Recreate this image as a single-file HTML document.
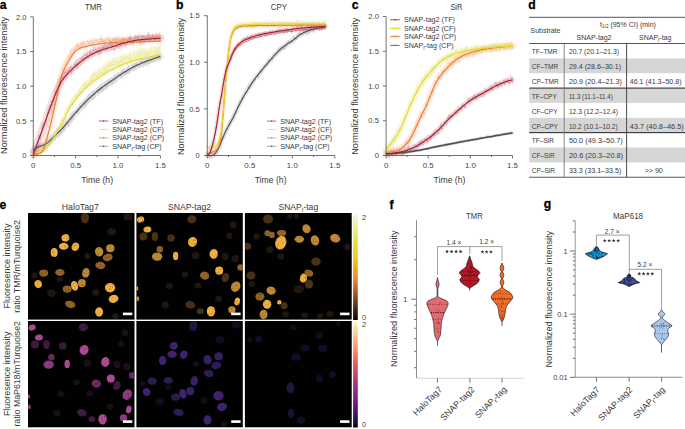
<!DOCTYPE html>
<html><head><meta charset="utf-8"><style>
html,body{margin:0;padding:0;background:#fff;overflow:hidden;}
svg{display:block;font-family:"Liberation Sans",sans-serif;}
</style></head><body>
<svg width="685" height="429" viewBox="0 0 685 429">
<rect width="685" height="429" fill="#fff"/>
<path d="M33.30 150.89 L34.10 150.13 L34.90 149.43 L35.70 148.80 L36.50 148.26 L37.30 147.80 L38.10 147.41 L38.90 147.07 L39.69 146.77 L40.49 146.49 L41.29 146.22 L42.09 145.95 L42.89 145.66 L43.69 145.34 L44.49 144.97 L45.29 144.54 L46.09 144.06 L46.89 143.52 L47.69 142.92 L48.49 142.28 L49.29 141.59 L50.09 140.87 L50.89 140.11 L51.68 139.32 L52.48 138.51 L53.28 137.70 L54.08 136.87 L54.88 136.05 L55.68 135.23 L56.48 134.41 L57.28 133.61 L58.08 132.82 L58.88 132.06 L59.68 131.31 L60.48 130.55 L61.28 129.79 L62.08 129.00 L62.88 128.17 L63.67 127.30 L64.47 126.39 L65.27 125.45 L66.07 124.48 L66.87 123.51 L67.67 122.52 L68.47 121.54 L69.27 120.57 L70.07 119.61 L70.87 118.66 L71.67 117.72 L72.47 116.79 L73.27 115.87 L74.07 114.95 L74.87 114.03 L75.66 113.11 L76.46 112.20 L77.26 111.28 L78.06 110.36 L78.86 109.44 L79.66 108.52 L80.46 107.61 L81.26 106.72 L82.06 105.83 L82.86 104.96 L83.66 104.11 L84.46 103.28 L85.26 102.46 L86.06 101.65 L86.86 100.86 L87.66 100.08 L88.45 99.32 L89.25 98.56 L90.05 97.81 L90.85 97.08 L91.65 96.36 L92.45 95.65 L93.25 94.94 L94.05 94.25 L94.85 93.57 L95.65 92.90 L96.45 92.24 L97.25 91.58 L98.05 90.94 L98.85 90.30 L99.65 89.67 L100.44 89.05 L101.24 88.44 L102.04 87.83 L102.84 87.24 L103.64 86.65 L104.44 86.07 L105.24 85.50 L106.04 84.93 L106.84 84.37 L107.64 83.81 L108.44 83.26 L109.24 82.71 L110.04 82.17 L110.84 81.62 L111.64 81.08 L112.43 80.54 L113.23 79.99 L114.03 79.45 L114.83 78.91 L115.63 78.36 L116.43 77.82 L117.23 77.27 L118.03 76.73 L118.83 76.19 L119.63 75.65 L120.43 75.12 L121.23 74.59 L122.03 74.07 L122.83 73.55 L123.63 73.04 L124.42 72.54 L125.22 72.04 L126.02 71.54 L126.82 71.05 L127.62 70.56 L128.42 70.08 L129.22 69.60 L130.02 69.14 L130.82 68.68 L131.62 68.24 L132.42 67.81 L133.22 67.38 L134.02 66.98 L134.82 66.58 L135.62 66.19 L136.41 65.81 L137.21 65.44 L138.01 65.07 L138.81 64.72 L139.61 64.36 L140.41 64.02 L141.21 63.68 L142.01 63.34 L142.81 63.01 L143.61 62.69 L144.41 62.37 L145.21 62.05 L146.01 61.74 L146.81 61.44 L147.61 61.14 L148.40 60.84 L149.20 60.55 L150.00 60.26 L150.80 59.97 L151.60 59.68 L152.40 59.40 L153.20 59.11 L154.00 58.83 L154.80 58.56 L155.60 58.28 L156.40 58.01 L157.20 57.74 L158.00 57.47 L158.80 57.20 L159.60 56.94 L160.39 56.68" stroke="#a5a5a5" stroke-width="6.86" stroke-opacity="0.22" fill="none" stroke-linecap="round"/>
<path d="M33.3 145.4V153.7M34.0 146.4V151.2M34.6 147.1V154.6M35.3 144.9V153.3M35.9 144.0V152.8M36.6 145.1V151.1M37.2 144.8V150.9M37.9 143.6V151.6M38.5 142.3V151.5M39.2 142.9V146.1M39.8 140.7V150.2M40.5 143.5V149.1M41.1 144.4V147.7M41.8 142.7V147.3M42.4 144.6V149.3M43.1 142.8V147.4M43.7 142.6V147.6M44.4 142.3V145.5M45.0 140.3V147.7M45.7 143.3V147.6M46.3 139.9V143.8M47.0 140.9V146.2M47.6 138.5V148.0M48.3 141.1V147.0M48.9 138.6V143.7M49.6 139.1V146.2M50.2 136.0V142.5M50.9 137.9V145.0M51.5 134.4V143.0M52.2 135.7V141.6M52.9 133.6V141.5M53.5 132.5V140.1M54.2 134.3V140.9M54.8 131.1V139.5M55.5 133.3V139.7M56.1 133.3V136.5M56.8 127.7V137.5M57.4 129.5V136.6M58.1 130.1V136.6M58.7 126.9V136.7M59.4 127.0V135.9M60.0 129.9V134.6M60.7 129.4V136.4M61.3 126.9V133.1M62.0 124.4V134.1M62.6 125.6V128.7M63.3 122.8V131.9M63.9 124.8V133.0M64.6 122.4V129.3M65.2 123.7V129.7M65.9 119.3V126.2M66.5 121.0V125.4M67.2 121.6V127.1M67.8 119.6V125.1M68.5 119.3V126.5M69.1 118.0V124.2M69.8 117.1V121.3M70.5 115.5V122.6M71.1 112.9V121.5M71.8 114.7V123.4M72.4 113.1V120.8M73.1 112.3V115.9M73.7 111.1V119.3M74.4 112.2V117.0M75.0 110.0V115.4M75.7 110.4V114.0M76.3 109.6V113.8M77.0 108.1V113.0M77.6 108.5V113.8M78.3 108.1V114.4M78.9 105.4V111.3M79.6 106.3V110.6M80.2 102.9V109.4M80.9 103.5V108.0M81.5 106.3V109.5M82.2 105.3V108.5M82.8 101.9V106.1M83.5 99.0V106.9M84.1 101.9V106.5M84.8 99.2V109.0M85.4 99.6V104.2M86.1 99.1V106.6M86.7 99.4V104.7M87.4 95.8V103.2M88.0 94.0V103.7M88.7 94.2V103.3M89.4 96.6V101.8M90.0 91.2V100.7M90.7 94.9V99.7M91.3 96.2V99.3M92.0 91.5V100.2M92.6 90.9V100.5M93.3 91.0V100.0M93.9 89.8V99.5M94.6 91.3V97.0M95.2 91.7V97.2M95.9 89.3V95.3M96.5 88.5V92.9M97.2 87.9V93.0M97.8 86.9V93.4M98.5 86.9V96.2M99.1 86.6V89.8M99.8 84.4V94.2M100.4 84.0V92.4M101.1 85.1V92.8M101.7 83.1V91.9M102.4 82.2V91.3M103.0 83.6V91.4M103.7 87.3V92.0M104.3 81.8V89.9M105.0 80.5V89.8M105.6 82.6V87.1M106.3 80.3V89.1M106.9 82.9V88.5M107.6 79.8V88.8M108.3 79.1V86.3M108.9 78.9V82.8M109.6 79.7V86.5M110.2 80.0V83.6M110.9 76.9V85.9M111.5 78.0V83.4M112.2 79.0V86.3M112.8 76.6V83.6M113.5 78.5V83.1M114.1 74.1V83.3M114.8 75.1V82.0M115.4 75.0V80.0M116.1 74.4V82.8M116.7 73.7V81.4M117.4 75.5V79.2M118.0 73.4V76.8M118.7 72.5V77.2M119.3 72.8V76.7M120.0 73.4V77.6M120.6 73.0V76.8M121.3 68.2V77.5M121.9 71.5V80.8M122.6 69.3V74.3M123.2 71.4V75.2M123.9 67.9V75.4M124.5 67.4V77.2M125.2 69.5V74.6M125.9 70.0V75.2M126.5 70.1V73.6M127.2 63.6V73.3M127.8 70.0V73.8M128.5 64.9V74.6M129.1 64.9V71.6M129.8 67.5V72.3M130.4 66.9V73.7M131.1 67.0V70.6M131.7 65.0V69.9M132.4 62.9V70.5M133.0 63.9V71.3M133.7 63.6V68.8M134.3 64.6V69.8M135.0 62.7V71.9M135.6 61.8V66.9M136.3 63.0V70.0M136.9 60.9V68.0M137.6 62.9V67.6M138.2 63.0V66.5M138.9 63.3V66.8M139.5 60.8V68.2M140.2 61.4V67.8M140.8 57.6V66.5M141.5 58.6V67.1M142.1 60.5V64.1M142.8 58.2V66.6M143.4 58.1V67.9M144.1 60.2V64.0M144.8 59.8V66.3M145.4 56.6V65.8M146.1 60.1V64.2M146.7 58.6V63.9M147.4 56.7V66.0M148.0 55.8V64.6M148.7 58.8V67.0M149.3 57.7V63.8M150.0 58.8V62.9M150.6 58.0V62.8M151.3 59.6V63.1M151.9 54.3V61.1M152.6 56.4V63.1M153.2 55.5V61.3M153.9 57.1V62.5M154.5 54.9V62.4M155.2 55.2V61.1M155.8 55.8V61.3M156.5 56.1V60.1M157.1 52.8V61.6M157.8 54.1V59.9M158.4 56.2V60.8M159.1 54.7V57.8M159.7 54.3V61.8M160.4 53.9V59.9" stroke="#a5a5a5" stroke-width="0.5" stroke-opacity="0.45" fill="none"/>
<path d="M32.6 149.5h1.4M33.3 148.8h1.4M33.9 150.8h1.4M34.6 149.1h1.4M35.2 148.4h1.4M35.9 148.1h1.4M36.5 147.8h1.4M37.2 147.6h1.4M37.8 146.9h1.4M38.5 144.5h1.4M39.1 145.4h1.4M39.8 146.3h1.4M40.4 146.1h1.4M41.1 145.0h1.4M41.7 147.0h1.4M42.4 145.1h1.4M43.0 145.1h1.4M43.7 143.9h1.4M44.3 144.0h1.4M45.0 145.4h1.4M45.6 141.8h1.4M46.3 143.5h1.4M46.9 143.3h1.4M47.6 144.1h1.4M48.2 141.1h1.4M48.9 142.7h1.4M49.5 139.2h1.4M50.2 141.4h1.4M50.8 138.7h1.4M51.5 138.6h1.4M52.2 137.5h1.4M52.8 136.3h1.4M53.5 137.6h1.4M54.1 135.3h1.4M54.8 136.5h1.4M55.4 134.9h1.4M56.1 132.6h1.4M56.7 133.0h1.4M57.4 133.3h1.4M58.0 131.8h1.4M58.7 131.4h1.4M59.3 132.3h1.4M60.0 132.9h1.4M60.6 130.0h1.4M61.3 129.3h1.4M61.9 127.1h1.4M62.6 127.3h1.4M63.2 128.9h1.4M63.9 125.8h1.4M64.5 126.7h1.4M65.2 122.7h1.4M65.8 123.2h1.4M66.5 124.3h1.4M67.1 122.3h1.4M67.8 122.9h1.4M68.4 121.1h1.4M69.1 119.2h1.4M69.8 119.0h1.4M70.4 117.2h1.4M71.1 119.0h1.4M71.7 116.9h1.4M72.4 114.1h1.4M73.0 115.2h1.4M73.7 114.6h1.4M74.3 112.7h1.4M75.0 112.2h1.4M75.6 111.7h1.4M76.3 110.5h1.4M76.9 111.1h1.4M77.6 111.2h1.4M78.2 108.4h1.4M78.9 108.5h1.4M79.5 106.1h1.4M80.2 105.7h1.4M80.8 107.9h1.4M81.5 106.9h1.4M82.1 104.0h1.4M82.8 103.0h1.4M83.4 104.2h1.4M84.1 104.1h1.4M84.7 101.9h1.4M85.4 102.8h1.4M86.0 102.0h1.4M86.7 99.5h1.4M87.3 98.9h1.4M88.0 98.8h1.4M88.7 99.2h1.4M89.3 95.9h1.4M90.0 97.3h1.4M90.6 97.7h1.4M91.3 95.9h1.4M91.9 95.7h1.4M92.6 95.5h1.4M93.2 94.6h1.4M93.9 94.2h1.4M94.5 94.4h1.4M95.2 92.3h1.4M95.8 90.7h1.4M96.5 90.4h1.4M97.1 90.2h1.4M97.8 91.6h1.4M98.4 88.2h1.4M99.1 89.3h1.4M99.7 88.2h1.4M100.4 88.9h1.4M101.0 87.5h1.4M101.7 86.7h1.4M102.3 87.5h1.4M103.0 89.6h1.4M103.6 85.8h1.4M104.3 85.1h1.4M104.9 84.9h1.4M105.6 84.7h1.4M106.2 85.7h1.4M106.9 84.3h1.4M107.6 82.7h1.4M108.2 80.9h1.4M108.9 83.1h1.4M109.5 81.8h1.4M110.2 81.4h1.4M110.8 80.7h1.4M111.5 82.6h1.4M112.1 80.1h1.4M112.8 80.8h1.4M113.4 78.7h1.4M114.1 78.5h1.4M114.7 77.5h1.4M115.4 78.6h1.4M116.0 77.5h1.4M116.7 77.3h1.4M117.3 75.1h1.4M118.0 74.9h1.4M118.6 74.8h1.4M119.3 75.5h1.4M119.9 74.9h1.4M120.6 72.8h1.4M121.2 76.1h1.4M121.9 71.8h1.4M122.5 73.3h1.4M123.2 71.7h1.4M123.8 72.3h1.4M124.5 72.0h1.4M125.2 72.6h1.4M125.8 71.9h1.4M126.5 68.5h1.4M127.1 71.9h1.4M127.8 69.7h1.4M128.4 68.3h1.4M129.1 69.9h1.4M129.7 70.3h1.4M130.4 68.8h1.4M131.0 67.5h1.4M131.7 66.7h1.4M132.3 67.6h1.4M133.0 66.2h1.4M133.6 67.2h1.4M134.3 67.3h1.4M134.9 64.3h1.4M135.6 66.5h1.4M136.2 64.4h1.4M136.9 65.3h1.4M137.5 64.8h1.4M138.2 65.1h1.4M138.8 64.5h1.4M139.5 64.6h1.4M140.1 62.1h1.4M140.8 62.9h1.4M141.4 62.3h1.4M142.1 62.4h1.4M142.7 63.0h1.4M143.4 62.1h1.4M144.1 63.1h1.4M144.7 61.2h1.4M145.4 62.1h1.4M146.0 61.3h1.4M146.7 61.4h1.4M147.3 60.2h1.4M148.0 62.9h1.4M148.6 60.7h1.4M149.3 60.9h1.4M149.9 60.4h1.4M150.6 61.3h1.4M151.2 57.7h1.4M151.9 59.8h1.4M152.5 58.4h1.4M153.2 59.8h1.4M153.8 58.7h1.4M154.5 58.2h1.4M155.1 58.5h1.4M155.8 58.1h1.4M156.4 57.2h1.4M157.1 57.0h1.4M157.7 58.5h1.4M158.4 56.3h1.4M159.0 58.1h1.4M159.7 56.9h1.4" stroke="#a5a5a5" stroke-width="0.8" stroke-opacity="0.6" fill="none"/>
<path d="M33.30 153.17 L34.10 152.75 L34.90 152.36 L35.70 152.02 L36.50 151.72 L37.30 151.45 L38.10 151.18 L38.90 150.91 L39.69 150.60 L40.49 150.24 L41.29 149.81 L42.09 149.31 L42.89 148.71 L43.69 147.99 L44.49 147.16 L45.29 146.21 L46.09 145.17 L46.89 144.04 L47.69 142.86 L48.49 141.63 L49.29 140.36 L50.09 139.07 L50.89 137.76 L51.68 136.45 L52.48 135.12 L53.28 133.78 L54.08 132.43 L54.88 131.06 L55.68 129.67 L56.48 128.26 L57.28 126.84 L58.08 125.44 L58.88 124.08 L59.68 122.73 L60.48 121.37 L61.28 119.93 L62.08 118.39 L62.88 116.72 L63.67 114.95 L64.47 113.12 L65.27 111.26 L66.07 109.42 L66.87 107.64 L67.67 105.94 L68.47 104.33 L69.27 102.82 L70.07 101.40 L70.87 100.05 L71.67 98.75 L72.47 97.50 L73.27 96.29 L74.07 95.10 L74.87 93.94 L75.66 92.79 L76.46 91.67 L77.26 90.57 L78.06 89.49 L78.86 88.44 L79.66 87.40 L80.46 86.39 L81.26 85.40 L82.06 84.44 L82.86 83.50 L83.66 82.58 L84.46 81.69 L85.26 80.82 L86.06 79.97 L86.86 79.13 L87.66 78.32 L88.45 77.52 L89.25 76.74 L90.05 75.98 L90.85 75.23 L91.65 74.51 L92.45 73.79 L93.25 73.10 L94.05 72.42 L94.85 71.76 L95.65 71.12 L96.45 70.48 L97.25 69.85 L98.05 69.23 L98.85 68.62 L99.65 68.00 L100.44 67.38 L101.24 66.76 L102.04 66.14 L102.84 65.53 L103.64 64.92 L104.44 64.39 L105.24 63.89 L106.04 63.40 L106.84 62.93 L107.64 62.47 L108.44 62.02 L109.24 61.57 L110.04 61.13 L110.84 60.71 L111.64 60.29 L112.43 59.87 L113.23 59.47 L114.03 59.07 L114.83 58.68 L115.63 58.30 L116.43 57.92 L117.23 57.55 L118.03 57.19 L118.83 56.83 L119.63 56.48 L120.43 56.14 L121.23 55.80 L122.03 55.47 L122.83 55.14 L123.63 54.81 L124.42 54.49 L125.22 54.18 L126.02 53.86 L126.82 53.56 L127.62 53.25 L128.42 52.95 L129.22 52.66 L130.02 52.38 L130.82 52.10 L131.62 51.84 L132.42 51.58 L133.22 51.34 L134.02 51.10 L134.82 50.88 L135.62 50.66 L136.41 50.45 L137.21 50.24 L138.01 50.04 L138.81 49.85 L139.61 49.66 L140.41 49.48 L141.21 49.29 L142.01 49.11 L142.81 48.94 L143.61 48.77 L144.41 48.60 L145.21 48.43 L146.01 48.27 L146.81 48.11 L147.61 47.95 L148.40 47.80 L149.20 47.64 L150.00 47.49 L150.80 47.33 L151.60 47.18 L152.40 47.03 L153.20 46.87 L154.00 46.71 L154.80 46.56 L155.60 46.40 L156.40 46.24 L157.20 46.08 L158.00 45.93 L158.80 45.77 L159.60 45.61 L160.39 45.45 L160.39 56.68 L159.60 56.84 L158.80 56.99 L158.00 57.15 L157.20 57.31 L156.40 57.47 L155.60 57.62 L154.80 57.78 L154.00 57.94 L153.20 58.10 L152.40 58.25 L151.60 58.41 L150.80 58.56 L150.00 58.72 L149.20 58.87 L148.40 59.02 L147.61 59.18 L146.81 59.33 L146.01 59.49 L145.21 59.66 L144.41 59.82 L143.61 59.99 L142.81 60.17 L142.01 60.34 L141.21 60.52 L140.41 60.70 L139.61 60.89 L138.81 61.08 L138.01 61.27 L137.21 61.47 L136.41 61.68 L135.62 61.89 L134.82 62.10 L134.02 62.33 L133.22 62.57 L132.42 62.81 L131.62 63.07 L130.82 63.33 L130.02 63.61 L129.22 63.89 L128.42 64.18 L127.62 64.48 L126.82 64.78 L126.02 65.09 L125.22 65.40 L124.42 65.72 L123.63 66.04 L122.83 66.36 L122.03 66.69 L121.23 67.03 L120.43 67.37 L119.63 67.71 L118.83 68.06 L118.03 68.42 L117.23 68.78 L116.43 69.15 L115.63 69.52 L114.83 69.91 L114.03 70.30 L113.23 70.69 L112.43 71.10 L111.64 71.51 L110.84 71.93 L110.04 72.36 L109.24 72.80 L108.44 73.24 L107.64 73.70 L106.84 74.16 L106.04 74.63 L105.24 75.12 L104.44 75.61 L103.64 76.12 L102.84 76.63 L102.04 77.15 L101.24 77.67 L100.44 78.19 L99.65 78.72 L98.85 79.24 L98.05 79.76 L97.25 80.29 L96.45 80.82 L95.65 81.36 L94.85 81.91 L94.05 82.47 L93.25 83.06 L92.45 83.65 L91.65 84.27 L90.85 84.90 L90.05 85.55 L89.25 86.22 L88.45 86.91 L87.66 87.61 L86.86 88.33 L86.06 89.06 L85.26 89.82 L84.46 90.60 L83.66 91.40 L82.86 92.22 L82.06 93.06 L81.26 93.93 L80.46 94.82 L79.66 95.74 L78.86 96.68 L78.06 97.64 L77.26 98.62 L76.46 99.63 L75.66 100.65 L74.87 101.70 L74.07 102.77 L73.27 103.86 L72.47 104.98 L71.67 106.13 L70.87 107.33 L70.07 108.59 L69.27 109.92 L68.47 111.33 L67.67 112.84 L66.87 114.45 L66.07 116.14 L65.27 117.88 L64.47 119.64 L63.67 121.38 L62.88 123.06 L62.08 124.63 L61.28 126.08 L60.48 127.41 L59.68 128.68 L58.88 129.93 L58.08 131.21 L57.28 132.51 L56.48 133.83 L55.68 135.15 L54.88 136.44 L54.08 137.72 L53.28 138.97 L52.48 140.22 L51.68 141.45 L50.89 142.67 L50.09 143.88 L49.29 145.08 L48.49 146.25 L47.69 147.38 L46.89 148.47 L46.09 149.50 L45.29 150.45 L44.49 151.30 L43.69 152.04 L42.89 152.66 L42.09 153.16 L41.29 153.57 L40.49 153.90 L39.69 154.17 L38.90 154.38 L38.10 154.56 L37.30 154.73 L36.50 154.91 L35.70 155.12 L34.90 155.36 L34.10 155.65 L33.30 155.97Z" fill="#e9e27a" fill-opacity="0.22" stroke="none"/>
<path d="M33.3 153.9V155.9M34.0 153.7V156.4M34.6 153.1V155.6M35.3 152.1V155.2M35.9 151.3V153.5M36.6 152.3V155.8M37.2 151.3V154.5M37.9 150.7V155.1M38.5 149.9V154.4M39.2 150.3V153.0M39.8 151.3V154.3M40.5 151.2V155.4M41.1 149.4V154.3M41.8 149.8V154.9M42.4 148.9V151.3M43.1 149.4V152.2M43.7 147.4V152.2M44.4 147.4V149.4M45.0 147.5V150.8M45.7 146.9V151.1M46.3 145.3V147.4M47.0 141.8V148.1M47.6 143.2V146.4M48.3 142.2V148.5M48.9 139.9V145.6M49.6 139.3V145.4M50.2 139.8V144.1M50.9 138.0V144.7M51.5 135.2V141.4M52.2 136.1V140.5M52.9 135.2V138.1M53.5 131.8V138.8M54.2 131.7V137.2M54.8 131.7V136.3M55.5 130.3V134.0M56.1 127.8V134.4M56.8 127.4V132.4M57.4 128.1V130.8M58.1 125.7V133.0M58.7 126.4V130.2M59.4 124.4V128.6M60.0 120.7V126.9M60.7 120.3V127.8M61.3 117.3V125.0M62.0 117.4V123.2M62.6 116.5V124.7M63.3 116.2V121.5M63.9 116.8V121.5M64.6 112.6V116.3M65.2 109.3V117.2M65.9 112.2V120.3M66.5 107.9V117.5M67.2 105.9V112.9M67.8 105.3V110.5M68.5 105.6V112.4M69.1 105.0V108.2M69.8 104.1V109.5M70.5 100.8V106.9M71.1 99.5V106.3M71.8 100.3V108.4M72.4 100.3V103.7M73.1 97.0V102.4M73.7 97.0V106.7M74.4 96.5V103.9M75.0 91.0V101.0M75.7 93.5V100.2M76.3 93.0V99.0M77.0 96.9V101.8M77.6 92.2V98.7M78.3 92.7V96.4M78.9 90.2V97.2M79.6 85.2V96.1M80.2 87.4V98.7M80.9 86.3V96.5M81.5 87.3V96.6M82.2 83.8V93.2M82.8 84.3V93.7M83.5 83.6V93.1M84.1 78.1V89.6M84.8 81.5V92.3M85.4 80.6V87.8M86.1 83.4V89.8M86.7 80.2V89.3M87.4 83.8V89.3M88.0 77.3V85.9M88.7 81.4V86.0M89.4 80.2V88.4M90.0 77.2V84.8M90.7 75.8V85.0M91.3 73.2V86.7M92.0 74.2V85.4M92.6 75.1V85.5M93.3 71.1V84.4M93.9 72.7V79.9M94.6 69.0V78.8M95.2 70.8V79.1M95.9 76.0V82.3M96.5 70.1V81.5M97.2 72.2V79.7M97.8 72.6V83.7M98.5 70.6V77.2M99.1 64.6V77.8M99.8 68.5V75.7M100.4 66.5V81.7M101.1 70.8V76.0M101.7 68.3V83.0M102.4 67.8V77.5M103.0 65.5V78.9M103.7 64.2V76.2M104.3 68.0V74.8M105.0 59.8V75.1M105.6 63.1V76.2M106.3 64.7V75.6M106.9 66.2V72.8M107.6 61.4V70.5M108.3 58.5V71.9M108.9 60.6V73.7M109.6 59.5V67.9M110.2 59.8V70.3M110.9 62.0V68.1M111.5 59.8V71.5M112.2 57.5V72.5M112.8 58.7V71.6M113.5 57.4V71.5M114.1 57.4V66.3M114.8 57.8V72.2M115.4 58.6V64.7M116.1 56.8V66.3M116.7 62.0V68.9M117.4 59.2V66.8M118.0 56.1V67.6M118.7 60.9V68.3M119.3 56.8V68.5M120.0 56.2V71.4M120.6 54.1V68.0M121.3 54.1V68.7M121.9 56.2V67.7M122.6 51.3V66.6M123.2 57.3V70.8M123.9 54.5V61.1M124.5 56.4V63.1M125.2 53.8V66.2M125.9 54.4V60.9M126.5 53.5V63.7M127.2 53.9V59.3M127.8 59.8V65.5M128.5 54.2V62.3M129.1 55.7V62.0M129.8 51.6V63.7M130.4 50.9V64.3M131.1 53.0V65.4M131.7 56.4V65.8M132.4 54.9V67.0M133.0 57.2V64.9M133.7 46.5V58.1M134.3 50.4V59.3M135.0 53.1V64.0M135.6 55.1V60.7M136.3 53.8V61.0M136.9 46.8V61.7M137.6 52.0V65.0M138.2 47.5V60.9M138.9 52.2V60.0M139.5 50.7V66.7M140.2 45.1V59.7M140.8 43.9V58.5M141.5 46.9V61.0M142.1 49.3V59.5M142.8 56.0V61.4M143.4 44.6V55.5M144.1 50.6V60.0M144.8 47.3V60.2M145.4 48.2V59.1M146.1 51.2V57.2M146.7 50.8V56.2M147.4 49.8V59.1M148.0 50.5V56.9M148.7 48.2V62.1M149.3 47.6V56.0M150.0 52.1V61.8M150.6 48.6V57.3M151.3 45.8V54.6M151.9 45.9V57.4M152.6 54.6V60.8M153.2 45.7V61.8M153.9 47.7V60.7M154.5 45.1V56.1M155.2 47.3V62.4M155.8 47.7V54.5M156.5 48.8V57.9M157.1 48.2V57.1M157.8 46.0V57.4M158.4 41.6V53.9M159.1 46.0V54.5M159.7 47.5V56.1M160.4 42.5V55.9" stroke="#e9e27a" stroke-width="0.5" stroke-opacity="0.45" fill="none"/>
<path d="M32.6 154.9h1.4M33.3 155.1h1.4M33.9 154.4h1.4M34.6 153.7h1.4M35.2 152.4h1.4M35.9 154.0h1.4M36.5 152.9h1.4M37.2 152.9h1.4M37.8 152.2h1.4M38.5 151.6h1.4M39.1 152.8h1.4M39.8 153.3h1.4M40.4 151.9h1.4M41.1 152.4h1.4M41.7 150.1h1.4M42.4 150.8h1.4M43.0 149.8h1.4M43.7 148.4h1.4M44.3 149.1h1.4M45.0 149.0h1.4M45.6 146.3h1.4M46.3 145.0h1.4M46.9 144.8h1.4M47.6 145.3h1.4M48.2 142.8h1.4M48.9 142.4h1.4M49.5 142.0h1.4M50.2 141.4h1.4M50.8 138.3h1.4M51.5 138.3h1.4M52.2 136.6h1.4M52.8 135.3h1.4M53.5 134.5h1.4M54.1 134.0h1.4M54.8 132.2h1.4M55.4 131.1h1.4M56.1 129.9h1.4M56.7 129.4h1.4M57.4 129.4h1.4M58.0 128.3h1.4M58.7 126.5h1.4M59.3 123.8h1.4M60.0 124.1h1.4M60.6 121.2h1.4M61.3 120.3h1.4M61.9 120.6h1.4M62.6 118.8h1.4M63.2 119.1h1.4M63.9 114.4h1.4M64.5 113.3h1.4M65.2 116.3h1.4M65.8 112.7h1.4M66.5 109.4h1.4M67.1 107.9h1.4M67.8 109.0h1.4M68.4 106.6h1.4M69.1 106.8h1.4M69.8 103.8h1.4M70.4 102.9h1.4M71.1 104.3h1.4M71.7 102.0h1.4M72.4 99.7h1.4M73.0 101.8h1.4M73.7 100.2h1.4M74.3 96.0h1.4M75.0 96.9h1.4M75.6 96.0h1.4M76.3 99.4h1.4M76.9 95.5h1.4M77.6 94.6h1.4M78.2 93.7h1.4M78.9 90.6h1.4M79.5 93.1h1.4M80.2 91.4h1.4M80.8 92.0h1.4M81.5 88.5h1.4M82.1 89.0h1.4M82.8 88.4h1.4M83.4 83.8h1.4M84.1 86.9h1.4M84.7 84.2h1.4M85.4 86.6h1.4M86.0 84.7h1.4M86.7 86.6h1.4M87.3 81.6h1.4M88.0 83.7h1.4M88.7 84.3h1.4M89.3 81.0h1.4M90.0 80.4h1.4M90.6 80.0h1.4M91.3 79.8h1.4M91.9 80.3h1.4M92.6 77.7h1.4M93.2 76.3h1.4M93.9 73.9h1.4M94.5 74.9h1.4M95.2 79.2h1.4M95.8 75.8h1.4M96.5 75.9h1.4M97.1 78.1h1.4M97.8 73.9h1.4M98.4 71.2h1.4M99.1 72.1h1.4M99.7 74.1h1.4M100.4 73.4h1.4M101.0 75.6h1.4M101.7 72.7h1.4M102.3 72.2h1.4M103.0 70.2h1.4M103.6 71.4h1.4M104.3 67.4h1.4M104.9 69.6h1.4M105.6 70.1h1.4M106.2 69.5h1.4M106.9 66.0h1.4M107.6 65.2h1.4M108.2 67.2h1.4M108.9 63.7h1.4M109.5 65.0h1.4M110.2 65.0h1.4M110.8 65.7h1.4M111.5 65.0h1.4M112.1 65.2h1.4M112.8 64.4h1.4M113.4 61.8h1.4M114.1 65.0h1.4M114.7 61.7h1.4M115.4 61.5h1.4M116.0 65.4h1.4M116.7 63.0h1.4M117.3 61.8h1.4M118.0 64.6h1.4M118.6 62.6h1.4M119.3 63.8h1.4M119.9 61.0h1.4M120.6 61.4h1.4M121.2 62.0h1.4M121.9 59.0h1.4M122.5 64.0h1.4M123.2 57.8h1.4M123.8 59.7h1.4M124.5 60.0h1.4M125.2 57.6h1.4M125.8 58.6h1.4M126.5 56.6h1.4M127.1 62.6h1.4M127.8 58.2h1.4M128.4 58.8h1.4M129.1 57.7h1.4M129.7 57.6h1.4M130.4 59.2h1.4M131.0 61.1h1.4M131.7 60.9h1.4M132.3 61.0h1.4M133.0 52.3h1.4M133.6 54.8h1.4M134.3 58.5h1.4M134.9 57.9h1.4M135.6 57.4h1.4M136.2 54.2h1.4M136.9 58.5h1.4M137.5 54.2h1.4M138.2 56.1h1.4M138.8 58.7h1.4M139.5 52.4h1.4M140.1 51.2h1.4M140.8 54.0h1.4M141.4 54.4h1.4M142.1 58.7h1.4M142.7 50.0h1.4M143.4 55.3h1.4M144.1 53.8h1.4M144.7 53.7h1.4M145.4 54.2h1.4M146.0 53.5h1.4M146.7 54.4h1.4M147.3 53.7h1.4M148.0 55.2h1.4M148.6 51.8h1.4M149.3 56.9h1.4M149.9 52.9h1.4M150.6 50.2h1.4M151.2 51.6h1.4M151.9 57.7h1.4M152.5 53.8h1.4M153.2 54.2h1.4M153.8 50.6h1.4M154.5 54.9h1.4M155.1 51.1h1.4M155.8 53.3h1.4M156.4 52.6h1.4M157.1 51.7h1.4M157.7 47.8h1.4M158.4 50.3h1.4M159.0 51.8h1.4M159.7 49.2h1.4" stroke="#e9e27a" stroke-width="0.8" stroke-opacity="0.6" fill="none"/>
<path d="M33.30 153.07 L34.10 152.79 L34.90 152.51 L35.70 152.23 L36.50 151.95 L37.30 151.68 L38.10 151.40 L38.90 151.11 L39.69 150.78 L40.49 150.36 L41.29 149.81 L42.09 149.05 L42.89 147.99 L43.69 146.53 L44.49 144.60 L45.29 142.18 L46.09 139.33 L46.89 136.21 L47.69 133.05 L48.49 129.99 L49.29 127.07 L50.09 124.17 L50.89 121.14 L51.68 117.87 L52.48 114.40 L53.28 110.80 L54.08 107.18 L54.88 103.59 L55.68 99.99 L56.48 96.33 L57.28 92.57 L58.08 88.73 L58.88 84.91 L59.68 81.25 L60.48 77.91 L61.28 74.97 L62.08 72.43 L62.88 70.23 L63.67 68.30 L64.47 66.53 L65.27 64.88 L66.07 63.31 L66.87 61.80 L67.67 60.35 L68.47 58.93 L69.27 57.55 L70.07 56.20 L70.87 54.87 L71.67 53.57 L72.47 52.32 L73.27 51.17 L74.07 50.14 L74.87 49.24 L75.66 48.48 L76.46 47.82 L77.26 47.26 L78.06 46.78 L78.86 46.35 L79.66 45.97 L80.46 45.63 L81.26 45.33 L82.06 45.06 L82.86 44.82 L83.66 44.60 L84.46 44.40 L85.26 44.20 L86.06 44.02 L86.86 43.84 L87.66 43.67 L88.45 43.49 L89.25 43.32 L90.05 43.14 L90.85 42.97 L91.65 42.81 L92.45 42.64 L93.25 42.48 L94.05 42.33 L94.85 42.18 L95.65 42.04 L96.45 41.90 L97.25 41.76 L98.05 41.63 L98.85 41.50 L99.65 41.37 L100.44 41.24 L101.24 41.12 L102.04 41.01 L102.84 40.91 L103.64 40.82 L104.44 40.74 L105.24 40.68 L106.04 40.62 L106.84 40.58 L107.64 40.54 L108.44 40.51 L109.24 40.48 L110.04 40.45 L110.84 40.43 L111.64 40.41 L112.43 40.39 L113.23 40.37 L114.03 40.35 L114.83 40.33 L115.63 40.32 L116.43 40.30 L117.23 40.28 L118.03 40.26 L118.83 40.24 L119.63 40.22 L120.43 40.20 L121.23 40.17 L122.03 40.15 L122.83 40.12 L123.63 40.09 L124.42 40.07 L125.22 40.04 L126.02 40.01 L126.82 39.98 L127.62 39.95 L128.42 39.92 L129.22 39.89 L130.02 39.86 L130.82 39.83 L131.62 39.80 L132.42 39.77 L133.22 39.74 L134.02 39.71 L134.82 39.68 L135.62 39.65 L136.41 39.62 L137.21 39.59 L138.01 39.56 L138.81 39.52 L139.61 39.49 L140.41 39.46 L141.21 39.43 L142.01 39.40 L142.81 39.37 L143.61 39.34 L144.41 39.31 L145.21 39.28 L146.01 39.24 L146.81 39.21 L147.61 39.18 L148.40 39.15 L149.20 39.12 L150.00 39.09 L150.80 39.05 L151.60 39.02 L152.40 38.99 L153.20 38.96 L154.00 38.92 L154.80 38.89 L155.60 38.86 L156.40 38.83 L157.20 38.79 L158.00 38.76 L158.80 38.73 L159.60 38.69 L160.39 38.66" stroke="#f6a87c" stroke-width="6.24" stroke-opacity="0.22" fill="none" stroke-linecap="round"/>
<path d="M33.3 152.9V156.6M34.0 148.6V157.1M34.6 151.6V154.8M35.3 146.8V155.7M35.9 150.9V159.5M36.6 147.1V156.0M37.2 146.2V154.7M37.9 150.5V158.3M38.5 147.0V153.3M39.2 145.3V154.2M39.8 146.6V154.0M40.5 150.0V155.0M41.1 145.4V150.7M41.8 147.3V152.9M42.4 145.0V148.9M43.1 146.1V149.8M43.7 142.9V151.4M44.4 144.6V148.5M45.0 143.4V146.5M45.7 137.9V141.3M46.3 137.7V141.2M47.0 133.9V138.3M47.6 132.8V136.0M48.3 130.4V133.6M48.9 125.2V129.1M49.6 123.5V131.6M50.2 118.2V126.3M50.9 117.3V124.5M51.5 115.8V122.3M52.2 108.7V116.9M52.9 108.1V115.1M53.5 107.6V113.8M54.2 100.9V108.2M54.8 100.8V108.7M55.5 97.9V101.9M56.1 94.3V101.8M56.8 91.9V97.7M57.4 90.9V96.2M58.1 83.8V90.2M58.7 85.8V88.8M59.4 79.7V83.7M60.0 78.7V83.3M60.7 75.4V79.0M61.3 72.6V77.3M62.0 66.6V75.4M62.6 69.3V75.5M63.3 67.8V73.8M63.9 65.4V71.6M64.6 62.2V67.5M65.2 64.7V71.4M65.9 61.1V67.0M66.5 58.1V64.5M67.2 62.9V66.7M67.8 57.8V64.6M68.5 53.5V59.8M69.1 55.3V60.4M69.8 55.1V63.5M70.5 50.2V57.2M71.1 47.9V56.0M71.8 52.7V57.9M72.4 52.3V57.4M73.1 47.2V54.6M73.7 49.0V54.6M74.4 47.9V51.4M75.0 48.5V51.4M75.7 45.4V49.3M76.3 44.9V51.3M77.0 42.4V47.0M77.6 43.0V49.0M78.3 43.0V50.4M78.9 43.0V50.7M79.6 44.5V50.3M80.2 41.7V50.5M80.9 43.4V50.7M81.5 40.2V49.0M82.2 42.5V46.7M82.8 40.9V46.7M83.5 40.1V48.8M84.1 42.3V50.3M84.8 41.3V44.7M85.4 44.6V50.8M86.1 43.9V50.0M86.7 41.4V50.2M87.4 39.3V42.7M88.0 41.5V48.4M88.7 42.2V45.7M89.4 40.5V46.3M90.0 38.2V45.9M90.7 38.0V45.0M91.3 43.1V46.4M92.0 42.0V46.6M92.6 38.3V44.3M93.3 37.9V46.0M93.9 41.0V44.5M94.6 42.5V46.5M95.2 37.1V43.2M95.9 40.0V49.0M96.5 38.2V42.7M97.2 41.6V47.8M97.8 39.5V43.6M98.5 38.6V44.4M99.1 41.3V44.1M99.8 35.0V43.6M100.4 37.0V45.8M101.1 38.6V44.1M101.7 35.6V43.1M102.4 38.2V42.7M103.0 38.1V45.3M103.7 39.4V43.4M104.3 37.2V43.5M105.0 40.5V46.6M105.6 39.4V46.0M106.3 37.5V42.0M106.9 35.9V43.0M107.6 38.1V43.2M108.3 36.7V42.4M108.9 39.5V43.4M109.6 34.7V43.0M110.2 39.5V42.6M110.9 39.6V44.4M111.5 37.2V45.1M112.2 38.1V46.4M112.8 38.6V43.4M113.5 37.1V40.7M114.1 38.0V41.3M114.8 36.4V42.6M115.4 37.3V44.4M116.1 39.9V44.1M116.7 35.6V43.9M117.4 35.9V41.3M118.0 37.6V42.3M118.7 36.9V43.5M119.3 35.9V42.9M120.0 35.3V44.2M120.6 38.2V44.2M121.3 37.1V40.0M121.9 38.3V42.7M122.6 35.7V43.2M123.2 38.6V41.9M123.9 36.8V44.1M124.5 36.9V41.3M125.2 37.8V40.8M125.9 36.6V41.9M126.5 35.5V44.1M127.2 37.1V44.1M127.8 38.5V43.0M128.5 36.8V45.5M129.1 37.5V42.5M129.8 35.2V43.2M130.4 38.4V45.0M131.1 35.3V42.4M131.7 37.5V44.1M132.4 38.5V44.6M133.0 37.4V42.7M133.7 35.0V41.2M134.3 39.3V42.4M135.0 38.5V42.6M135.6 37.0V42.4M136.3 38.4V42.9M136.9 36.9V42.9M137.6 39.3V42.7M138.2 36.8V41.9M138.9 37.4V43.6M139.5 36.9V44.9M140.2 38.3V41.3M140.8 39.2V43.9M141.5 35.5V44.0M142.1 38.3V42.0M142.8 34.7V42.7M143.4 36.0V44.0M144.1 38.9V42.7M144.8 32.8V40.8M145.4 38.6V42.1M146.1 35.0V41.5M146.7 35.6V43.3M147.4 33.9V40.4M148.0 31.5V40.0M148.7 35.6V42.4M149.3 36.3V44.5M150.0 35.0V40.7M150.6 36.0V41.4M151.3 36.6V45.2M151.9 39.0V42.1M152.6 35.1V40.8M153.2 35.5V38.2M153.9 36.9V39.9M154.5 35.3V41.3M155.2 35.9V40.9M155.8 35.1V43.6M156.5 31.5V38.3M157.1 35.8V40.1M157.8 37.3V45.1M158.4 36.1V41.1M159.1 35.1V38.8M159.7 35.8V40.5M160.4 37.6V45.8" stroke="#f6a87c" stroke-width="0.5" stroke-opacity="0.45" fill="none"/>
<path d="M32.6 154.8h1.4M33.3 152.9h1.4M33.9 153.2h1.4M34.6 151.3h1.4M35.2 155.2h1.4M35.9 151.5h1.4M36.5 150.4h1.4M37.2 154.4h1.4M37.8 150.1h1.4M38.5 149.7h1.4M39.1 150.3h1.4M39.8 152.5h1.4M40.4 148.1h1.4M41.1 150.1h1.4M41.7 147.0h1.4M42.4 147.9h1.4M43.0 147.1h1.4M43.7 146.5h1.4M44.3 144.9h1.4M45.0 139.6h1.4M45.6 139.4h1.4M46.3 136.1h1.4M46.9 134.4h1.4M47.6 132.0h1.4M48.2 127.1h1.4M48.9 127.6h1.4M49.5 122.3h1.4M50.2 120.9h1.4M50.8 119.1h1.4M51.5 112.8h1.4M52.2 111.6h1.4M52.8 110.7h1.4M53.5 104.5h1.4M54.1 104.8h1.4M54.8 99.9h1.4M55.4 98.0h1.4M56.1 94.8h1.4M56.7 93.6h1.4M57.4 87.0h1.4M58.0 87.3h1.4M58.7 81.7h1.4M59.3 81.0h1.4M60.0 77.2h1.4M60.6 74.9h1.4M61.3 71.0h1.4M61.9 72.4h1.4M62.6 70.8h1.4M63.2 68.5h1.4M63.9 64.9h1.4M64.5 68.1h1.4M65.2 64.1h1.4M65.8 61.3h1.4M66.5 64.8h1.4M67.1 61.2h1.4M67.8 56.6h1.4M68.4 57.8h1.4M69.1 59.3h1.4M69.8 53.7h1.4M70.4 51.9h1.4M71.1 55.3h1.4M71.7 54.8h1.4M72.4 50.9h1.4M73.0 51.8h1.4M73.7 49.6h1.4M74.3 50.0h1.4M75.0 47.3h1.4M75.6 48.1h1.4M76.3 44.7h1.4M76.9 46.0h1.4M77.6 46.7h1.4M78.2 46.9h1.4M78.9 47.4h1.4M79.5 46.1h1.4M80.2 47.0h1.4M80.8 44.6h1.4M81.5 44.6h1.4M82.1 43.8h1.4M82.8 44.5h1.4M83.4 46.3h1.4M84.1 43.0h1.4M84.7 47.7h1.4M85.4 47.0h1.4M86.0 45.8h1.4M86.7 41.0h1.4M87.3 44.9h1.4M88.0 43.9h1.4M88.7 43.4h1.4M89.3 42.0h1.4M90.0 41.5h1.4M90.6 44.8h1.4M91.3 44.3h1.4M91.9 41.3h1.4M92.6 41.9h1.4M93.2 42.7h1.4M93.9 44.5h1.4M94.5 40.1h1.4M95.2 44.5h1.4M95.8 40.4h1.4M96.5 44.7h1.4M97.1 41.5h1.4M97.8 41.5h1.4M98.4 42.7h1.4M99.1 39.3h1.4M99.7 41.4h1.4M100.4 41.3h1.4M101.0 39.3h1.4M101.7 40.4h1.4M102.3 41.7h1.4M103.0 41.4h1.4M103.6 40.4h1.4M104.3 43.6h1.4M104.9 42.7h1.4M105.6 39.8h1.4M106.2 39.4h1.4M106.9 40.6h1.4M107.6 39.6h1.4M108.2 41.5h1.4M108.9 38.9h1.4M109.5 41.0h1.4M110.2 42.0h1.4M110.8 41.1h1.4M111.5 42.2h1.4M112.1 41.0h1.4M112.8 38.9h1.4M113.4 39.7h1.4M114.1 39.5h1.4M114.7 40.8h1.4M115.4 42.0h1.4M116.0 39.7h1.4M116.7 38.6h1.4M117.3 40.0h1.4M118.0 40.2h1.4M118.6 39.4h1.4M119.3 39.7h1.4M119.9 41.2h1.4M120.6 38.6h1.4M121.2 40.5h1.4M121.9 39.5h1.4M122.5 40.3h1.4M123.2 40.4h1.4M123.8 39.1h1.4M124.5 39.3h1.4M125.2 39.3h1.4M125.8 39.8h1.4M126.5 40.6h1.4M127.1 40.7h1.4M127.8 41.1h1.4M128.4 40.0h1.4M129.1 39.2h1.4M129.7 41.7h1.4M130.4 38.9h1.4M131.0 40.8h1.4M131.7 41.5h1.4M132.3 40.1h1.4M133.0 38.1h1.4M133.6 40.9h1.4M134.3 40.5h1.4M134.9 39.7h1.4M135.6 40.6h1.4M136.2 39.9h1.4M136.9 41.0h1.4M137.5 39.3h1.4M138.2 40.5h1.4M138.8 40.9h1.4M139.5 39.8h1.4M140.1 41.5h1.4M140.8 39.8h1.4M141.4 40.1h1.4M142.1 38.7h1.4M142.7 40.0h1.4M143.4 40.8h1.4M144.1 36.8h1.4M144.7 40.4h1.4M145.4 38.2h1.4M146.0 39.5h1.4M146.7 37.2h1.4M147.3 35.7h1.4M148.0 39.0h1.4M148.6 40.4h1.4M149.3 37.9h1.4M149.9 38.7h1.4M150.6 40.9h1.4M151.2 40.6h1.4M151.9 38.0h1.4M152.5 36.9h1.4M153.2 38.4h1.4M153.8 38.3h1.4M154.5 38.4h1.4M155.1 39.4h1.4M155.8 34.9h1.4M156.4 38.0h1.4M157.1 41.2h1.4M157.7 38.6h1.4M158.4 36.9h1.4M159.0 38.2h1.4M159.7 41.7h1.4" stroke="#f6a87c" stroke-width="0.8" stroke-opacity="0.6" fill="none"/>
<path d="M33.30 154.82 L34.10 152.39 L34.90 149.98 L35.70 147.60 L36.50 145.26 L37.30 142.95 L38.10 140.68 L38.90 138.45 L39.69 136.27 L40.49 134.11 L41.29 131.97 L42.09 129.83 L42.89 127.67 L43.69 125.46 L44.49 123.21 L45.29 120.91 L46.09 118.59 L46.89 116.27 L47.69 113.95 L48.49 111.68 L49.29 109.44 L50.09 107.26 L50.89 105.12 L51.68 103.02 L52.48 100.95 L53.28 98.92 L54.08 96.91 L54.88 94.91 L55.68 92.94 L56.48 90.98 L57.28 89.07 L58.08 87.23 L58.88 85.48 L59.68 83.86 L60.48 82.36 L61.28 81.00 L62.08 79.76 L62.88 78.61 L63.67 77.55 L64.47 76.55 L65.27 75.60 L66.07 74.69 L66.87 73.82 L67.67 72.96 L68.47 72.13 L69.27 71.32 L70.07 70.52 L70.87 69.74 L71.67 68.97 L72.47 68.23 L73.27 67.49 L74.07 66.77 L74.87 66.05 L75.66 65.34 L76.46 64.63 L77.26 63.92 L78.06 63.23 L78.86 62.54 L79.66 61.87 L80.46 61.21 L81.26 60.57 L82.06 59.94 L82.86 59.33 L83.66 58.73 L84.46 58.16 L85.26 57.60 L86.06 57.06 L86.86 56.53 L87.66 56.02 L88.45 55.52 L89.25 55.04 L90.05 54.58 L90.85 54.13 L91.65 53.69 L92.45 53.28 L93.25 52.87 L94.05 52.48 L94.85 52.11 L95.65 51.74 L96.45 51.39 L97.25 51.05 L98.05 50.72 L98.85 50.39 L99.65 50.08 L100.44 49.78 L101.24 49.48 L102.04 49.20 L102.84 48.92 L103.64 48.65 L104.44 48.38 L105.24 48.13 L106.04 47.89 L106.84 47.65 L107.64 47.42 L108.44 47.20 L109.24 46.98 L110.04 46.76 L110.84 46.54 L111.64 46.31 L112.43 46.07 L113.23 45.83 L114.03 45.57 L114.83 45.30 L115.63 45.03 L116.43 44.75 L117.23 44.47 L118.03 44.19 L118.83 43.92 L119.63 43.66 L120.43 43.41 L121.23 43.16 L122.03 42.92 L122.83 42.70 L123.63 42.47 L124.42 42.26 L125.22 42.05 L126.02 41.84 L126.82 41.64 L127.62 41.44 L128.42 41.25 L129.22 41.06 L130.02 40.87 L130.82 40.68 L131.62 40.50 L132.42 40.32 L133.22 40.14 L134.02 39.97 L134.82 39.81 L135.62 39.66 L136.41 39.53 L137.21 39.40 L138.01 39.29 L138.81 39.19 L139.61 39.10 L140.41 39.01 L141.21 38.94 L142.01 38.86 L142.81 38.79 L143.61 38.73 L144.41 38.67 L145.21 38.61 L146.01 38.55 L146.81 38.49 L147.61 38.43 L148.40 38.38 L149.20 38.32 L150.00 38.27 L150.80 38.21 L151.60 38.16 L152.40 38.11 L153.20 38.06 L154.00 38.01 L154.80 37.97 L155.60 37.92 L156.40 37.88 L157.20 37.84 L158.00 37.80 L158.80 37.76 L159.60 37.73 L160.39 37.69" stroke="#c9707c" stroke-width="7.48" stroke-opacity="0.22" fill="none" stroke-linecap="round"/>
<path d="M33.3 150.7V161.5M34.0 146.4V155.6M34.6 146.3V152.4M35.3 145.6V151.1M35.9 142.0V150.6M36.6 142.5V150.6M37.2 139.5V147.9M37.9 136.4V146.4M38.5 135.0V142.0M39.2 132.8V138.7M39.8 135.2V138.7M40.5 133.2V143.2M41.1 132.3V136.9M41.8 124.4V133.1M42.4 122.5V133.1M43.1 122.2V130.5M43.7 121.6V128.4M44.4 121.7V128.7M45.0 118.9V123.7M45.7 118.9V125.5M46.3 114.7V124.9M47.0 111.7V121.3M47.6 111.2V115.3M48.3 109.3V112.8M48.9 105.0V114.1M49.6 104.0V112.3M50.2 104.2V108.7M50.9 101.0V111.6M51.5 99.9V103.4M52.2 101.8V108.1M52.9 96.6V106.7M53.5 96.5V103.9M54.2 92.2V101.5M54.8 89.7V100.3M55.5 88.7V94.6M56.1 90.6V95.7M56.8 84.5V95.0M57.4 90.0V94.6M58.1 85.6V92.1M58.7 82.1V91.4M59.4 77.9V86.5M60.0 79.9V88.4M60.7 80.5V85.7M61.3 77.9V87.1M62.0 75.2V81.4M62.6 73.7V81.2M63.3 73.8V84.5M63.9 76.0V81.1M64.6 69.8V75.5M65.2 72.6V78.1M65.9 71.3V82.0M66.5 68.8V77.4M67.2 70.9V77.6M67.8 67.5V74.6M68.5 69.8V76.1M69.1 67.9V74.1M69.8 66.9V72.9M70.5 65.2V69.7M71.1 67.6V76.8M71.8 66.1V74.1M72.4 66.3V70.6M73.1 66.4V71.7M73.7 64.4V71.2M74.4 63.3V67.7M75.0 62.7V67.5M75.7 59.8V69.2M76.3 62.5V69.0M77.0 59.5V69.3M77.6 62.2V68.4M78.3 61.6V66.3M78.9 58.3V67.5M79.6 60.5V64.3M80.2 57.2V65.7M80.9 58.5V66.2M81.5 57.1V61.0M82.2 55.9V61.0M82.8 56.1V64.4M83.5 52.7V63.4M84.1 57.7V62.7M84.8 51.3V60.0M85.4 56.6V60.6M86.1 50.7V60.3M86.7 53.4V58.9M87.4 49.8V59.2M88.0 53.0V62.0M88.7 53.9V59.1M89.4 49.5V55.2M90.0 48.9V58.3M90.7 50.1V54.2M91.3 49.6V59.3M92.0 51.9V56.7M92.6 50.5V57.6M93.3 46.2V54.8M93.9 45.5V55.0M94.6 52.6V57.0M95.2 45.3V54.0M95.9 49.5V53.8M96.5 48.8V53.6M97.2 47.5V54.4M97.8 48.3V56.2M98.5 46.6V55.0M99.1 43.0V53.2M99.8 47.7V58.3M100.4 45.3V54.4M101.1 48.6V52.6M101.7 44.0V53.5M102.4 44.4V51.1M103.0 45.6V49.3M103.7 44.3V51.7M104.3 40.5V50.8M105.0 43.4V51.8M105.6 46.6V50.2M106.3 44.0V54.5M106.9 43.0V50.7M107.6 43.1V50.4M108.3 43.2V48.0M108.9 43.7V54.4M109.6 39.9V49.1M110.2 40.3V47.0M110.9 40.4V50.0M111.5 40.9V51.0M112.2 42.7V48.1M112.8 38.9V49.6M113.5 40.5V50.1M114.1 44.7V54.0M114.8 37.6V47.2M115.4 41.0V51.1M116.1 42.7V49.5M116.7 37.8V47.9M117.4 41.7V48.6M118.0 43.2V48.9M118.7 40.8V45.3M119.3 43.6V49.0M120.0 40.2V50.0M120.6 39.5V45.9M121.3 40.3V51.1M121.9 40.4V44.5M122.6 40.9V48.5M123.2 36.4V42.2M123.9 39.1V45.1M124.5 40.4V48.1M125.2 39.3V46.2M125.9 40.5V47.2M126.5 40.4V47.5M127.2 39.2V43.8M127.8 38.6V44.4M128.5 38.3V42.7M129.1 35.9V40.0M129.8 36.9V46.4M130.4 33.7V44.5M131.1 37.6V41.2M131.7 40.3V44.1M132.4 39.6V44.9M133.0 37.0V47.5M133.7 38.0V45.9M134.3 38.6V42.5M135.0 35.4V40.7M135.6 34.5V38.5M136.3 37.4V42.7M136.9 34.6V39.5M137.6 35.2V44.1M138.2 34.8V40.3M138.9 31.5V41.0M139.5 40.1V44.0M140.2 35.5V45.3M140.8 33.6V37.9M141.5 35.8V44.7M142.1 36.6V40.1M142.8 34.8V44.8M143.4 34.6V38.2M144.1 35.7V45.5M144.8 36.6V43.1M145.4 35.5V39.7M146.1 36.6V40.9M146.7 36.5V41.8M147.4 36.5V41.3M148.0 31.8V37.6M148.7 31.8V42.3M149.3 33.3V43.6M150.0 37.6V41.0M150.6 35.2V40.4M151.3 34.5V42.0M151.9 33.6V37.5M152.6 33.2V42.7M153.2 33.8V38.7M153.9 34.9V40.4M154.5 36.3V42.6M155.2 33.7V42.0M155.8 33.4V41.8M156.5 34.2V39.7M157.1 32.9V39.8M157.8 36.7V40.2M158.4 33.1V41.1M159.1 33.5V41.8M159.7 31.9V40.5M160.4 35.2V41.1" stroke="#c9707c" stroke-width="0.5" stroke-opacity="0.45" fill="none"/>
<path d="M32.6 156.1h1.4M33.3 151.0h1.4M33.9 149.3h1.4M34.6 148.4h1.4M35.2 146.3h1.4M35.9 146.6h1.4M36.5 143.7h1.4M37.2 141.4h1.4M37.8 138.5h1.4M38.5 135.8h1.4M39.1 137.0h1.4M39.8 138.2h1.4M40.4 134.6h1.4M41.1 128.8h1.4M41.7 127.8h1.4M42.4 126.4h1.4M43.0 125.0h1.4M43.7 125.2h1.4M44.3 121.3h1.4M45.0 122.2h1.4M45.6 119.8h1.4M46.3 116.5h1.4M46.9 113.2h1.4M47.6 111.0h1.4M48.2 109.5h1.4M48.9 108.2h1.4M49.5 106.5h1.4M50.2 106.3h1.4M50.8 101.7h1.4M51.5 105.0h1.4M52.2 101.7h1.4M52.8 100.2h1.4M53.5 96.8h1.4M54.1 95.0h1.4M54.8 91.6h1.4M55.4 93.1h1.4M56.1 89.7h1.4M56.7 92.3h1.4M57.4 88.8h1.4M58.0 86.8h1.4M58.7 82.2h1.4M59.3 84.2h1.4M60.0 83.1h1.4M60.6 82.5h1.4M61.3 78.3h1.4M61.9 77.5h1.4M62.6 79.2h1.4M63.2 78.6h1.4M63.9 72.6h1.4M64.5 75.3h1.4M65.2 76.7h1.4M65.8 73.1h1.4M66.5 74.3h1.4M67.1 71.1h1.4M67.8 72.9h1.4M68.4 71.0h1.4M69.1 69.9h1.4M69.8 67.5h1.4M70.4 72.2h1.4M71.1 70.1h1.4M71.7 68.4h1.4M72.4 69.1h1.4M73.0 67.8h1.4M73.7 65.5h1.4M74.3 65.1h1.4M75.0 64.5h1.4M75.6 65.7h1.4M76.3 64.4h1.4M76.9 65.3h1.4M77.6 64.0h1.4M78.2 62.9h1.4M78.9 62.4h1.4M79.5 61.4h1.4M80.2 62.4h1.4M80.8 59.0h1.4M81.5 58.5h1.4M82.1 60.3h1.4M82.8 58.0h1.4M83.4 60.2h1.4M84.1 55.6h1.4M84.7 58.6h1.4M85.4 55.5h1.4M86.0 56.2h1.4M86.7 54.5h1.4M87.3 57.5h1.4M88.0 56.5h1.4M88.7 52.3h1.4M89.3 53.6h1.4M90.0 52.2h1.4M90.6 54.5h1.4M91.3 54.3h1.4M91.9 54.0h1.4M92.6 50.5h1.4M93.2 50.3h1.4M93.9 54.8h1.4M94.5 49.6h1.4M95.2 51.6h1.4M95.8 51.2h1.4M96.5 51.0h1.4M97.1 52.3h1.4M97.8 50.8h1.4M98.4 48.1h1.4M99.1 53.0h1.4M99.7 49.8h1.4M100.4 50.6h1.4M101.0 48.7h1.4M101.7 47.7h1.4M102.3 47.4h1.4M103.0 48.0h1.4M103.6 45.7h1.4M104.3 47.6h1.4M104.9 48.4h1.4M105.6 49.3h1.4M106.2 46.8h1.4M106.9 46.8h1.4M107.6 45.6h1.4M108.2 49.1h1.4M108.9 44.5h1.4M109.5 43.7h1.4M110.2 45.2h1.4M110.8 46.0h1.4M111.5 45.4h1.4M112.1 44.2h1.4M112.8 45.3h1.4M113.4 49.4h1.4M114.1 42.4h1.4M114.7 46.0h1.4M115.4 46.1h1.4M116.0 42.9h1.4M116.7 45.2h1.4M117.3 46.0h1.4M118.0 43.1h1.4M118.6 46.3h1.4M119.3 45.1h1.4M119.9 42.7h1.4M120.6 45.7h1.4M121.2 42.4h1.4M121.9 44.7h1.4M122.5 39.3h1.4M123.2 42.1h1.4M123.8 44.3h1.4M124.5 42.7h1.4M125.2 43.8h1.4M125.8 43.9h1.4M126.5 41.5h1.4M127.1 41.5h1.4M127.8 40.5h1.4M128.4 37.9h1.4M129.1 41.7h1.4M129.7 39.1h1.4M130.4 39.4h1.4M131.0 42.2h1.4M131.7 42.3h1.4M132.3 42.3h1.4M133.0 41.9h1.4M133.6 40.5h1.4M134.3 38.1h1.4M134.9 36.5h1.4M135.6 40.0h1.4M136.2 37.0h1.4M136.9 39.6h1.4M137.5 37.5h1.4M138.2 36.3h1.4M138.8 42.1h1.4M139.5 40.4h1.4M140.1 35.8h1.4M140.8 40.3h1.4M141.4 38.3h1.4M142.1 39.8h1.4M142.7 36.4h1.4M143.4 40.6h1.4M144.1 39.8h1.4M144.7 37.6h1.4M145.4 38.7h1.4M146.0 39.2h1.4M146.7 38.9h1.4M147.3 34.7h1.4M148.0 37.0h1.4M148.6 38.5h1.4M149.3 39.3h1.4M149.9 37.8h1.4M150.6 38.2h1.4M151.2 35.6h1.4M151.9 38.0h1.4M152.5 36.2h1.4M153.2 37.6h1.4M153.8 39.4h1.4M154.5 37.9h1.4M155.1 37.6h1.4M155.8 37.0h1.4M156.4 36.4h1.4M157.1 38.5h1.4M157.7 37.1h1.4M158.4 37.7h1.4M159.0 36.2h1.4M159.7 38.2h1.4" stroke="#c9707c" stroke-width="0.8" stroke-opacity="0.6" fill="none"/>
<path d="M33.30 150.54 L33.94 149.93 L34.58 149.35 L35.22 148.82 L35.85 148.34 L36.49 147.91 L37.13 147.54 L37.77 147.21 L38.41 146.92 L39.05 146.66 L39.69 146.43 L40.33 146.20 L40.96 145.99 L41.60 145.77 L42.24 145.55 L42.88 145.32 L43.52 145.07 L44.16 144.78 L44.80 144.47 L45.43 144.11 L46.07 143.72 L46.71 143.29 L47.35 142.83 L47.99 142.34 L48.63 141.82 L49.27 141.27 L49.91 140.69 L50.54 140.09 L51.18 139.47 L51.82 138.83 L52.46 138.19 L53.10 137.54 L53.74 136.88 L54.38 136.23 L55.01 135.57 L55.65 134.91 L56.29 134.26 L56.93 133.61 L57.57 132.98 L58.21 132.35 L58.85 131.74 L59.49 131.14 L60.12 130.54 L60.76 129.94 L61.40 129.32 L62.04 128.69 L62.68 128.03 L63.32 127.35 L63.96 126.64 L64.59 125.90 L65.23 125.15 L65.87 124.38 L66.51 123.60 L67.15 122.82 L67.79 122.03 L68.43 121.25 L69.07 120.47 L69.70 119.70 L70.34 118.94 L70.98 118.18 L71.62 117.43 L72.26 116.69 L72.90 115.95 L73.54 115.21 L74.17 114.48 L74.81 113.74 L75.45 113.01 L76.09 112.28 L76.73 111.54 L77.37 110.81 L78.01 110.08 L78.65 109.34 L79.28 108.61 L79.92 107.88 L80.56 107.15 L81.20 106.44 L81.84 105.73 L82.48 105.03 L83.12 104.34 L83.75 103.66 L84.39 103.00 L85.03 102.34 L85.67 101.69 L86.31 101.06 L86.95 100.43 L87.59 99.80 L88.23 99.19 L88.86 98.58 L89.50 97.98 L90.14 97.39 L90.78 96.80 L91.42 96.22 L92.06 95.65 L92.70 95.08 L93.33 94.52 L93.97 93.97 L94.61 93.43 L95.25 92.89 L95.89 92.35 L96.53 91.82 L97.17 91.30 L97.81 90.78 L98.44 90.27 L99.08 89.77 L99.72 89.26 L100.36 88.77 L101.00 88.28 L101.64 87.79 L102.28 87.31 L102.91 86.84 L103.55 86.37 L104.19 85.90 L104.83 85.45 L105.47 84.99 L106.11 84.54 L106.75 84.09 L107.39 83.64 L108.02 83.20 L108.66 82.76 L109.30 82.32 L109.94 81.88 L110.58 81.45 L111.22 81.01 L111.86 80.58 L112.49 80.15 L113.13 79.71 L113.77 79.28 L114.41 78.85 L115.05 78.41 L115.69 77.98 L116.33 77.54 L116.97 77.11 L117.60 76.67 L118.24 76.24 L118.88 75.81 L119.52 75.38 L120.16 74.95 L120.80 74.53 L121.44 74.11 L122.07 73.69 L122.71 73.28 L123.35 72.87 L123.99 72.46 L124.63 72.06 L125.27 71.66 L125.91 71.26 L126.55 70.87 L127.18 70.48 L127.82 70.09 L128.46 69.71 L129.10 69.33 L129.74 68.95 L130.38 68.59 L131.02 68.23 L131.65 67.87 L132.29 67.53 L132.93 67.19 L133.57 66.86 L134.21 66.53 L134.85 66.21 L135.49 65.90 L136.13 65.60 L136.76 65.30 L137.40 65.00 L138.04 64.71 L138.68 64.43 L139.32 64.15 L139.96 63.87 L140.60 63.59 L141.23 63.32 L141.87 63.05 L142.51 62.79 L143.15 62.53 L143.79 62.27 L144.43 62.01 L145.07 61.76 L145.71 61.51 L146.34 61.27 L146.98 61.03 L147.62 60.79 L148.26 60.55 L148.90 60.31 L149.54 60.08 L150.18 59.85 L150.81 59.62 L151.45 59.39 L152.09 59.16 L152.73 58.93 L153.37 58.71 L154.01 58.49 L154.65 58.26 L155.29 58.04 L155.92 57.82 L156.56 57.61 L157.20 57.39 L157.84 57.18 L158.48 56.96 L159.12 56.75 L159.76 56.54 L160.39 56.33" stroke="#4d4d4d" stroke-width="1.05" fill="none"/>
<path d="M33.30 155.52 L33.94 155.25 L34.58 155.00 L35.22 154.77 L35.85 154.57 L36.49 154.40 L37.13 154.24 L37.77 154.10 L38.41 153.94 L39.05 153.78 L39.69 153.60 L40.33 153.38 L40.96 153.12 L41.60 152.82 L42.24 152.46 L42.88 152.03 L43.52 151.54 L44.16 150.97 L44.80 150.32 L45.43 149.60 L46.07 148.82 L46.71 147.99 L47.35 147.13 L47.99 146.23 L48.63 145.30 L49.27 144.35 L49.91 143.38 L50.54 142.41 L51.18 141.42 L51.82 140.43 L52.46 139.44 L53.10 138.43 L53.74 137.42 L54.38 136.40 L55.01 135.36 L55.65 134.31 L56.29 133.25 L56.93 132.18 L57.57 131.12 L58.21 130.07 L58.85 129.04 L59.49 128.03 L60.12 127.02 L60.76 125.97 L61.40 124.87 L62.04 123.70 L62.68 122.44 L63.32 121.12 L63.96 119.74 L64.59 118.33 L65.23 116.91 L65.87 115.50 L66.51 114.12 L67.15 112.78 L67.79 111.50 L68.43 110.29 L69.07 109.14 L69.70 108.04 L70.34 107.00 L70.98 105.99 L71.62 105.02 L72.26 104.08 L72.90 103.16 L73.54 102.27 L74.17 101.39 L74.81 100.52 L75.45 99.67 L76.09 98.83 L76.73 98.01 L77.37 97.20 L78.01 96.40 L78.65 95.62 L79.28 94.85 L79.92 94.09 L80.56 93.35 L81.20 92.63 L81.84 91.92 L82.48 91.22 L83.12 90.55 L83.75 89.88 L84.39 89.23 L85.03 88.60 L85.67 87.97 L86.31 87.36 L86.95 86.76 L87.59 86.18 L88.23 85.60 L88.86 85.04 L89.50 84.49 L90.14 83.94 L90.78 83.41 L91.42 82.89 L92.06 82.38 L92.70 81.88 L93.33 81.39 L93.97 80.92 L94.61 80.45 L95.25 79.99 L95.89 79.55 L96.53 79.10 L97.17 78.67 L97.81 78.23 L98.44 77.80 L99.08 77.38 L99.72 76.95 L100.36 76.52 L101.00 76.08 L101.64 75.65 L102.28 75.22 L102.91 74.80 L103.55 74.38 L104.19 73.97 L104.83 73.57 L105.47 73.17 L106.11 72.79 L106.75 72.41 L107.39 72.04 L108.02 71.67 L108.66 71.31 L109.30 70.96 L109.94 70.61 L110.58 70.27 L111.22 69.93 L111.86 69.60 L112.49 69.27 L113.13 68.94 L113.77 68.62 L114.41 68.31 L115.05 68.00 L115.69 67.70 L116.33 67.40 L116.97 67.10 L117.60 66.81 L118.24 66.52 L118.88 66.24 L119.52 65.96 L120.16 65.68 L120.80 65.41 L121.44 65.14 L122.07 64.87 L122.71 64.61 L123.35 64.35 L123.99 64.09 L124.63 63.84 L125.27 63.58 L125.91 63.33 L126.55 63.09 L127.18 62.84 L127.82 62.60 L128.46 62.36 L129.10 62.13 L129.74 61.90 L130.38 61.68 L131.02 61.46 L131.65 61.25 L132.29 61.05 L132.93 60.85 L133.57 60.66 L134.21 60.47 L134.85 60.29 L135.49 60.12 L136.13 59.95 L136.76 59.78 L137.40 59.62 L138.04 59.46 L138.68 59.31 L139.32 59.16 L139.96 59.01 L140.60 58.86 L141.23 58.71 L141.87 58.57 L142.51 58.43 L143.15 58.29 L143.79 58.15 L144.43 58.02 L145.07 57.88 L145.71 57.75 L146.34 57.62 L146.98 57.50 L147.62 57.37 L148.26 57.25 L148.90 57.13 L149.54 57.00 L150.18 56.88 L150.81 56.76 L151.45 56.63 L152.09 56.51 L152.73 56.39 L153.37 56.26 L154.01 56.14 L154.65 56.01 L155.29 55.88 L155.92 55.76 L156.56 55.63 L157.20 55.51 L157.84 55.38 L158.48 55.25 L159.12 55.13 L159.76 55.00 L160.39 54.88" stroke="#e2dc2a" stroke-width="1.05" fill="none"/>
<path d="M33.30 155.50 L33.94 155.27 L34.58 155.05 L35.22 154.82 L35.85 154.60 L36.49 154.38 L37.13 154.16 L37.77 153.94 L38.41 153.72 L39.05 153.48 L39.69 153.21 L40.33 152.89 L40.96 152.49 L41.60 151.97 L42.24 151.30 L42.88 150.43 L43.52 149.31 L44.16 147.89 L44.80 146.16 L45.43 144.12 L46.07 141.81 L46.71 139.34 L47.35 136.81 L47.99 134.31 L48.63 131.90 L49.27 129.57 L49.91 127.26 L50.54 124.88 L51.18 122.38 L51.82 119.72 L52.46 116.93 L53.10 114.06 L53.74 111.17 L54.38 108.29 L55.01 105.42 L55.65 102.55 L56.29 99.63 L56.93 96.66 L57.57 93.62 L58.21 90.54 L58.85 87.48 L59.49 84.53 L60.12 81.76 L60.76 79.23 L61.40 76.97 L62.04 74.96 L62.68 73.17 L63.32 71.56 L63.96 70.08 L64.59 68.70 L65.23 67.39 L65.87 66.12 L66.51 64.90 L67.15 63.72 L67.79 62.56 L68.43 61.44 L69.07 60.33 L69.70 59.24 L70.34 58.17 L70.98 57.11 L71.62 56.07 L72.26 55.07 L72.90 54.12 L73.54 53.24 L74.17 52.44 L74.81 51.72 L75.45 51.09 L76.09 50.54 L76.73 50.06 L77.37 49.62 L78.01 49.24 L78.65 48.89 L79.28 48.57 L79.92 48.28 L80.56 48.02 L81.20 47.78 L81.84 47.56 L82.48 47.36 L83.12 47.17 L83.75 47.00 L84.39 46.84 L85.03 46.68 L85.67 46.53 L86.31 46.39 L86.95 46.25 L87.59 46.11 L88.23 45.97 L88.86 45.83 L89.50 45.69 L90.14 45.55 L90.78 45.41 L91.42 45.28 L92.06 45.15 L92.70 45.02 L93.33 44.89 L93.97 44.77 L94.61 44.65 L95.25 44.54 L95.89 44.42 L96.53 44.31 L97.17 44.20 L97.81 44.09 L98.44 43.99 L99.08 43.88 L99.72 43.78 L100.36 43.68 L101.00 43.58 L101.64 43.49 L102.28 43.41 L102.91 43.33 L103.55 43.25 L104.19 43.19 L104.83 43.13 L105.47 43.08 L106.11 43.04 L106.75 43.01 L107.39 42.98 L108.02 42.95 L108.66 42.92 L109.30 42.90 L109.94 42.88 L110.58 42.86 L111.22 42.84 L111.86 42.83 L112.49 42.81 L113.13 42.80 L113.77 42.78 L114.41 42.77 L115.05 42.75 L115.69 42.74 L116.33 42.73 L116.97 42.71 L117.60 42.70 L118.24 42.68 L118.88 42.66 L119.52 42.65 L120.16 42.63 L120.80 42.61 L121.44 42.59 L122.07 42.57 L122.71 42.55 L123.35 42.53 L123.99 42.51 L124.63 42.48 L125.27 42.46 L125.91 42.44 L126.55 42.42 L127.18 42.39 L127.82 42.37 L128.46 42.35 L129.10 42.32 L129.74 42.30 L130.38 42.27 L131.02 42.25 L131.65 42.23 L132.29 42.20 L132.93 42.18 L133.57 42.15 L134.21 42.13 L134.85 42.10 L135.49 42.08 L136.13 42.05 L136.76 42.03 L137.40 42.00 L138.04 41.98 L138.68 41.95 L139.32 41.93 L139.96 41.91 L140.60 41.88 L141.23 41.86 L141.87 41.83 L142.51 41.81 L143.15 41.78 L143.79 41.76 L144.43 41.73 L145.07 41.71 L145.71 41.68 L146.34 41.66 L146.98 41.63 L147.62 41.61 L148.26 41.58 L148.90 41.55 L149.54 41.53 L150.18 41.50 L150.81 41.48 L151.45 41.45 L152.09 41.43 L152.73 41.40 L153.37 41.37 L154.01 41.35 L154.65 41.32 L155.29 41.30 L155.92 41.27 L156.56 41.24 L157.20 41.22 L157.84 41.19 L158.48 41.17 L159.12 41.14 L159.76 41.11 L160.39 41.09" stroke="#f07a2c" stroke-width="1.05" fill="none"/>
<path d="M33.30 155.51 L33.94 153.57 L34.58 151.64 L35.22 149.73 L35.85 147.83 L36.49 145.96 L37.13 144.11 L37.77 142.29 L38.41 140.49 L39.05 138.72 L39.69 136.98 L40.33 135.26 L40.96 133.55 L41.60 131.84 L42.24 130.12 L42.88 128.39 L43.52 126.63 L44.16 124.85 L44.80 123.03 L45.43 121.19 L46.07 119.33 L46.71 117.47 L47.35 115.62 L47.99 113.78 L48.63 111.97 L49.27 110.19 L49.91 108.44 L50.54 106.72 L51.18 105.02 L51.82 103.35 L52.46 101.71 L53.10 100.08 L53.74 98.47 L54.38 96.87 L55.01 95.28 L55.65 93.70 L56.29 92.13 L56.93 90.59 L57.57 89.09 L58.21 87.63 L58.85 86.24 L59.49 84.93 L60.12 83.70 L60.76 82.56 L61.40 81.49 L62.04 80.50 L62.68 79.58 L63.32 78.71 L63.96 77.88 L64.59 77.09 L65.23 76.34 L65.87 75.61 L66.51 74.90 L67.15 74.21 L67.79 73.54 L68.43 72.87 L69.07 72.22 L69.70 71.58 L70.34 70.94 L70.98 70.32 L71.62 69.71 L72.26 69.11 L72.90 68.52 L73.54 67.94 L74.17 67.37 L74.81 66.79 L75.45 66.22 L76.09 65.65 L76.73 65.08 L77.37 64.52 L78.01 63.97 L78.65 63.42 L79.28 62.88 L79.92 62.35 L80.56 61.82 L81.20 61.31 L81.84 60.81 L82.48 60.31 L83.12 59.83 L83.75 59.36 L84.39 58.90 L85.03 58.45 L85.67 58.01 L86.31 57.58 L86.95 57.17 L87.59 56.76 L88.23 56.36 L88.86 55.97 L89.50 55.59 L90.14 55.22 L90.78 54.86 L91.42 54.51 L92.06 54.17 L92.70 53.84 L93.33 53.52 L93.97 53.21 L94.61 52.91 L95.25 52.62 L95.89 52.33 L96.53 52.05 L97.17 51.78 L97.81 51.51 L98.44 51.25 L99.08 50.99 L99.72 50.75 L100.36 50.50 L101.00 50.26 L101.64 50.03 L102.28 49.81 L102.91 49.59 L103.55 49.37 L104.19 49.16 L104.83 48.95 L105.47 48.75 L106.11 48.56 L106.75 48.37 L107.39 48.19 L108.02 48.01 L108.66 47.83 L109.30 47.66 L109.94 47.48 L110.58 47.30 L111.22 47.12 L111.86 46.94 L112.49 46.75 L113.13 46.55 L113.77 46.35 L114.41 46.13 L115.05 45.92 L115.69 45.70 L116.33 45.48 L116.97 45.25 L117.60 45.03 L118.24 44.81 L118.88 44.60 L119.52 44.39 L120.16 44.18 L120.80 43.98 L121.44 43.79 L122.07 43.60 L122.71 43.42 L123.35 43.24 L123.99 43.07 L124.63 42.90 L125.27 42.73 L125.91 42.56 L126.55 42.40 L127.18 42.24 L127.82 42.09 L128.46 41.93 L129.10 41.78 L129.74 41.63 L130.38 41.48 L131.02 41.33 L131.65 41.18 L132.29 41.04 L132.93 40.90 L133.57 40.76 L134.21 40.63 L134.85 40.50 L135.49 40.38 L136.13 40.27 L136.76 40.16 L137.40 40.07 L138.04 39.98 L138.68 39.90 L139.32 39.82 L139.96 39.75 L140.60 39.69 L141.23 39.63 L141.87 39.57 L142.51 39.51 L143.15 39.46 L143.79 39.41 L144.43 39.36 L145.07 39.31 L145.71 39.26 L146.34 39.22 L146.98 39.17 L147.62 39.12 L148.26 39.08 L148.90 39.03 L149.54 38.99 L150.18 38.95 L150.81 38.91 L151.45 38.86 L152.09 38.82 L152.73 38.78 L153.37 38.74 L154.01 38.71 L154.65 38.67 L155.29 38.63 L155.92 38.60 L156.56 38.56 L157.20 38.53 L157.84 38.50 L158.48 38.47 L159.12 38.44 L159.76 38.41 L160.39 38.38" stroke="#a3192e" stroke-width="1.05" fill="none"/>
<line x1="33.30" y1="155.50" x2="33.30" y2="16.90" stroke="#5a5a5a" stroke-width="0.85"/>
<line x1="33.30" y1="155.50" x2="160.39" y2="155.50" stroke="#5a5a5a" stroke-width="0.85"/>
<line x1="30.10" y1="155.50" x2="33.30" y2="155.50" stroke="#5a5a5a" stroke-width="0.85"/>
<text x="26.599999999999998" y="158.2" font-size="7.6" fill="#444" text-anchor="end">0</text>
<line x1="30.10" y1="120.85" x2="33.30" y2="120.85" stroke="#5a5a5a" stroke-width="0.85"/>
<text x="26.599999999999998" y="123.55" font-size="7.6" fill="#444" text-anchor="end">0.5</text>
<line x1="30.10" y1="86.20" x2="33.30" y2="86.20" stroke="#5a5a5a" stroke-width="0.85"/>
<text x="26.599999999999998" y="88.9" font-size="7.6" fill="#444" text-anchor="end">1.0</text>
<line x1="30.10" y1="51.55" x2="33.30" y2="51.55" stroke="#5a5a5a" stroke-width="0.85"/>
<text x="26.599999999999998" y="54.250000000000014" font-size="7.6" fill="#444" text-anchor="end">1.5</text>
<line x1="30.10" y1="16.90" x2="33.30" y2="16.90" stroke="#5a5a5a" stroke-width="0.85"/>
<text x="26.599999999999998" y="19.600000000000005" font-size="7.6" fill="#444" text-anchor="end">2.0</text>
<line x1="33.30" y1="155.50" x2="33.30" y2="158.50" stroke="#5a5a5a" stroke-width="0.85"/>
<text x="33.3" y="168.3" font-size="7.9" fill="#444" text-anchor="middle">0</text>
<line x1="54.48" y1="155.50" x2="54.48" y2="157.10" stroke="#5a5a5a" stroke-width="0.85"/>
<line x1="75.66" y1="155.50" x2="75.66" y2="158.50" stroke="#5a5a5a" stroke-width="0.85"/>
<text x="75.66499999999999" y="168.3" font-size="7.9" fill="#444" text-anchor="middle">0.5</text>
<line x1="96.85" y1="155.50" x2="96.85" y2="157.10" stroke="#5a5a5a" stroke-width="0.85"/>
<line x1="118.03" y1="155.50" x2="118.03" y2="158.50" stroke="#5a5a5a" stroke-width="0.85"/>
<text x="118.03" y="168.3" font-size="7.9" fill="#444" text-anchor="middle">1.0</text>
<line x1="139.21" y1="155.50" x2="139.21" y2="157.10" stroke="#5a5a5a" stroke-width="0.85"/>
<line x1="160.39" y1="155.50" x2="160.39" y2="158.50" stroke="#5a5a5a" stroke-width="0.85"/>
<text x="160.39499999999998" y="168.3" font-size="7.9" fill="#444" text-anchor="middle">1.5</text>
<line x1="98.80" y1="121.00" x2="108.40" y2="121.00" stroke="#dba0aa" stroke-width="1.6"/>
<circle cx="103.6" cy="121.0" r="0.7" fill="#a3192e"/>
<text x="112.2" y="123.6" font-size="7.1" fill="#3a3a3a">SNAP-tag2 (TF)</text>
<line x1="98.80" y1="129.40" x2="108.40" y2="129.40" stroke="#eeea70" stroke-width="0.9"/>
<circle cx="103.6" cy="129.4" r="0.7" fill="#e2dc2a"/>
<text x="112.2" y="132.0" font-size="7.1" fill="#3a3a3a">SNAP-tag2 (CF)</text>
<line x1="98.80" y1="137.80" x2="108.40" y2="137.80" stroke="#f8c4a4" stroke-width="1.6"/>
<circle cx="103.6" cy="137.8" r="0.7" fill="#f07a2c"/>
<text x="112.2" y="140.4" font-size="7.1" fill="#3a3a3a">SNAP-tag2 (CP)</text>
<line x1="98.80" y1="146.20" x2="108.40" y2="146.20" stroke="#a0a0a0" stroke-width="0.9"/>
<circle cx="103.6" cy="146.2" r="0.7" fill="#4d4d4d"/>
<text x="112.2" y="148.79999999999998" font-size="7.1" fill="#3a3a3a">SNAP<tspan font-size="5" dy="1.8">f</tspan><tspan dy="-1.8">-tag (CP)</tspan></text>
<path d="M207.30 155.50 L208.04 155.50 L208.79 155.50 L209.53 155.50 L210.27 155.50 L211.02 155.49 L211.76 155.44 L212.50 155.30 L213.24 154.99 L213.99 154.48 L214.73 153.80 L215.47 152.97 L216.22 152.02 L216.96 150.93 L217.70 149.68 L218.45 148.30 L219.19 146.79 L219.93 145.14 L220.68 143.33 L221.42 141.40 L222.16 139.43 L222.90 137.52 L223.65 135.73 L224.39 134.06 L225.13 132.47 L225.88 130.95 L226.62 129.46 L227.36 128.02 L228.11 126.60 L228.85 125.22 L229.59 123.88 L230.34 122.57 L231.08 121.29 L231.82 119.99 L232.56 118.66 L233.31 117.26 L234.05 115.78 L234.79 114.22 L235.54 112.61 L236.28 110.99 L237.02 109.41 L237.77 107.86 L238.51 106.35 L239.25 104.87 L240.00 103.41 L240.74 101.97 L241.48 100.55 L242.22 99.16 L242.97 97.80 L243.71 96.46 L244.45 95.15 L245.20 93.86 L245.94 92.60 L246.68 91.35 L247.43 90.12 L248.17 88.92 L248.91 87.73 L249.66 86.56 L250.40 85.42 L251.14 84.29 L251.88 83.19 L252.63 82.10 L253.37 81.04 L254.11 80.01 L254.86 78.99 L255.60 77.99 L256.34 77.01 L257.09 76.04 L257.83 75.09 L258.57 74.14 L259.32 73.20 L260.06 72.27 L260.80 71.35 L261.54 70.43 L262.29 69.52 L263.03 68.61 L263.77 67.72 L264.52 66.83 L265.26 65.94 L266.00 65.07 L266.75 64.20 L267.49 63.34 L268.23 62.48 L268.98 61.62 L269.72 60.76 L270.46 59.91 L271.21 59.05 L271.95 58.19 L272.69 57.33 L273.43 56.49 L274.18 55.65 L274.92 54.82 L275.66 54.02 L276.41 53.23 L277.15 52.47 L277.89 51.74 L278.64 51.02 L279.38 50.33 L280.12 49.65 L280.87 48.99 L281.61 48.34 L282.35 47.71 L283.09 47.09 L283.84 46.49 L284.58 45.90 L285.32 45.32 L286.07 44.76 L286.81 44.22 L287.55 43.70 L288.30 43.21 L289.04 42.73 L289.78 42.27 L290.53 41.81 L291.27 41.34 L292.01 40.86 L292.75 40.37 L293.50 39.85 L294.24 39.29 L294.98 38.68 L295.73 38.02 L296.47 37.35 L297.21 36.70 L297.96 36.11 L298.70 35.58 L299.44 35.09 L300.19 34.62 L300.93 34.18 L301.67 33.76 L302.41 33.35 L303.16 32.97 L303.90 32.60 L304.64 32.25 L305.39 31.92 L306.13 31.60 L306.87 31.31 L307.62 31.02 L308.36 30.75 L309.10 30.49 L309.85 30.23 L310.59 29.99 L311.33 29.76 L312.07 29.54 L312.82 29.32 L313.56 29.12 L314.30 28.93 L315.05 28.74 L315.79 28.56 L316.53 28.40 L317.28 28.24 L318.02 28.08 L318.76 27.94 L319.51 27.79 L320.25 27.66 L320.99 27.52 L321.73 27.40 L322.48 27.28 L323.22 27.17 L323.96 27.07 L324.71 26.97 L325.45 26.88" stroke="#a5a5a5" stroke-width="5.03" stroke-opacity="0.22" fill="none" stroke-linecap="round"/>
<path d="M207.3 152.1V154.6M208.0 154.8V157.4M208.6 151.9V157.5M209.3 154.9V158.7M209.9 153.9V159.1M210.6 154.8V157.8M211.2 153.4V159.3M211.9 151.4V158.7M212.6 151.9V156.4M213.2 153.6V157.2M213.9 152.1V156.7M214.5 152.0V155.9M215.2 152.3V157.2M215.8 148.7V153.7M216.5 149.7V153.6M217.1 149.0V151.9M217.8 150.1V155.7M218.5 146.9V150.1M219.1 142.7V148.6M219.8 143.1V149.9M220.4 141.8V145.8M221.1 140.3V147.5M221.7 137.0V143.0M222.4 136.0V141.9M223.1 135.9V140.6M223.7 131.9V138.8M224.4 133.9V137.9M225.0 129.4V136.1M225.7 128.0V133.1M226.3 127.2V134.1M227.0 127.2V130.6M227.6 126.6V130.5M228.3 123.0V129.8M229.0 123.8V127.3M229.6 119.6V126.7M230.3 120.2V126.0M230.9 119.9V125.4M231.6 117.8V123.0M232.2 117.1V121.9M232.9 114.0V120.9M233.6 113.9V120.2M234.2 112.8V118.7M234.9 110.6V116.5M235.5 111.7V114.2M236.2 109.9V113.3M236.8 107.1V113.7M237.5 104.3V110.8M238.2 104.6V108.1M238.8 103.1V107.5M239.5 99.7V105.5M240.1 100.7V103.9M240.8 98.9V104.5M241.4 97.5V99.8M242.1 95.3V101.2M242.7 94.3V100.7M243.4 95.4V98.4M244.1 93.2V97.4M244.7 92.2V94.6M245.4 91.8V94.2M246.0 90.5V94.5M246.7 91.1V93.9M247.3 89.3V93.2M248.0 85.2V91.2M248.7 85.0V90.9M249.3 82.5V89.1M250.0 84.1V89.9M250.6 83.0V88.5M251.3 82.1V85.9M251.9 79.0V85.6M252.6 80.1V83.0M253.2 79.6V84.4M253.9 79.3V82.3M254.6 76.1V81.3M255.2 76.5V80.9M255.9 75.0V77.9M256.5 75.4V77.9M257.2 74.0V76.7M257.8 72.2V77.7M258.5 73.4V80.4M259.2 69.9V77.2M259.8 70.7V74.2M260.5 68.2V73.4M261.1 69.2V75.0M261.8 69.6V73.1M262.4 69.2V71.5M263.1 66.8V69.2M263.7 65.2V71.1M264.4 65.0V68.4M265.1 64.0V67.4M265.7 63.4V66.7M266.4 63.8V67.6M267.0 61.3V66.7M267.7 59.1V66.2M268.3 57.4V63.3M269.0 60.0V65.2M269.7 59.1V61.6M270.3 59.5V62.6M271.0 57.4V60.1M271.6 55.8V60.7M272.3 55.2V62.1M272.9 54.0V61.2M273.6 54.7V58.9M274.3 52.8V55.5M274.9 52.8V56.6M275.6 52.2V54.5M276.2 52.3V56.9M276.9 52.0V55.3M277.5 48.9V54.1M278.2 48.7V52.8M278.8 47.0V54.0M279.5 47.2V50.4M280.2 46.3V51.5M280.8 46.8V52.9M281.5 45.7V49.9M282.1 46.2V48.9M282.8 43.8V50.3M283.4 45.4V51.2M284.1 46.9V49.3M284.8 43.7V49.6M285.4 44.2V49.0M286.1 42.3V48.5M286.7 41.7V45.3M287.4 41.3V48.4M288.0 40.4V46.7M288.7 39.5V43.2M289.3 41.6V45.0M290.0 40.7V45.0M290.7 38.8V44.5M291.3 37.1V43.4M292.0 40.1V42.9M292.6 41.0V44.0M293.3 35.3V39.6M293.9 35.8V42.5M294.6 35.2V42.4M295.3 36.9V40.6M295.9 36.5V39.9M296.6 35.7V40.2M297.2 35.5V40.4M297.9 31.8V38.8M298.5 31.9V38.0M299.2 31.4V37.2M299.9 32.4V36.0M300.5 30.7V36.5M301.2 32.5V36.8M301.8 29.5V34.6M302.5 31.9V34.9M303.1 30.6V35.8M303.8 29.2V35.9M304.4 29.5V34.2M305.1 28.9V33.2M305.8 29.4V35.2M306.4 31.3V35.9M307.1 27.4V33.4M307.7 28.4V34.0M308.4 28.9V32.3M309.0 29.6V35.0M309.7 27.8V35.0M310.4 26.6V32.0M311.0 25.9V31.7M311.7 26.2V32.9M312.3 29.3V31.6M313.0 27.2V34.2M313.6 25.9V32.7M314.3 26.8V33.5M314.9 24.3V30.4M315.6 26.0V29.2M316.3 26.9V30.1M316.9 26.4V32.7M317.6 25.1V29.6M318.2 25.3V28.8M318.9 27.2V30.5M319.5 24.7V31.8M320.2 25.3V29.9M320.9 24.3V30.7M321.5 25.9V30.6M322.2 25.8V31.5M322.8 25.2V30.0M323.5 25.3V27.7M324.1 24.1V27.2M324.8 23.2V29.2M325.4 23.9V29.5" stroke="#a5a5a5" stroke-width="0.5" stroke-opacity="0.45" fill="none"/>
<path d="M206.6 153.3h1.4M207.3 156.1h1.4M207.9 154.7h1.4M208.6 156.8h1.4M209.2 156.5h1.4M209.9 156.3h1.4M210.5 156.3h1.4M211.2 155.0h1.4M211.9 154.2h1.4M212.5 155.4h1.4M213.2 154.4h1.4M213.8 154.0h1.4M214.5 154.8h1.4M215.1 151.2h1.4M215.8 151.6h1.4M216.4 150.4h1.4M217.1 152.9h1.4M217.8 148.5h1.4M218.4 145.6h1.4M219.1 146.5h1.4M219.7 143.8h1.4M220.4 143.9h1.4M221.0 140.0h1.4M221.7 138.9h1.4M222.4 138.3h1.4M223.0 135.3h1.4M223.7 135.9h1.4M224.3 132.7h1.4M225.0 130.5h1.4M225.6 130.6h1.4M226.3 128.9h1.4M226.9 128.5h1.4M227.6 126.4h1.4M228.3 125.6h1.4M228.9 123.2h1.4M229.6 123.1h1.4M230.2 122.7h1.4M230.9 120.4h1.4M231.5 119.5h1.4M232.2 117.4h1.4M232.9 117.0h1.4M233.5 115.7h1.4M234.2 113.6h1.4M234.8 113.0h1.4M235.5 111.6h1.4M236.1 110.4h1.4M236.8 107.5h1.4M237.5 106.4h1.4M238.1 105.3h1.4M238.8 102.6h1.4M239.4 102.3h1.4M240.1 101.7h1.4M240.7 98.6h1.4M241.4 98.3h1.4M242.0 97.5h1.4M242.7 96.9h1.4M243.4 95.3h1.4M244.0 93.4h1.4M244.7 93.0h1.4M245.3 92.5h1.4M246.0 92.5h1.4M246.6 91.3h1.4M247.3 88.2h1.4M248.0 87.9h1.4M248.6 85.8h1.4M249.3 87.0h1.4M249.9 85.7h1.4M250.6 84.0h1.4M251.2 82.3h1.4M251.9 81.6h1.4M252.5 82.0h1.4M253.2 80.8h1.4M253.9 78.7h1.4M254.5 78.7h1.4M255.2 76.4h1.4M255.8 76.6h1.4M256.5 75.4h1.4M257.1 75.0h1.4M257.8 76.9h1.4M258.5 73.5h1.4M259.1 72.5h1.4M259.8 70.8h1.4M260.4 72.1h1.4M261.1 71.3h1.4M261.7 70.3h1.4M262.4 68.0h1.4M263.0 68.1h1.4M263.7 66.7h1.4M264.4 65.7h1.4M265.0 65.1h1.4M265.7 65.7h1.4M266.3 64.0h1.4M267.0 62.6h1.4M267.6 60.4h1.4M268.3 62.6h1.4M269.0 60.4h1.4M269.6 61.1h1.4M270.3 58.8h1.4M270.9 58.3h1.4M271.6 58.6h1.4M272.2 57.6h1.4M272.9 56.8h1.4M273.6 54.2h1.4M274.2 54.7h1.4M274.9 53.4h1.4M275.5 54.6h1.4M276.2 53.7h1.4M276.8 51.5h1.4M277.5 50.8h1.4M278.1 50.5h1.4M278.8 48.8h1.4M279.5 48.9h1.4M280.1 49.8h1.4M280.8 47.8h1.4M281.4 47.6h1.4M282.1 47.0h1.4M282.7 48.3h1.4M283.4 48.1h1.4M284.1 46.6h1.4M284.7 46.6h1.4M285.4 45.4h1.4M286.0 43.5h1.4M286.7 44.9h1.4M287.3 43.6h1.4M288.0 41.3h1.4M288.6 43.3h1.4M289.3 42.8h1.4M290.0 41.7h1.4M290.6 40.2h1.4M291.3 41.5h1.4M291.9 42.5h1.4M292.6 37.4h1.4M293.2 39.2h1.4M293.9 38.8h1.4M294.6 38.7h1.4M295.2 38.2h1.4M295.9 37.9h1.4M296.5 37.9h1.4M297.2 35.3h1.4M297.8 34.9h1.4M298.5 34.3h1.4M299.2 34.2h1.4M299.8 33.6h1.4M300.5 34.7h1.4M301.1 32.0h1.4M301.8 33.4h1.4M302.4 33.2h1.4M303.1 32.6h1.4M303.7 31.9h1.4M304.4 31.0h1.4M305.1 32.3h1.4M305.7 33.6h1.4M306.4 30.4h1.4M307.0 31.2h1.4M307.7 30.6h1.4M308.3 32.3h1.4M309.0 31.4h1.4M309.7 29.3h1.4M310.3 28.8h1.4M311.0 29.6h1.4M311.6 30.5h1.4M312.3 30.7h1.4M312.9 29.3h1.4M313.6 30.2h1.4M314.2 27.4h1.4M314.9 27.6h1.4M315.6 28.5h1.4M316.2 29.6h1.4M316.9 27.3h1.4M317.5 27.1h1.4M318.2 28.9h1.4M318.8 28.2h1.4M319.5 27.6h1.4M320.2 27.5h1.4M320.8 28.3h1.4M321.5 28.6h1.4M322.1 27.6h1.4M322.8 26.5h1.4M323.4 25.7h1.4M324.1 26.2h1.4M324.8 26.7h1.4" stroke="#a5a5a5" stroke-width="0.8" stroke-opacity="0.6" fill="none"/>
<path d="M207.30 153.65 L208.04 153.54 L208.79 153.40 L209.53 153.22 L210.27 153.00 L211.02 152.75 L211.76 152.47 L212.50 152.16 L213.24 151.82 L213.99 151.46 L214.73 151.03 L215.47 150.54 L216.22 149.95 L216.96 149.22 L217.70 148.29 L218.45 147.04 L219.19 145.26 L219.93 142.59 L220.68 138.58 L221.42 132.92 L222.16 125.68 L222.90 117.18 L223.65 107.77 L224.39 97.88 L225.13 88.20 L225.88 79.33 L226.62 71.46 L227.36 64.25 L228.11 57.34 L228.85 50.86 L229.59 45.25 L230.34 40.76 L231.08 37.32 L231.82 34.72 L232.56 32.73 L233.31 31.22 L234.05 30.08 L234.79 29.24 L235.54 28.62 L236.28 28.13 L237.02 27.70 L237.77 27.33 L238.51 27.01 L239.25 26.74 L240.00 26.52 L240.74 26.35 L241.48 26.23 L242.22 26.15 L242.97 26.09 L243.71 26.05 L244.45 26.01 L245.20 25.97 L245.94 25.94 L246.68 25.90 L247.43 25.87 L248.17 25.85 L248.91 25.82 L249.66 25.79 L250.40 25.77 L251.14 25.75 L251.88 25.73 L252.63 25.71 L253.37 25.69 L254.11 25.67 L254.86 25.65 L255.60 25.64 L256.34 25.63 L257.09 25.61 L257.83 25.60 L258.57 25.59 L259.32 25.58 L260.06 25.56 L260.80 25.55 L261.54 25.54 L262.29 25.53 L263.03 25.52 L263.77 25.52 L264.52 25.51 L265.26 25.50 L266.00 25.49 L266.75 25.48 L267.49 25.47 L268.23 25.46 L268.98 25.45 L269.72 25.44 L270.46 25.43 L271.21 25.42 L271.95 25.41 L272.69 25.40 L273.43 25.39 L274.18 25.38 L274.92 25.37 L275.66 25.36 L276.41 25.36 L277.15 25.35 L277.89 25.34 L278.64 25.33 L279.38 25.32 L280.12 25.31 L280.87 25.30 L281.61 25.30 L282.35 25.29 L283.09 25.28 L283.84 25.27 L284.58 25.26 L285.32 25.26 L286.07 25.25 L286.81 25.24 L287.55 25.23 L288.30 25.22 L289.04 25.22 L289.78 25.21 L290.53 25.20 L291.27 25.20 L292.01 25.19 L292.75 25.18 L293.50 25.18 L294.24 25.17 L294.98 25.16 L295.73 25.16 L296.47 25.15 L297.21 25.14 L297.96 25.14 L298.70 25.13 L299.44 25.13 L300.19 25.12 L300.93 25.12 L301.67 25.11 L302.41 25.10 L303.16 25.10 L303.90 25.09 L304.64 25.09 L305.39 25.09 L306.13 25.08 L306.87 25.08 L307.62 25.07 L308.36 25.07 L309.10 25.06 L309.85 25.06 L310.59 25.06 L311.33 25.05 L312.07 25.05 L312.82 25.05 L313.56 25.04 L314.30 25.04 L315.05 25.04 L315.79 25.04 L316.53 25.03 L317.28 25.03 L318.02 25.03 L318.76 25.03 L319.51 25.03 L320.25 25.03 L320.99 25.02 L321.73 25.02 L322.48 25.02 L323.22 25.02 L323.96 25.02 L324.71 25.02 L325.45 25.02" stroke="#f6a87c" stroke-width="3.36" stroke-opacity="0.22" fill="none" stroke-linecap="round"/>
<path d="M207.3 152.3V156.5M208.0 152.3V154.3M208.6 152.4V155.1M209.3 153.1V154.7M209.9 151.3V154.7M210.6 150.6V153.9M211.2 151.4V154.2M211.9 152.6V155.1M212.6 149.8V153.4M213.2 150.5V155.0M213.9 150.6V152.3M214.5 149.0V152.7M215.2 149.2V153.4M215.8 148.5V152.8M216.5 149.4V151.2M217.1 147.9V151.1M217.8 146.5V150.9M218.5 145.4V148.0M219.1 145.3V147.6M219.8 142.6V145.0M220.4 137.6V142.3M221.1 133.2V136.0M221.7 127.7V130.4M222.4 121.7V124.7M223.1 114.1V116.1M223.7 105.3V109.8M224.4 95.7V100.3M225.0 88.3V92.9M225.7 79.9V82.5M226.3 72.9V75.0M227.0 65.6V69.4M227.6 60.0V64.1M228.3 53.9V56.2M229.0 48.2V51.0M229.6 43.9V48.2M230.3 39.6V44.2M230.9 35.1V38.2M231.6 34.1V38.1M232.2 33.2V37.2M232.9 28.8V32.8M233.6 29.7V34.5M234.2 28.3V32.0M234.9 26.8V29.5M235.5 26.6V31.4M236.2 26.6V29.2M236.8 28.3V30.4M237.5 24.9V29.6M238.2 25.7V28.4M238.8 25.4V28.1M239.5 23.3V27.4M240.1 25.8V28.7M240.8 24.7V29.0M241.4 25.0V27.8M242.1 25.4V27.4M242.7 23.8V26.3M243.4 24.8V26.8M244.1 25.1V27.3M244.7 24.8V27.2M245.4 23.9V26.5M246.0 24.2V27.7M246.7 24.0V26.7M247.3 25.9V27.6M248.0 24.0V25.9M248.7 23.3V27.4M249.3 25.5V27.4M250.0 25.9V28.5M250.6 23.9V28.0M251.3 23.9V28.7M251.9 24.8V27.6M252.6 25.5V28.0M253.2 23.4V27.7M253.9 24.8V28.1M254.6 23.8V28.6M255.2 22.7V25.7M255.9 24.3V27.2M256.5 24.9V26.8M257.2 23.2V28.1M257.8 22.5V26.3M258.5 22.0V26.6M259.2 22.9V27.1M259.8 24.5V26.0M260.5 24.0V26.1M261.1 24.1V26.1M261.8 23.3V28.1M262.4 24.0V27.7M263.1 22.9V25.2M263.7 23.5V26.6M264.4 24.3V27.5M265.1 24.8V26.5M265.7 22.8V27.1M266.4 22.3V25.5M267.0 25.1V27.1M267.7 25.3V28.4M268.3 24.3V26.1M269.0 24.1V26.3M269.7 23.6V26.3M270.3 23.5V27.1M271.0 22.5V26.4M271.6 25.1V28.3M272.3 24.1V25.9M272.9 23.5V27.7M273.6 24.4V27.1M274.3 24.5V27.0M274.9 24.7V27.5M275.6 23.0V27.1M276.2 23.5V26.5M276.9 25.0V27.5M277.5 24.0V26.3M278.2 25.6V29.4M278.8 24.9V26.5M279.5 24.7V28.0M280.2 23.4V26.9M280.8 23.0V26.7M281.5 24.2V28.1M282.1 24.6V27.7M282.8 21.9V26.2M283.4 22.7V27.0M284.1 24.4V26.5M284.8 24.5V26.3M285.4 24.8V26.9M286.1 23.6V28.3M286.7 22.1V25.2M287.4 24.2V26.7M288.0 23.0V26.8M288.7 22.7V25.1M289.3 23.0V25.9M290.0 24.3V27.2M290.7 23.5V27.2M291.3 25.1V27.0M292.0 23.1V27.6M292.6 24.6V26.9M293.3 24.2V27.0M293.9 22.7V26.0M294.6 22.7V26.8M295.3 23.5V27.3M295.9 23.5V26.5M296.6 24.6V27.3M297.2 24.6V26.8M297.9 23.5V26.6M298.5 23.1V26.5M299.2 23.1V25.6M299.9 22.4V26.8M300.5 23.1V25.3M301.2 23.7V28.2M301.8 23.9V27.7M302.5 23.1V27.4M303.1 23.4V25.9M303.8 22.5V24.7M304.4 23.7V26.2M305.1 23.4V27.3M305.8 23.2V25.9M306.4 23.7V27.9M307.1 24.0V25.6M307.7 24.4V26.4M308.4 23.5V27.0M309.0 23.5V27.0M309.7 22.6V27.1M310.4 23.5V27.7M311.0 23.5V28.0M311.7 22.3V27.1M312.3 22.2V26.8M313.0 22.5V26.9M313.6 22.2V25.7M314.3 24.2V26.4M314.9 24.8V27.0M315.6 23.0V25.0M316.3 22.8V26.4M316.9 23.3V28.0M317.6 23.1V25.9M318.2 24.6V26.9M318.9 23.8V26.0M319.5 25.5V27.3M320.2 23.0V27.6M320.9 23.2V27.1M321.5 23.8V26.7M322.2 23.8V27.0M322.8 23.4V26.7M323.5 22.9V26.7M324.1 24.0V28.0M324.8 23.4V26.5M325.4 23.9V25.8" stroke="#f6a87c" stroke-width="0.5" stroke-opacity="0.45" fill="none"/>
<path d="M206.6 154.4h1.4M207.3 153.3h1.4M207.9 153.7h1.4M208.6 153.9h1.4M209.2 153.0h1.4M209.9 152.2h1.4M210.5 152.8h1.4M211.2 153.8h1.4M211.9 151.6h1.4M212.5 152.8h1.4M213.2 151.4h1.4M213.8 150.9h1.4M214.5 151.3h1.4M215.1 150.7h1.4M215.8 150.3h1.4M216.4 149.5h1.4M217.1 148.7h1.4M217.8 146.7h1.4M218.4 146.5h1.4M219.1 143.8h1.4M219.7 139.9h1.4M220.4 134.6h1.4M221.0 129.1h1.4M221.7 123.2h1.4M222.4 115.1h1.4M223.0 107.5h1.4M223.7 98.0h1.4M224.3 90.6h1.4M225.0 81.2h1.4M225.6 73.9h1.4M226.3 67.5h1.4M226.9 62.1h1.4M227.6 55.1h1.4M228.3 49.6h1.4M228.9 46.1h1.4M229.6 41.9h1.4M230.2 36.7h1.4M230.9 36.1h1.4M231.5 35.2h1.4M232.2 30.8h1.4M232.9 32.1h1.4M233.5 30.1h1.4M234.2 28.2h1.4M234.8 29.0h1.4M235.5 27.9h1.4M236.1 29.4h1.4M236.8 27.2h1.4M237.5 27.0h1.4M238.1 26.8h1.4M238.8 25.3h1.4M239.4 27.3h1.4M240.1 26.9h1.4M240.7 26.4h1.4M241.4 26.4h1.4M242.0 25.1h1.4M242.7 25.8h1.4M243.4 26.2h1.4M244.0 26.0h1.4M244.7 25.2h1.4M245.3 25.9h1.4M246.0 25.4h1.4M246.6 26.8h1.4M247.3 24.9h1.4M248.0 25.4h1.4M248.6 26.4h1.4M249.3 27.2h1.4M249.9 26.0h1.4M250.6 26.3h1.4M251.2 26.2h1.4M251.9 26.7h1.4M252.5 25.5h1.4M253.2 26.5h1.4M253.9 26.2h1.4M254.5 24.2h1.4M255.2 25.7h1.4M255.8 25.8h1.4M256.5 25.6h1.4M257.1 24.4h1.4M257.8 24.3h1.4M258.5 25.0h1.4M259.1 25.3h1.4M259.8 25.0h1.4M260.4 25.1h1.4M261.1 25.7h1.4M261.7 25.8h1.4M262.4 24.0h1.4M263.0 25.0h1.4M263.7 25.9h1.4M264.4 25.6h1.4M265.0 25.0h1.4M265.7 23.9h1.4M266.3 26.1h1.4M267.0 26.8h1.4M267.6 25.2h1.4M268.3 25.2h1.4M269.0 24.9h1.4M269.6 25.3h1.4M270.3 24.4h1.4M270.9 26.7h1.4M271.6 25.0h1.4M272.2 25.6h1.4M272.9 25.7h1.4M273.6 25.7h1.4M274.2 26.1h1.4M274.9 25.0h1.4M275.5 25.0h1.4M276.2 26.2h1.4M276.8 25.1h1.4M277.5 27.5h1.4M278.1 25.7h1.4M278.8 26.4h1.4M279.5 25.2h1.4M280.1 24.8h1.4M280.8 26.2h1.4M281.4 26.2h1.4M282.1 24.1h1.4M282.7 24.9h1.4M283.4 25.4h1.4M284.1 25.4h1.4M284.7 25.9h1.4M285.4 26.0h1.4M286.0 23.7h1.4M286.7 25.5h1.4M287.3 24.9h1.4M288.0 23.9h1.4M288.6 24.4h1.4M289.3 25.8h1.4M290.0 25.4h1.4M290.6 26.0h1.4M291.3 25.4h1.4M291.9 25.8h1.4M292.6 25.6h1.4M293.2 24.4h1.4M293.9 24.7h1.4M294.6 25.4h1.4M295.2 25.0h1.4M295.9 25.9h1.4M296.5 25.7h1.4M297.2 25.0h1.4M297.8 24.8h1.4M298.5 24.3h1.4M299.2 24.6h1.4M299.8 24.2h1.4M300.5 25.9h1.4M301.1 25.8h1.4M301.8 25.3h1.4M302.4 24.6h1.4M303.1 23.6h1.4M303.7 25.0h1.4M304.4 25.3h1.4M305.1 24.6h1.4M305.7 25.8h1.4M306.4 24.8h1.4M307.0 25.4h1.4M307.7 25.3h1.4M308.3 25.3h1.4M309.0 24.9h1.4M309.7 25.6h1.4M310.3 25.7h1.4M311.0 24.7h1.4M311.6 24.5h1.4M312.3 24.7h1.4M312.9 23.9h1.4M313.6 25.3h1.4M314.2 25.9h1.4M314.9 24.0h1.4M315.6 24.6h1.4M316.2 25.7h1.4M316.9 24.5h1.4M317.5 25.7h1.4M318.2 24.9h1.4M318.8 26.4h1.4M319.5 25.3h1.4M320.2 25.1h1.4M320.8 25.2h1.4M321.5 25.4h1.4M322.1 25.1h1.4M322.8 24.8h1.4M323.4 26.0h1.4M324.1 25.0h1.4M324.8 24.9h1.4" stroke="#f6a87c" stroke-width="0.8" stroke-opacity="0.6" fill="none"/>
<path d="M207.30 147.02 L208.04 147.02 L208.79 147.02 L209.53 147.02 L210.27 147.02 L211.02 147.02 L211.76 147.01 L212.50 147.00 L213.24 146.94 L213.99 146.81 L214.73 146.57 L215.47 146.17 L216.22 145.56 L216.96 144.69 L217.70 143.50 L218.45 141.95 L219.19 139.95 L219.93 137.30 L220.68 133.74 L221.42 129.03 L222.16 123.03 L222.90 115.64 L223.65 106.92 L224.39 97.33 L225.13 87.72 L225.88 78.87 L226.62 71.00 L227.36 63.79 L228.11 56.87 L228.85 50.32 L229.59 44.53 L230.34 39.80 L231.08 36.11 L231.82 33.32 L232.56 31.21 L233.31 29.61 L234.05 28.43 L234.79 27.58 L235.54 26.97 L236.28 26.48 L237.02 26.07 L237.77 25.72 L238.51 25.41 L239.25 25.15 L240.00 24.94 L240.74 24.78 L241.48 24.65 L242.22 24.56 L242.97 24.49 L243.71 24.43 L244.45 24.37 L245.20 24.32 L245.94 24.27 L246.68 24.23 L247.43 24.18 L248.17 24.14 L248.91 24.10 L249.66 24.06 L250.40 24.03 L251.14 23.99 L251.88 23.96 L252.63 23.93 L253.37 23.90 L254.11 23.88 L254.86 23.85 L255.60 23.83 L256.34 23.81 L257.09 23.78 L257.83 23.77 L258.57 23.75 L259.32 23.73 L260.06 23.72 L260.80 23.70 L261.54 23.69 L262.29 23.68 L263.03 23.66 L263.77 23.65 L264.52 23.64 L265.26 23.63 L266.00 23.62 L266.75 23.61 L267.49 23.60 L268.23 23.60 L268.98 23.59 L269.72 23.58 L270.46 23.57 L271.21 23.56 L271.95 23.55 L272.69 23.55 L273.43 23.54 L274.18 23.53 L274.92 23.52 L275.66 23.51 L276.41 23.51 L277.15 23.50 L277.89 23.49 L278.64 23.49 L279.38 23.48 L280.12 23.47 L280.87 23.46 L281.61 23.46 L282.35 23.45 L283.09 23.44 L283.84 23.44 L284.58 23.43 L285.32 23.42 L286.07 23.42 L286.81 23.41 L287.55 23.41 L288.30 23.40 L289.04 23.39 L289.78 23.39 L290.53 23.38 L291.27 23.38 L292.01 23.37 L292.75 23.37 L293.50 23.36 L294.24 23.36 L294.98 23.35 L295.73 23.35 L296.47 23.34 L297.21 23.34 L297.96 23.33 L298.70 23.33 L299.44 23.32 L300.19 23.32 L300.93 23.32 L301.67 23.31 L302.41 23.31 L303.16 23.31 L303.90 23.30 L304.64 23.30 L305.39 23.29 L306.13 23.29 L306.87 23.29 L307.62 23.29 L308.36 23.28 L309.10 23.28 L309.85 23.28 L310.59 23.27 L311.33 23.27 L312.07 23.27 L312.82 23.27 L313.56 23.27 L314.30 23.26 L315.05 23.26 L315.79 23.26 L316.53 23.26 L317.28 23.26 L318.02 23.26 L318.76 23.25 L319.51 23.25 L320.25 23.25 L320.99 23.25 L321.73 23.25 L322.48 23.25 L323.22 23.25 L323.96 23.25 L324.71 23.25 L325.45 23.25" stroke="#e9e27a" stroke-width="4.19" stroke-opacity="0.22" fill="none" stroke-linecap="round"/>
<path d="M207.3 144.4V148.6M208.0 144.2V148.6M208.6 147.2V149.5M209.3 146.7V150.9M209.9 144.0V147.7M210.6 145.1V147.5M211.2 145.6V149.5M211.9 142.8V148.7M212.6 144.7V150.4M213.2 144.1V148.5M213.9 143.9V147.3M214.5 142.7V148.6M215.2 144.7V150.3M215.8 145.2V149.2M216.5 143.4V146.7M217.1 141.8V147.2M217.8 138.9V145.0M218.5 139.4V144.3M219.1 137.9V142.0M219.8 136.0V140.4M220.4 133.4V138.5M221.1 129.6V132.2M221.7 122.4V128.4M222.4 117.8V123.2M223.1 111.5V117.2M223.7 105.8V107.9M224.4 94.8V100.4M225.0 85.7V89.3M225.7 78.6V82.9M226.3 73.1V75.2M227.0 66.3V68.2M227.6 58.7V62.3M228.3 53.5V58.1M229.0 48.3V50.4M229.6 43.7V47.3M230.3 37.4V43.1M230.9 34.2V38.0M231.6 31.7V35.1M232.2 28.8V32.9M232.9 28.8V32.5M233.6 28.7V33.9M234.2 25.1V29.6M234.9 25.7V28.1M235.5 24.2V27.6M236.2 22.1V28.1M236.8 23.7V28.2M237.5 24.6V28.3M238.2 23.9V27.8M238.8 24.6V27.3M239.5 22.2V27.3M240.1 21.0V25.5M240.8 24.3V26.3M241.4 22.3V28.2M242.1 20.8V25.0M242.7 24.3V27.2M243.4 22.6V27.5M244.1 23.7V27.5M244.7 20.7V25.3M245.4 23.5V27.3M246.0 21.7V27.6M246.7 22.2V26.2M247.3 22.3V28.0M248.0 21.2V27.1M248.7 24.3V26.6M249.3 23.3V27.0M250.0 21.8V27.8M250.6 20.9V25.3M251.3 21.6V26.7M251.9 21.6V26.9M252.6 23.1V26.4M253.2 20.8V25.4M253.9 21.0V24.6M254.6 24.0V29.3M255.2 22.0V25.6M255.9 21.0V24.6M256.5 22.1V26.7M257.2 21.0V25.7M257.8 23.4V28.0M258.5 22.1V25.9M259.2 22.4V24.8M259.8 20.7V25.1M260.5 21.6V26.5M261.1 21.3V24.5M261.8 21.0V23.2M262.4 21.6V27.3M263.1 22.4V26.1M263.7 22.5V24.5M264.4 21.6V25.5M265.1 22.1V25.3M265.7 22.0V25.9M266.4 18.9V24.4M267.0 22.8V27.4M267.7 22.0V26.4M268.3 22.6V25.2M269.0 22.0V26.3M269.7 19.5V24.4M270.3 22.3V26.3M271.0 21.3V25.5M271.6 20.5V26.5M272.3 20.4V23.1M272.9 21.0V25.9M273.6 20.4V23.2M274.3 21.4V26.9M274.9 21.7V26.0M275.6 22.3V25.9M276.2 21.6V25.5M276.9 22.5V25.2M277.5 20.6V25.4M278.2 19.7V24.1M278.8 21.7V26.9M279.5 20.6V25.5M280.2 22.1V23.9M280.8 20.7V23.4M281.5 21.3V24.0M282.1 23.9V25.8M282.8 19.6V25.1M283.4 21.9V25.8M284.1 21.1V23.5M284.8 20.2V25.5M285.4 20.8V26.3M286.1 24.6V26.7M286.7 21.5V24.0M287.4 21.1V26.4M288.0 21.3V25.4M288.7 22.2V24.2M289.3 21.3V26.9M290.0 21.9V24.3M290.7 20.3V24.6M291.3 23.0V25.0M292.0 21.6V24.9M292.6 21.8V24.7M293.3 21.7V26.1M293.9 22.2V26.8M294.6 21.9V27.3M295.3 21.2V23.2M295.9 20.4V22.8M296.6 20.1V24.1M297.2 19.5V25.2M297.9 18.8V23.3M298.5 22.0V25.4M299.2 20.5V23.2M299.9 21.6V25.8M300.5 20.9V25.4M301.2 20.9V25.7M301.8 21.1V23.5M302.5 22.0V27.0M303.1 20.0V23.9M303.8 21.9V25.0M304.4 19.1V25.0M305.1 21.6V24.0M305.8 20.8V24.1M306.4 22.4V27.8M307.1 20.7V25.0M307.7 19.9V25.4M308.4 20.8V26.6M309.0 21.2V25.5M309.7 21.5V24.8M310.4 22.8V25.1M311.0 21.1V24.7M311.7 20.0V24.7M312.3 20.0V25.7M313.0 21.7V26.3M313.6 20.7V26.5M314.3 20.5V25.1M314.9 20.2V23.6M315.6 21.1V24.7M316.3 21.7V24.7M316.9 21.9V26.0M317.6 20.2V25.6M318.2 21.0V25.9M318.9 20.4V24.9M319.5 19.6V24.4M320.2 22.1V26.0M320.9 22.0V24.9M321.5 23.0V25.3M322.2 21.6V24.4M322.8 21.7V25.9M323.5 20.0V25.0M324.1 21.7V25.0M324.8 20.7V23.5M325.4 18.9V24.6" stroke="#e9e27a" stroke-width="0.5" stroke-opacity="0.45" fill="none"/>
<path d="M206.6 146.5h1.4M207.3 146.4h1.4M207.9 148.4h1.4M208.6 148.8h1.4M209.2 145.8h1.4M209.9 146.3h1.4M210.5 147.5h1.4M211.2 145.7h1.4M211.9 147.5h1.4M212.5 146.3h1.4M213.2 145.6h1.4M213.8 145.6h1.4M214.5 147.5h1.4M215.1 147.2h1.4M215.8 145.1h1.4M216.4 144.5h1.4M217.1 141.9h1.4M217.8 141.9h1.4M218.4 139.9h1.4M219.1 138.2h1.4M219.7 135.9h1.4M220.4 130.9h1.4M221.0 125.4h1.4M221.7 120.5h1.4M222.4 114.4h1.4M223.0 106.8h1.4M223.7 97.6h1.4M224.3 87.5h1.4M225.0 80.8h1.4M225.6 74.2h1.4M226.3 67.3h1.4M226.9 60.5h1.4M227.6 55.8h1.4M228.3 49.4h1.4M228.9 45.5h1.4M229.6 40.3h1.4M230.2 36.1h1.4M230.9 33.4h1.4M231.5 30.9h1.4M232.2 30.6h1.4M232.9 31.3h1.4M233.5 27.3h1.4M234.2 26.9h1.4M234.8 25.9h1.4M235.5 25.1h1.4M236.1 26.0h1.4M236.8 26.5h1.4M237.5 25.9h1.4M238.1 26.0h1.4M238.8 24.7h1.4M239.4 23.3h1.4M240.1 25.3h1.4M240.7 25.2h1.4M241.4 22.9h1.4M242.0 25.8h1.4M242.7 25.0h1.4M243.4 25.6h1.4M244.0 23.0h1.4M244.7 25.4h1.4M245.3 24.7h1.4M246.0 24.2h1.4M246.6 25.2h1.4M247.3 24.2h1.4M248.0 25.5h1.4M248.6 25.1h1.4M249.3 24.8h1.4M249.9 23.1h1.4M250.6 24.2h1.4M251.2 24.3h1.4M251.9 24.8h1.4M252.5 23.1h1.4M253.2 22.8h1.4M253.9 26.6h1.4M254.5 23.8h1.4M255.2 22.8h1.4M255.8 24.4h1.4M256.5 23.4h1.4M257.1 25.7h1.4M257.8 24.0h1.4M258.5 23.6h1.4M259.1 22.9h1.4M259.8 24.0h1.4M260.4 22.9h1.4M261.1 22.1h1.4M261.7 24.4h1.4M262.4 24.2h1.4M263.0 23.5h1.4M263.7 23.5h1.4M264.4 23.7h1.4M265.0 23.9h1.4M265.7 21.6h1.4M266.3 25.1h1.4M267.0 24.2h1.4M267.6 23.9h1.4M268.3 24.2h1.4M269.0 21.9h1.4M269.6 24.3h1.4M270.3 23.4h1.4M270.9 23.5h1.4M271.6 21.8h1.4M272.2 23.5h1.4M272.9 21.8h1.4M273.6 24.1h1.4M274.2 23.9h1.4M274.9 24.1h1.4M275.5 23.5h1.4M276.2 23.9h1.4M276.8 23.0h1.4M277.5 21.9h1.4M278.1 24.3h1.4M278.8 23.0h1.4M279.5 23.0h1.4M280.1 22.1h1.4M280.8 22.6h1.4M281.4 24.9h1.4M282.1 22.4h1.4M282.7 23.9h1.4M283.4 22.3h1.4M284.1 22.9h1.4M284.7 23.6h1.4M285.4 25.7h1.4M286.0 22.7h1.4M286.7 23.8h1.4M287.3 23.4h1.4M288.0 23.2h1.4M288.6 24.1h1.4M289.3 23.1h1.4M290.0 22.4h1.4M290.6 24.0h1.4M291.3 23.2h1.4M291.9 23.3h1.4M292.6 23.9h1.4M293.2 24.5h1.4M293.9 24.6h1.4M294.6 22.2h1.4M295.2 21.6h1.4M295.9 22.1h1.4M296.5 22.4h1.4M297.2 21.1h1.4M297.8 23.7h1.4M298.5 21.9h1.4M299.2 23.7h1.4M299.8 23.1h1.4M300.5 23.3h1.4M301.1 22.3h1.4M301.8 24.5h1.4M302.4 21.9h1.4M303.1 23.5h1.4M303.7 22.1h1.4M304.4 22.8h1.4M305.1 22.4h1.4M305.7 25.1h1.4M306.4 22.8h1.4M307.0 22.6h1.4M307.7 23.7h1.4M308.3 23.4h1.4M309.0 23.2h1.4M309.7 23.9h1.4M310.3 22.9h1.4M311.0 22.3h1.4M311.6 22.8h1.4M312.3 24.0h1.4M312.9 23.6h1.4M313.6 22.8h1.4M314.2 21.9h1.4M314.9 22.9h1.4M315.6 23.2h1.4M316.2 23.9h1.4M316.9 22.9h1.4M317.5 23.5h1.4M318.2 22.6h1.4M318.8 22.0h1.4M319.5 24.0h1.4M320.2 23.4h1.4M320.8 24.2h1.4M321.5 23.0h1.4M322.1 23.8h1.4M322.8 22.5h1.4M323.4 23.3h1.4M324.1 22.1h1.4M324.8 21.7h1.4" stroke="#e9e27a" stroke-width="0.8" stroke-opacity="0.6" fill="none"/>
<path d="M207.30 155.54 L208.04 155.07 L208.79 154.39 L209.53 153.34 L210.27 151.81 L211.02 149.82 L211.76 147.48 L212.50 144.89 L213.24 142.07 L213.99 138.97 L214.73 135.55 L215.47 131.79 L216.22 127.61 L216.96 122.99 L217.70 118.01 L218.45 112.95 L219.19 108.15 L219.93 103.76 L220.68 99.61 L221.42 95.40 L222.16 91.00 L222.90 86.50 L223.65 82.14 L224.39 78.12 L225.13 74.52 L225.88 71.33 L226.62 68.56 L227.36 66.22 L228.11 64.25 L228.85 62.50 L229.59 60.78 L230.34 58.98 L231.08 57.10 L231.82 55.19 L232.56 53.36 L233.31 51.67 L234.05 50.19 L234.79 48.93 L235.54 47.85 L236.28 46.89 L237.02 46.01 L237.77 45.21 L238.51 44.46 L239.25 43.78 L240.00 43.15 L240.74 42.57 L241.48 42.03 L242.22 41.54 L242.97 41.08 L243.71 40.64 L244.45 40.23 L245.20 39.84 L245.94 39.47 L246.68 39.11 L247.43 38.78 L248.17 38.46 L248.91 38.15 L249.66 37.86 L250.40 37.59 L251.14 37.32 L251.88 37.06 L252.63 36.82 L253.37 36.58 L254.11 36.35 L254.86 36.13 L255.60 35.92 L256.34 35.72 L257.09 35.52 L257.83 35.33 L258.57 35.14 L259.32 34.96 L260.06 34.79 L260.80 34.62 L261.54 34.45 L262.29 34.29 L263.03 34.13 L263.77 33.97 L264.52 33.82 L265.26 33.66 L266.00 33.51 L266.75 33.36 L267.49 33.21 L268.23 33.06 L268.98 32.92 L269.72 32.78 L270.46 32.64 L271.21 32.50 L271.95 32.37 L272.69 32.24 L273.43 32.10 L274.18 31.98 L274.92 31.85 L275.66 31.72 L276.41 31.60 L277.15 31.48 L277.89 31.36 L278.64 31.24 L279.38 31.12 L280.12 31.00 L280.87 30.89 L281.61 30.77 L282.35 30.66 L283.09 30.55 L283.84 30.44 L284.58 30.33 L285.32 30.21 L286.07 30.10 L286.81 29.99 L287.55 29.88 L288.30 29.77 L289.04 29.66 L289.78 29.55 L290.53 29.44 L291.27 29.33 L292.01 29.23 L292.75 29.12 L293.50 29.02 L294.24 28.92 L294.98 28.83 L295.73 28.73 L296.47 28.64 L297.21 28.55 L297.96 28.46 L298.70 28.38 L299.44 28.30 L300.19 28.22 L300.93 28.15 L301.67 28.08 L302.41 28.01 L303.16 27.95 L303.90 27.89 L304.64 27.82 L305.39 27.76 L306.13 27.70 L306.87 27.64 L307.62 27.59 L308.36 27.53 L309.10 27.47 L309.85 27.42 L310.59 27.36 L311.33 27.31 L312.07 27.26 L312.82 27.21 L313.56 27.16 L314.30 27.11 L315.05 27.06 L315.79 27.02 L316.53 26.97 L317.28 26.93 L318.02 26.89 L318.76 26.85 L319.51 26.82 L320.25 26.78 L320.99 26.75 L321.73 26.72 L322.48 26.69 L323.22 26.67 L323.96 26.65 L324.71 26.62 L325.45 26.60" stroke="#c9707c" stroke-width="4.19" stroke-opacity="0.22" fill="none" stroke-linecap="round"/>
<path d="M207.3 151.0V156.4M208.0 153.7V156.0M208.6 152.5V155.7M209.3 152.0V155.7M209.9 150.2V154.9M210.6 149.8V151.7M211.2 147.1V152.3M211.9 146.4V148.9M212.6 142.7V145.7M213.2 140.9V143.7M213.9 136.8V140.8M214.5 134.4V138.1M215.2 132.1V136.0M215.8 126.0V132.0M216.5 126.0V128.6M217.1 119.4V123.7M217.8 116.0V120.1M218.5 112.5V114.7M219.1 108.0V109.9M219.8 101.0V104.8M220.4 100.7V103.0M221.1 94.8V98.7M221.7 92.2V96.7M222.4 86.6V91.9M223.1 82.6V87.5M223.7 77.8V83.8M224.4 75.6V81.1M225.0 75.7V78.3M225.7 71.2V73.3M226.3 67.4V71.4M227.0 65.3V70.3M227.6 63.1V68.3M228.3 63.3V65.4M229.0 62.0V66.2M229.6 59.9V63.0M230.3 55.0V60.2M230.9 54.7V60.3M231.6 52.0V57.3M232.2 52.6V56.6M232.9 51.1V54.1M233.6 49.4V51.4M234.2 47.7V53.4M234.9 48.4V50.5M235.5 46.1V49.4M236.2 46.1V49.2M236.8 43.0V46.8M237.5 44.5V47.2M238.2 41.0V46.9M238.8 42.1V45.8M239.5 43.4V45.5M240.1 43.2V46.4M240.8 41.4V44.9M241.4 39.4V44.1M242.1 39.1V42.2M242.7 37.8V42.4M243.4 38.2V41.9M244.1 36.3V41.7M244.7 37.9V39.9M245.4 38.3V41.7M246.0 35.6V40.6M246.7 37.4V41.2M247.3 34.7V39.1M248.0 37.1V41.4M248.7 36.8V39.5M249.3 35.5V40.4M250.0 34.0V39.6M250.6 37.8V39.8M251.3 35.6V37.5M251.9 34.8V39.1M252.6 33.9V36.2M253.2 35.1V39.8M253.9 35.3V38.9M254.6 36.0V38.8M255.2 32.1V36.9M255.9 35.1V39.2M256.5 33.5V36.4M257.2 33.9V36.8M257.8 32.7V37.4M258.5 32.5V35.1M259.2 32.0V37.9M259.8 32.7V37.0M260.5 32.8V37.5M261.1 32.4V37.9M261.8 31.7V36.8M262.4 32.3V35.2M263.1 31.9V34.6M263.7 31.9V34.7M264.4 31.3V36.6M265.1 31.2V35.4M265.7 31.5V36.6M266.4 31.1V37.0M267.0 31.4V34.6M267.7 32.1V34.3M268.3 32.2V36.6M269.0 31.0V34.4M269.7 28.5V34.5M270.3 31.1V34.8M271.0 30.8V34.9M271.6 30.5V35.1M272.3 31.0V33.4M272.9 29.0V32.8M273.6 31.7V34.2M274.3 31.3V34.0M274.9 31.0V34.6M275.6 29.4V32.1M276.2 30.8V33.3M276.9 28.7V33.0M277.5 31.3V33.2M278.2 28.3V34.0M278.8 29.2V32.3M279.5 28.4V33.6M280.2 28.2V30.9M280.8 28.8V34.2M281.5 29.2V31.5M282.1 28.5V32.7M282.8 28.8V34.6M283.4 28.7V33.7M284.1 27.6V33.3M284.8 28.0V33.7M285.4 27.6V32.4M286.1 28.4V32.5M286.7 28.2V33.3M287.4 27.5V32.7M288.0 27.2V32.2M288.7 29.4V31.6M289.3 28.8V30.7M290.0 28.6V30.9M290.7 29.0V32.9M291.3 29.2V33.8M292.0 27.8V33.7M292.6 27.4V32.7M293.3 26.4V32.0M293.9 27.1V30.2M294.6 27.5V30.1M295.3 29.3V32.0M295.9 27.6V33.0M296.6 24.8V30.8M297.2 26.0V31.5M297.9 25.5V28.9M298.5 26.2V31.7M299.2 26.8V30.5M299.9 28.0V31.2M300.5 25.4V30.7M301.2 26.6V31.5M301.8 25.5V30.1M302.5 25.9V31.1M303.1 28.0V31.6M303.8 28.0V30.1M304.4 27.0V31.6M305.1 27.5V29.9M305.8 26.4V29.4M306.4 24.7V30.7M307.1 27.1V32.1M307.7 25.0V27.6M308.4 26.3V31.1M309.0 24.9V27.9M309.7 26.2V31.0M310.4 25.7V30.6M311.0 24.3V29.0M311.7 25.4V27.5M312.3 24.9V27.6M313.0 24.8V27.7M313.6 26.5V31.5M314.3 25.0V28.3M314.9 25.0V27.2M315.6 25.4V30.8M316.3 25.4V27.7M316.9 25.6V28.3M317.6 25.3V28.3M318.2 24.6V27.3M318.9 26.9V30.8M319.5 24.9V30.8M320.2 24.0V29.9M320.9 23.8V27.9M321.5 24.2V28.8M322.2 27.3V29.5M322.8 25.1V28.9M323.5 25.1V27.7M324.1 24.9V29.4M324.8 24.7V27.1M325.4 24.4V27.0" stroke="#c9707c" stroke-width="0.5" stroke-opacity="0.45" fill="none"/>
<path d="M206.6 153.7h1.4M207.3 154.9h1.4M207.9 154.1h1.4M208.6 153.9h1.4M209.2 152.5h1.4M209.9 150.7h1.4M210.5 149.7h1.4M211.2 147.6h1.4M211.9 144.2h1.4M212.5 142.3h1.4M213.2 138.8h1.4M213.8 136.2h1.4M214.5 134.1h1.4M215.1 129.0h1.4M215.8 127.3h1.4M216.4 121.5h1.4M217.1 118.1h1.4M217.8 113.6h1.4M218.4 109.0h1.4M219.1 102.9h1.4M219.7 101.8h1.4M220.4 96.7h1.4M221.0 94.5h1.4M221.7 89.2h1.4M222.4 85.1h1.4M223.0 80.8h1.4M223.7 78.4h1.4M224.3 77.0h1.4M225.0 72.2h1.4M225.6 69.4h1.4M226.3 67.8h1.4M226.9 65.7h1.4M227.6 64.4h1.4M228.3 64.1h1.4M228.9 61.5h1.4M229.6 57.6h1.4M230.2 57.5h1.4M230.9 54.7h1.4M231.5 54.6h1.4M232.2 52.6h1.4M232.9 50.4h1.4M233.5 50.6h1.4M234.2 49.5h1.4M234.8 47.7h1.4M235.5 47.6h1.4M236.1 44.9h1.4M236.8 45.9h1.4M237.5 44.0h1.4M238.1 43.9h1.4M238.8 44.5h1.4M239.4 44.8h1.4M240.1 43.1h1.4M240.7 41.7h1.4M241.4 40.7h1.4M242.0 40.1h1.4M242.7 40.1h1.4M243.4 39.0h1.4M244.0 38.9h1.4M244.7 40.0h1.4M245.3 38.1h1.4M246.0 39.3h1.4M246.6 36.9h1.4M247.3 39.3h1.4M248.0 38.2h1.4M248.6 37.9h1.4M249.3 36.8h1.4M249.9 38.8h1.4M250.6 36.6h1.4M251.2 36.9h1.4M251.9 35.0h1.4M252.5 37.5h1.4M253.2 37.1h1.4M253.9 37.4h1.4M254.5 34.5h1.4M255.2 37.2h1.4M255.8 34.9h1.4M256.5 35.3h1.4M257.1 35.0h1.4M257.8 33.8h1.4M258.5 35.0h1.4M259.1 34.9h1.4M259.8 35.2h1.4M260.4 35.1h1.4M261.1 34.3h1.4M261.7 33.8h1.4M262.4 33.3h1.4M263.0 33.3h1.4M263.7 33.9h1.4M264.4 33.3h1.4M265.0 34.0h1.4M265.7 34.1h1.4M266.3 33.0h1.4M267.0 33.2h1.4M267.6 34.4h1.4M268.3 32.7h1.4M269.0 31.5h1.4M269.6 33.0h1.4M270.3 32.8h1.4M270.9 32.8h1.4M271.6 32.2h1.4M272.2 30.9h1.4M272.9 32.9h1.4M273.6 32.6h1.4M274.2 32.8h1.4M274.9 30.8h1.4M275.5 32.1h1.4M276.2 30.8h1.4M276.8 32.2h1.4M277.5 31.2h1.4M278.1 30.8h1.4M278.8 31.0h1.4M279.5 29.5h1.4M280.1 31.5h1.4M280.8 30.3h1.4M281.4 30.6h1.4M282.1 31.7h1.4M282.7 31.2h1.4M283.4 30.4h1.4M284.1 30.9h1.4M284.7 30.0h1.4M285.4 30.4h1.4M286.0 30.7h1.4M286.7 30.1h1.4M287.3 29.7h1.4M288.0 30.5h1.4M288.6 29.7h1.4M289.3 29.7h1.4M290.0 31.0h1.4M290.6 31.5h1.4M291.3 30.8h1.4M291.9 30.1h1.4M292.6 29.2h1.4M293.2 28.6h1.4M293.9 28.8h1.4M294.6 30.7h1.4M295.2 30.3h1.4M295.9 27.8h1.4M296.5 28.7h1.4M297.2 27.2h1.4M297.8 29.0h1.4M298.5 28.7h1.4M299.2 29.6h1.4M299.8 28.1h1.4M300.5 29.1h1.4M301.1 27.8h1.4M301.8 28.5h1.4M302.4 29.8h1.4M303.1 29.0h1.4M303.7 29.3h1.4M304.4 28.7h1.4M305.1 27.9h1.4M305.7 27.7h1.4M306.4 29.6h1.4M307.0 26.3h1.4M307.7 28.7h1.4M308.3 26.4h1.4M309.0 28.6h1.4M309.7 28.1h1.4M310.3 26.7h1.4M311.0 26.4h1.4M311.6 26.2h1.4M312.3 26.3h1.4M312.9 29.0h1.4M313.6 26.7h1.4M314.2 26.1h1.4M314.9 28.1h1.4M315.6 26.5h1.4M316.2 27.0h1.4M316.9 26.8h1.4M317.5 25.9h1.4M318.2 28.8h1.4M318.8 27.9h1.4M319.5 26.9h1.4M320.2 25.8h1.4M320.8 26.5h1.4M321.5 28.4h1.4M322.1 27.0h1.4M322.8 26.4h1.4M323.4 27.1h1.4M324.1 25.9h1.4M324.8 25.7h1.4" stroke="#c9707c" stroke-width="0.8" stroke-opacity="0.6" fill="none"/>
<path d="M207.30 155.50 L207.89 155.50 L208.49 155.50 L209.08 155.50 L209.67 155.50 L210.27 155.50 L210.86 155.49 L211.46 155.47 L212.05 155.40 L212.64 155.26 L213.24 155.00 L213.83 154.61 L214.42 154.10 L215.02 153.49 L215.61 152.81 L216.21 152.04 L216.80 151.18 L217.39 150.22 L217.99 149.17 L218.58 148.03 L219.17 146.82 L219.77 145.52 L220.36 144.11 L220.96 142.62 L221.55 141.06 L222.14 139.48 L222.74 137.95 L223.33 136.48 L223.92 135.10 L224.52 133.78 L225.11 132.52 L225.71 131.29 L226.30 130.10 L226.89 128.93 L227.49 127.78 L228.08 126.65 L228.67 125.54 L229.27 124.46 L229.86 123.40 L230.46 122.37 L231.05 121.34 L231.64 120.30 L232.24 119.25 L232.83 118.17 L233.42 117.04 L234.02 115.85 L234.61 114.61 L235.20 113.33 L235.80 112.04 L236.39 110.75 L236.99 109.48 L237.58 108.25 L238.17 107.03 L238.77 105.84 L239.36 104.66 L239.95 103.49 L240.55 102.34 L241.14 101.20 L241.74 100.08 L242.33 98.97 L242.92 97.88 L243.52 96.81 L244.11 95.75 L244.70 94.71 L245.30 93.69 L245.89 92.68 L246.49 91.68 L247.08 90.69 L247.67 89.72 L248.27 88.76 L248.86 87.81 L249.45 86.88 L250.05 85.95 L250.64 85.05 L251.24 84.15 L251.83 83.27 L252.42 82.40 L253.02 81.55 L253.61 80.71 L254.20 79.88 L254.80 79.07 L255.39 78.27 L255.98 77.48 L256.58 76.70 L257.17 75.93 L257.77 75.17 L258.36 74.41 L258.95 73.66 L259.55 72.91 L260.14 72.17 L260.73 71.43 L261.33 70.70 L261.92 69.97 L262.52 69.24 L263.11 68.52 L263.70 67.80 L264.30 67.09 L264.89 66.38 L265.48 65.68 L266.08 64.98 L266.67 64.29 L267.27 63.60 L267.86 62.91 L268.45 62.22 L269.05 61.54 L269.64 60.85 L270.23 60.17 L270.83 59.48 L271.42 58.80 L272.02 58.11 L272.61 57.43 L273.20 56.75 L273.80 56.08 L274.39 55.41 L274.98 54.75 L275.58 54.11 L276.17 53.48 L276.77 52.86 L277.36 52.26 L277.95 51.68 L278.55 51.11 L279.14 50.55 L279.73 50.01 L280.33 49.47 L280.92 48.94 L281.51 48.42 L282.11 47.92 L282.70 47.42 L283.30 46.93 L283.89 46.44 L284.48 45.97 L285.08 45.51 L285.67 45.06 L286.26 44.61 L286.86 44.19 L287.45 43.77 L288.05 43.37 L288.64 42.99 L289.23 42.61 L289.83 42.24 L290.42 41.87 L291.01 41.50 L291.61 41.12 L292.20 40.74 L292.80 40.34 L293.39 39.93 L293.98 39.49 L294.58 39.02 L295.17 38.52 L295.76 37.99 L296.36 37.45 L296.95 36.92 L297.55 36.43 L298.14 35.98 L298.73 35.56 L299.33 35.16 L299.92 34.78 L300.51 34.42 L301.11 34.08 L301.70 33.74 L302.29 33.42 L302.89 33.10 L303.48 32.80 L304.08 32.52 L304.67 32.24 L305.26 31.97 L305.86 31.72 L306.45 31.47 L307.04 31.24 L307.64 31.01 L308.23 30.79 L308.83 30.58 L309.42 30.38 L310.01 30.18 L310.61 29.99 L311.20 29.80 L311.79 29.62 L312.39 29.45 L312.98 29.28 L313.58 29.12 L314.17 28.96 L314.76 28.81 L315.36 28.67 L315.95 28.53 L316.54 28.39 L317.14 28.27 L317.73 28.14 L318.33 28.02 L318.92 27.90 L319.51 27.79 L320.11 27.68 L320.70 27.57 L321.29 27.47 L321.89 27.38 L322.48 27.28 L323.08 27.19 L323.67 27.11 L324.26 27.03 L324.86 26.96 L325.45 26.88" stroke="#4d4d4d" stroke-width="1.05" fill="none"/>
<path d="M207.30 153.65 L207.89 153.56 L208.49 153.46 L209.08 153.33 L209.67 153.18 L210.27 153.01 L210.86 152.80 L211.46 152.58 L212.05 152.35 L212.64 152.10 L213.24 151.83 L213.83 151.54 L214.42 151.22 L215.02 150.85 L215.61 150.44 L216.21 149.96 L216.80 149.39 L217.39 148.71 L217.99 147.86 L218.58 146.76 L219.17 145.30 L219.77 143.28 L220.36 140.46 L220.96 136.64 L221.55 131.75 L222.14 125.88 L222.74 119.20 L223.33 111.88 L223.92 104.11 L224.52 96.19 L225.11 88.48 L225.71 81.29 L226.30 74.76 L226.89 68.77 L227.49 63.09 L228.08 57.58 L228.67 52.33 L229.27 47.58 L229.86 43.50 L230.46 40.14 L231.05 37.44 L231.64 35.28 L232.24 33.55 L232.83 32.14 L233.42 31.01 L234.02 30.12 L234.61 29.42 L235.20 28.88 L235.80 28.44 L236.39 28.06 L236.99 27.72 L237.58 27.42 L238.17 27.15 L238.77 26.91 L239.36 26.70 L239.95 26.53 L240.55 26.39 L241.14 26.28 L241.74 26.20 L242.33 26.14 L242.92 26.10 L243.52 26.06 L244.11 26.03 L244.70 26.00 L245.30 25.97 L245.89 25.94 L246.49 25.91 L247.08 25.89 L247.67 25.86 L248.27 25.84 L248.86 25.82 L249.45 25.80 L250.05 25.78 L250.64 25.76 L251.24 25.74 L251.83 25.73 L252.42 25.71 L253.02 25.70 L253.61 25.68 L254.20 25.67 L254.80 25.66 L255.39 25.64 L255.98 25.63 L256.58 25.62 L257.17 25.61 L257.77 25.60 L258.36 25.59 L258.95 25.58 L259.55 25.57 L260.14 25.56 L260.73 25.56 L261.33 25.55 L261.92 25.54 L262.52 25.53 L263.11 25.52 L263.70 25.52 L264.30 25.51 L264.89 25.50 L265.48 25.49 L266.08 25.49 L266.67 25.48 L267.27 25.47 L267.86 25.46 L268.45 25.45 L269.05 25.45 L269.64 25.44 L270.23 25.43 L270.83 25.42 L271.42 25.42 L272.02 25.41 L272.61 25.40 L273.20 25.39 L273.80 25.39 L274.39 25.38 L274.98 25.37 L275.58 25.37 L276.17 25.36 L276.77 25.35 L277.36 25.34 L277.95 25.34 L278.55 25.33 L279.14 25.32 L279.73 25.32 L280.33 25.31 L280.92 25.30 L281.51 25.30 L282.11 25.29 L282.70 25.28 L283.30 25.28 L283.89 25.27 L284.48 25.26 L285.08 25.26 L285.67 25.25 L286.26 25.25 L286.86 25.24 L287.45 25.23 L288.05 25.23 L288.64 25.22 L289.23 25.22 L289.83 25.21 L290.42 25.20 L291.01 25.20 L291.61 25.19 L292.20 25.19 L292.80 25.18 L293.39 25.18 L293.98 25.17 L294.58 25.17 L295.17 25.16 L295.76 25.16 L296.36 25.15 L296.95 25.15 L297.55 25.14 L298.14 25.14 L298.73 25.13 L299.33 25.13 L299.92 25.12 L300.51 25.12 L301.11 25.11 L301.70 25.11 L302.29 25.11 L302.89 25.10 L303.48 25.10 L304.08 25.09 L304.67 25.09 L305.26 25.09 L305.86 25.08 L306.45 25.08 L307.04 25.08 L307.64 25.07 L308.23 25.07 L308.83 25.07 L309.42 25.06 L310.01 25.06 L310.61 25.06 L311.20 25.05 L311.79 25.05 L312.39 25.05 L312.98 25.05 L313.58 25.04 L314.17 25.04 L314.76 25.04 L315.36 25.04 L315.95 25.04 L316.54 25.03 L317.14 25.03 L317.73 25.03 L318.33 25.03 L318.92 25.03 L319.51 25.03 L320.11 25.03 L320.70 25.02 L321.29 25.02 L321.89 25.02 L322.48 25.02 L323.08 25.02 L323.67 25.02 L324.26 25.02 L324.86 25.02 L325.45 25.02" stroke="#f07a2c" stroke-width="1.05" fill="none"/>
<path d="M207.30 147.48 L207.89 147.48 L208.49 147.48 L209.08 147.48 L209.67 147.48 L210.27 147.48 L210.86 147.48 L211.46 147.48 L212.05 147.48 L212.64 147.46 L213.24 147.41 L213.83 147.31 L214.42 147.15 L215.02 146.90 L215.61 146.54 L216.21 146.04 L216.80 145.37 L217.39 144.50 L217.99 143.42 L218.58 142.10 L219.17 140.47 L219.77 138.43 L220.36 135.84 L220.96 132.58 L221.55 128.54 L222.14 123.66 L222.74 117.90 L223.33 111.26 L223.92 103.88 L224.52 96.13 L225.11 88.47 L225.71 81.29 L226.30 74.76 L226.89 68.77 L227.49 63.10 L228.08 57.57 L228.67 52.28 L229.27 47.41 L229.86 43.16 L230.46 39.60 L231.05 36.71 L231.64 34.39 L232.24 32.54 L232.83 31.06 L233.42 29.87 L234.02 28.94 L234.61 28.23 L235.20 27.69 L235.80 27.25 L236.39 26.88 L236.99 26.56 L237.58 26.27 L238.17 26.01 L238.77 25.78 L239.36 25.59 L239.95 25.42 L240.55 25.28 L241.14 25.17 L241.74 25.08 L242.33 25.01 L242.92 24.96 L243.52 24.91 L244.11 24.86 L244.70 24.82 L245.30 24.78 L245.89 24.74 L246.49 24.70 L247.08 24.67 L247.67 24.63 L248.27 24.60 L248.86 24.57 L249.45 24.54 L250.05 24.51 L250.64 24.48 L251.24 24.45 L251.83 24.43 L252.42 24.40 L253.02 24.38 L253.61 24.36 L254.20 24.34 L254.80 24.32 L255.39 24.30 L255.98 24.28 L256.58 24.26 L257.17 24.25 L257.77 24.23 L258.36 24.22 L258.95 24.21 L259.55 24.19 L260.14 24.18 L260.73 24.17 L261.33 24.16 L261.92 24.15 L262.52 24.14 L263.11 24.13 L263.70 24.12 L264.30 24.11 L264.89 24.10 L265.48 24.10 L266.08 24.09 L266.67 24.08 L267.27 24.07 L267.86 24.07 L268.45 24.06 L269.05 24.05 L269.64 24.05 L270.23 24.04 L270.83 24.03 L271.42 24.03 L272.02 24.02 L272.61 24.01 L273.20 24.01 L273.80 24.00 L274.39 23.99 L274.98 23.99 L275.58 23.98 L276.17 23.98 L276.77 23.97 L277.36 23.96 L277.95 23.96 L278.55 23.95 L279.14 23.95 L279.73 23.94 L280.33 23.93 L280.92 23.93 L281.51 23.92 L282.11 23.92 L282.70 23.91 L283.30 23.91 L283.89 23.90 L284.48 23.90 L285.08 23.89 L285.67 23.89 L286.26 23.88 L286.86 23.88 L287.45 23.87 L288.05 23.87 L288.64 23.86 L289.23 23.86 L289.83 23.85 L290.42 23.85 L291.01 23.85 L291.61 23.84 L292.20 23.84 L292.80 23.83 L293.39 23.83 L293.98 23.82 L294.58 23.82 L295.17 23.82 L295.76 23.81 L296.36 23.81 L296.95 23.81 L297.55 23.80 L298.14 23.80 L298.73 23.79 L299.33 23.79 L299.92 23.79 L300.51 23.78 L301.11 23.78 L301.70 23.78 L302.29 23.78 L302.89 23.77 L303.48 23.77 L304.08 23.77 L304.67 23.76 L305.26 23.76 L305.86 23.76 L306.45 23.76 L307.04 23.75 L307.64 23.75 L308.23 23.75 L308.83 23.75 L309.42 23.74 L310.01 23.74 L310.61 23.74 L311.20 23.74 L311.79 23.74 L312.39 23.74 L312.98 23.73 L313.58 23.73 L314.17 23.73 L314.76 23.73 L315.36 23.73 L315.95 23.73 L316.54 23.72 L317.14 23.72 L317.73 23.72 L318.33 23.72 L318.92 23.72 L319.51 23.72 L320.11 23.72 L320.70 23.72 L321.29 23.72 L321.89 23.72 L322.48 23.72 L323.08 23.72 L323.67 23.72 L324.26 23.72 L324.86 23.72 L325.45 23.72" stroke="#e2dc2a" stroke-width="1.05" fill="none"/>
<path d="M207.30 155.54 L207.89 155.18 L208.49 154.70 L209.08 154.03 L209.67 153.08 L210.27 151.81 L210.86 150.26 L211.46 148.47 L212.05 146.49 L212.64 144.37 L213.24 142.10 L213.83 139.65 L214.42 137.00 L215.02 134.14 L215.61 131.04 L216.21 127.68 L216.80 124.03 L217.39 120.12 L217.99 116.07 L218.58 112.05 L219.17 108.24 L219.77 104.70 L220.36 101.35 L220.96 98.04 L221.55 94.64 L222.14 91.11 L222.74 87.51 L223.33 83.97 L223.92 80.60 L224.52 77.48 L225.11 74.62 L225.71 72.03 L226.30 69.70 L226.89 67.65 L227.49 65.87 L228.08 64.32 L228.67 62.90 L229.27 61.53 L229.86 60.14 L230.46 58.68 L231.05 57.17 L231.64 55.65 L232.24 54.16 L232.83 52.73 L233.42 51.42 L234.02 50.25 L234.61 49.22 L235.20 48.32 L235.80 47.50 L236.39 46.75 L236.99 46.06 L237.58 45.40 L238.17 44.79 L238.77 44.22 L239.36 43.68 L239.95 43.18 L240.55 42.71 L241.14 42.27 L241.74 41.86 L242.33 41.47 L242.92 41.10 L243.52 40.75 L244.11 40.42 L244.70 40.09 L245.30 39.79 L245.89 39.49 L246.49 39.21 L247.08 38.93 L247.67 38.67 L248.27 38.42 L248.86 38.18 L249.45 37.94 L250.05 37.72 L250.64 37.50 L251.24 37.29 L251.83 37.08 L252.42 36.89 L253.02 36.69 L253.61 36.51 L254.20 36.33 L254.80 36.15 L255.39 35.98 L255.98 35.82 L256.58 35.65 L257.17 35.50 L257.77 35.34 L258.36 35.20 L258.95 35.05 L259.55 34.91 L260.14 34.77 L260.73 34.63 L261.33 34.50 L261.92 34.37 L262.52 34.24 L263.11 34.11 L263.70 33.99 L264.30 33.86 L264.89 33.74 L265.48 33.62 L266.08 33.49 L266.67 33.37 L267.27 33.26 L267.86 33.14 L268.45 33.02 L269.05 32.91 L269.64 32.79 L270.23 32.68 L270.83 32.57 L271.42 32.46 L272.02 32.36 L272.61 32.25 L273.20 32.15 L273.80 32.04 L274.39 31.94 L274.98 31.84 L275.58 31.74 L276.17 31.64 L276.77 31.54 L277.36 31.44 L277.95 31.35 L278.55 31.25 L279.14 31.16 L279.73 31.06 L280.33 30.97 L280.92 30.88 L281.51 30.79 L282.11 30.70 L282.70 30.61 L283.30 30.52 L283.89 30.43 L284.48 30.34 L285.08 30.25 L285.67 30.16 L286.26 30.07 L286.86 29.98 L287.45 29.89 L288.05 29.81 L288.64 29.72 L289.23 29.63 L289.83 29.54 L290.42 29.46 L291.01 29.37 L291.61 29.29 L292.20 29.20 L292.80 29.12 L293.39 29.04 L293.98 28.96 L294.58 28.88 L295.17 28.80 L295.76 28.73 L296.36 28.65 L296.95 28.58 L297.55 28.51 L298.14 28.44 L298.73 28.37 L299.33 28.31 L299.92 28.25 L300.51 28.19 L301.11 28.13 L301.70 28.08 L302.29 28.02 L302.89 27.97 L303.48 27.92 L304.08 27.87 L304.67 27.82 L305.26 27.77 L305.86 27.73 L306.45 27.68 L307.04 27.63 L307.64 27.58 L308.23 27.54 L308.83 27.49 L309.42 27.45 L310.01 27.40 L310.61 27.36 L311.20 27.32 L311.79 27.28 L312.39 27.23 L312.98 27.19 L313.58 27.15 L314.17 27.12 L314.76 27.08 L315.36 27.04 L315.95 27.01 L316.54 26.97 L317.14 26.94 L317.73 26.91 L318.33 26.88 L318.92 26.85 L319.51 26.82 L320.11 26.79 L320.70 26.76 L321.29 26.74 L321.89 26.72 L322.48 26.69 L323.08 26.67 L323.67 26.65 L324.26 26.64 L324.86 26.62 L325.45 26.60" stroke="#a3192e" stroke-width="1.05" fill="none"/>
<line x1="207.30" y1="155.50" x2="207.30" y2="15.70" stroke="#5a5a5a" stroke-width="0.85"/>
<line x1="207.30" y1="155.50" x2="334.80" y2="155.50" stroke="#5a5a5a" stroke-width="0.85"/>
<line x1="204.10" y1="155.50" x2="207.30" y2="155.50" stroke="#5a5a5a" stroke-width="0.85"/>
<text x="199.85000000000002" y="158.2" font-size="7.6" fill="#444" text-anchor="end">0</text>
<line x1="204.10" y1="108.90" x2="207.30" y2="108.90" stroke="#5a5a5a" stroke-width="0.85"/>
<text x="199.85000000000002" y="111.60000000000001" font-size="7.6" fill="#444" text-anchor="end">0.5</text>
<line x1="204.10" y1="62.30" x2="207.30" y2="62.30" stroke="#5a5a5a" stroke-width="0.85"/>
<text x="199.85000000000002" y="65.0" font-size="7.6" fill="#444" text-anchor="end">1.0</text>
<line x1="204.10" y1="15.70" x2="207.30" y2="15.70" stroke="#5a5a5a" stroke-width="0.85"/>
<text x="199.85000000000002" y="18.399999999999988" font-size="7.6" fill="#444" text-anchor="end">1.5</text>
<line x1="207.30" y1="155.50" x2="207.30" y2="158.50" stroke="#5a5a5a" stroke-width="0.85"/>
<text x="207.3" y="168.3" font-size="7.9" fill="#444" text-anchor="middle">0</text>
<line x1="228.55" y1="155.50" x2="228.55" y2="157.10" stroke="#5a5a5a" stroke-width="0.85"/>
<line x1="249.80" y1="155.50" x2="249.80" y2="158.50" stroke="#5a5a5a" stroke-width="0.85"/>
<text x="249.8" y="168.3" font-size="7.9" fill="#444" text-anchor="middle">0.5</text>
<line x1="271.05" y1="155.50" x2="271.05" y2="157.10" stroke="#5a5a5a" stroke-width="0.85"/>
<line x1="292.30" y1="155.50" x2="292.30" y2="158.50" stroke="#5a5a5a" stroke-width="0.85"/>
<text x="292.3" y="168.3" font-size="7.9" fill="#444" text-anchor="middle">1.0</text>
<line x1="313.55" y1="155.50" x2="313.55" y2="157.10" stroke="#5a5a5a" stroke-width="0.85"/>
<line x1="334.80" y1="155.50" x2="334.80" y2="158.50" stroke="#5a5a5a" stroke-width="0.85"/>
<text x="334.8" y="168.3" font-size="7.9" fill="#444" text-anchor="middle">1.5</text>
<path d="M224.30 79.05 L225.03 75.04 L225.76 71.80 L226.48 69.75 L227.21 67.86 L227.94 65.57 L228.67 63.80 L229.39 62.06 L230.12 61.36 L230.85 59.75 L231.58 57.31 L232.30 55.74 L233.03 53.75 L233.76 52.43 L234.49 51.52 L235.22 50.45 L235.94 48.40 L236.67 48.58 L237.40 47.94 L238.13 47.31 L238.85 46.15 L239.58 45.49 L240.31 45.08 L241.04 44.42 L241.76 43.79 L242.49 43.16 L243.22 42.57 L243.95 42.48 L244.68 42.83 L245.40 41.52 L246.13 41.95 L246.86 41.15 L247.59 41.31 L248.31 40.45 L249.04 40.44 L249.77 39.79 L250.50 38.37 L251.22 39.36 L251.95 38.78 L252.68 39.35 L253.41 38.73 L254.14 38.15 L254.86 38.22 L255.59 37.84 L256.32 37.74 L257.05 37.96 L257.77 37.18 L258.50 37.51 L259.23 36.34 L259.96 37.05 L260.68 36.44 L261.41 36.53 L262.14 36.02 L262.87 36.44 L263.60 35.69 L264.32 35.95 L265.05 35.28 L265.78 35.37 L266.51 35.40 L267.23 35.60 L267.96 34.88 L268.69 34.85 L269.42 34.28 L270.14 34.89 L270.87 34.41 L271.60 34.29 L272.33 34.25 L273.06 34.14 L273.78 34.03 L274.51 34.19 L275.24 34.22 L275.97 33.87 L276.69 33.38 L277.42 32.92 L278.15 33.00 L278.88 32.86 L279.61 32.84 L280.33 32.76 L281.06 32.84 L281.79 32.51 L282.52 32.02 L283.24 32.70 L283.97 32.73 L284.70 31.63 L285.43 32.16 L286.15 31.78 L286.88 31.70 L287.61 32.34 L288.34 30.91 L289.07 31.04 L289.79 31.53 L290.52 31.21 L291.25 31.34 L291.98 31.61 L292.70 31.22 L293.43 30.94 L294.16 30.57 L294.89 30.62 L295.61 30.77 L296.34 30.20 L297.07 30.90 L297.80 30.23 L298.53 30.03 L299.25 30.48 L299.98 30.96 L300.71 30.56 L301.44 30.06 L302.16 29.89 L302.89 29.44 L303.62 30.33 L304.35 29.90 L305.07 29.60 L305.80 29.84 L306.53 30.61 L307.26 29.36 L307.99 28.75 L308.71 29.18 L309.44 29.84 L310.17 29.60 L310.90 29.31 L311.62 28.41 L312.35 29.06 L313.08 29.20 L313.81 28.61 L314.53 29.17 L315.26 28.40 L315.99 29.31 L316.72 29.19 L317.45 28.70 L318.17 28.40 L318.90 28.65 L319.63 28.75 L320.36 29.51 L321.08 29.06 L321.81 29.00 L322.54 28.94 L323.27 28.50 L323.99 28.82 L324.72 28.38 L325.45 28.62" stroke="#b4324a" stroke-width="0.7" fill="none" stroke-opacity="0.85"/>
<line x1="266.80" y1="121.10" x2="276.40" y2="121.10" stroke="#dba0aa" stroke-width="1.6"/>
<circle cx="271.6" cy="121.1" r="0.7" fill="#a3192e"/>
<text x="280.2" y="123.69999999999999" font-size="7.1" fill="#3a3a3a">SNAP-tag2 (TF)</text>
<line x1="266.80" y1="129.47" x2="276.40" y2="129.47" stroke="#eeea70" stroke-width="0.9"/>
<circle cx="271.6" cy="129.47" r="0.7" fill="#e2dc2a"/>
<text x="280.2" y="132.07" font-size="7.1" fill="#3a3a3a">SNAP-tag2 (CF)</text>
<line x1="266.80" y1="137.84" x2="276.40" y2="137.84" stroke="#f8c4a4" stroke-width="1.6"/>
<circle cx="271.6" cy="137.84" r="0.7" fill="#f07a2c"/>
<text x="280.2" y="140.44" font-size="7.1" fill="#3a3a3a">SNAP-tag2 (CP)</text>
<line x1="266.80" y1="146.21" x2="276.40" y2="146.21" stroke="#a0a0a0" stroke-width="0.9"/>
<circle cx="271.6" cy="146.20999999999998" r="0.7" fill="#4d4d4d"/>
<text x="280.2" y="148.80999999999997" font-size="7.1" fill="#3a3a3a">SNAP<tspan font-size="5" dy="1.8">f</tspan><tspan dy="-1.8">-tag (CP)</tspan></text>
<path d="M386.10 154.01 L386.90 153.97 L387.69 153.92 L388.49 153.87 L389.28 153.81 L390.08 153.76 L390.87 153.70 L391.67 153.64 L392.46 153.58 L393.25 153.52 L394.05 153.45 L394.85 153.38 L395.64 153.31 L396.44 153.24 L397.23 153.16 L398.03 153.09 L398.82 153.01 L399.62 152.93 L400.41 152.84 L401.21 152.76 L402.00 152.67 L402.80 152.58 L403.59 152.49 L404.38 152.40 L405.18 152.31 L405.98 152.21 L406.77 152.12 L407.56 152.02 L408.36 151.92 L409.16 151.82 L409.95 151.72 L410.75 151.61 L411.54 151.50 L412.34 151.39 L413.13 151.28 L413.93 151.15 L414.72 151.03 L415.52 150.90 L416.31 150.77 L417.11 150.63 L417.90 150.49 L418.70 150.34 L419.49 150.19 L420.29 150.04 L421.08 149.89 L421.88 149.73 L422.67 149.57 L423.47 149.41 L424.26 149.24 L425.06 149.08 L425.85 148.91 L426.65 148.74 L427.44 148.57 L428.24 148.40 L429.03 148.23 L429.83 148.05 L430.62 147.88 L431.42 147.71 L432.21 147.54 L433.00 147.37 L433.80 147.20 L434.60 147.03 L435.39 146.87 L436.19 146.70 L436.98 146.54 L437.78 146.38 L438.57 146.22 L439.37 146.06 L440.16 145.90 L440.96 145.75 L441.75 145.59 L442.55 145.44 L443.34 145.29 L444.13 145.14 L444.93 144.98 L445.73 144.83 L446.52 144.68 L447.31 144.53 L448.11 144.38 L448.91 144.22 L449.70 144.07 L450.50 143.92 L451.29 143.77 L452.09 143.62 L452.88 143.47 L453.68 143.32 L454.47 143.17 L455.26 143.02 L456.06 142.87 L456.86 142.72 L457.65 142.57 L458.44 142.42 L459.24 142.27 L460.04 142.12 L460.83 141.98 L461.62 141.83 L462.42 141.68 L463.22 141.53 L464.01 141.38 L464.81 141.24 L465.60 141.09 L466.40 140.95 L467.19 140.80 L467.99 140.65 L468.78 140.51 L469.58 140.36 L470.37 140.22 L471.17 140.07 L471.96 139.93 L472.75 139.79 L473.55 139.64 L474.35 139.50 L475.14 139.36 L475.94 139.21 L476.73 139.07 L477.52 138.93 L478.32 138.79 L479.12 138.64 L479.91 138.50 L480.71 138.36 L481.50 138.22 L482.30 138.08 L483.09 137.94 L483.88 137.79 L484.68 137.65 L485.48 137.51 L486.27 137.37 L487.06 137.23 L487.86 137.09 L488.66 136.95 L489.45 136.81 L490.25 136.67 L491.04 136.53 L491.84 136.40 L492.63 136.26 L493.43 136.12 L494.22 135.98 L495.01 135.84 L495.81 135.70 L496.61 135.57 L497.40 135.43 L498.20 135.29 L498.99 135.15 L499.79 135.02 L500.58 134.88 L501.38 134.75 L502.17 134.61 L502.97 134.47 L503.76 134.34 L504.56 134.20 L505.35 134.07 L506.15 133.93 L506.94 133.80 L507.74 133.66 L508.53 133.53 L509.33 133.40 L510.12 133.26 L510.92 133.13 L511.71 133.00 L512.50 132.86" stroke="#a5a5a5" stroke-width="2.50" stroke-opacity="0.22" fill="none" stroke-linecap="round"/>
<path d="M386.1 152.9V155.0M386.7 152.0V154.6M387.4 153.5V154.7M388.0 152.4V155.6M388.7 152.1V155.7M389.3 152.3V154.5M390.0 152.1V154.8M390.6 153.5V155.0M391.3 153.2V155.6M391.9 153.0V155.9M392.6 152.2V155.2M393.2 152.4V155.0M393.9 151.9V155.1M394.5 152.1V154.4M395.2 152.1V155.0M395.8 152.7V156.1M396.5 152.9V155.1M397.1 150.8V154.3M397.8 152.2V153.7M398.4 152.4V154.0M399.1 151.1V153.7M399.7 152.1V154.0M400.4 152.4V154.4M401.0 151.5V154.1M401.7 152.3V155.2M402.3 151.5V155.0M403.0 150.1V152.9M403.6 153.1V154.6M404.3 149.8V153.2M404.9 152.2V154.7M405.5 150.8V153.9M406.2 151.3V153.8M406.8 150.5V153.8M407.5 150.0V153.6M408.1 150.0V152.2M408.8 150.6V152.1M409.4 150.4V153.7M410.1 150.2V151.4M410.7 150.3V153.2M411.4 150.7V152.6M412.0 149.1V151.5M412.7 150.6V154.2M413.3 150.0V152.6M414.0 150.3V151.5M414.6 149.5V152.2M415.3 149.7V151.2M415.9 148.8V150.7M416.6 148.7V152.2M417.2 149.0V151.3M417.9 149.6V152.0M418.5 149.6V152.1M419.2 149.5V152.2M419.8 148.4V150.6M420.5 148.8V151.7M421.1 148.1V151.6M421.8 148.1V150.5M422.4 148.6V150.8M423.0 148.2V150.8M423.7 147.2V149.9M424.3 148.5V149.8M425.0 148.1V150.9M425.6 148.4V150.4M426.3 148.5V149.6M426.9 148.9V150.2M427.6 148.3V150.0M428.2 148.5V150.8M428.9 147.7V149.7M429.5 147.4V149.3M430.2 147.6V149.4M430.8 146.3V148.3M431.5 146.4V148.9M432.1 146.2V149.2M432.8 146.0V149.1M433.4 146.1V147.8M434.1 145.5V148.3M434.7 145.8V147.1M435.4 145.5V148.7M436.0 145.2V147.4M436.7 145.4V147.4M437.3 145.4V148.1M438.0 145.0V146.7M438.6 145.9V147.3M439.3 144.9V148.0M439.9 144.4V147.6M440.6 144.1V147.2M441.2 143.9V146.6M441.8 144.7V146.1M442.5 145.0V146.9M443.1 144.2V146.2M443.8 144.5V146.7M444.4 143.9V147.3M445.1 143.9V145.4M445.7 141.8V145.2M446.4 142.9V146.5M447.0 144.1V147.5M447.7 143.1V144.7M448.3 143.0V145.7M449.0 144.1V146.5M449.6 143.4V145.1M450.3 142.8V144.1M450.9 142.7V145.8M451.6 143.3V144.6M452.2 141.2V144.6M452.9 142.3V145.6M453.5 142.2V143.3M454.2 142.2V145.1M454.8 141.5V144.3M455.5 141.4V143.8M456.1 142.7V145.3M456.8 141.1V143.0M457.4 141.5V143.8M458.1 139.9V142.9M458.7 141.4V143.8M459.4 140.4V143.5M460.0 140.0V143.4M460.6 139.6V142.7M461.3 140.5V143.2M461.9 140.2V143.5M462.6 140.3V142.1M463.2 140.2V142.6M463.9 140.4V143.5M464.5 140.4V141.6M465.2 140.2V141.6M465.8 140.3V141.6M466.5 139.2V140.5M467.1 139.8V142.2M467.8 139.9V141.9M468.4 138.8V141.5M469.1 140.1V141.7M469.7 139.6V141.6M470.4 138.3V141.2M471.0 138.6V140.6M471.7 138.7V140.7M472.3 138.4V141.0M473.0 138.1V141.2M473.6 138.8V141.5M474.3 138.8V141.2M474.9 137.7V140.6M475.6 138.9V141.2M476.2 137.9V139.6M476.9 139.2V140.5M477.5 138.0V140.2M478.1 138.1V141.6M478.8 137.2V139.2M479.4 136.9V138.7M480.1 137.9V140.2M480.7 136.2V139.0M481.4 135.9V139.2M482.0 136.4V139.4M482.7 137.5V140.1M483.3 136.7V137.9M484.0 136.6V138.1M484.6 137.0V138.3M485.3 137.0V138.4M485.9 136.6V137.8M486.6 135.9V139.2M487.2 135.0V137.8M487.9 134.7V138.0M488.5 134.7V137.8M489.2 136.5V137.7M489.8 135.2V138.1M490.5 136.6V138.0M491.1 135.9V137.2M491.8 136.7V138.7M492.4 136.4V138.1M493.1 135.8V137.4M493.7 134.6V137.6M494.4 134.1V136.2M495.0 135.2V137.2M495.7 134.2V136.4M496.3 133.3V136.8M496.9 134.1V136.3M497.6 134.0V136.8M498.2 134.1V137.1M498.9 134.3V136.6M499.5 134.3V137.0M500.2 134.0V135.4M500.8 133.5V136.5M501.5 133.0V135.3M502.1 133.5V136.4M502.8 133.5V135.1M503.4 132.7V135.3M504.1 133.0V135.9M504.7 132.1V135.6M505.4 133.2V135.4M506.0 131.5V134.7M506.7 133.4V135.0M507.3 133.4V134.5M508.0 133.4V134.9M508.6 132.4V134.5M509.3 133.1V134.6M509.9 130.6V134.2M510.6 132.8V135.1M511.2 131.4V134.6M511.9 131.5V133.8M512.5 132.0V135.0" stroke="#a5a5a5" stroke-width="0.5" stroke-opacity="0.45" fill="none"/>
<path d="M385.4 154.0h1.4M386.0 153.3h1.4M386.7 154.1h1.4M387.3 154.0h1.4M388.0 153.9h1.4M388.6 153.4h1.4M389.3 153.4h1.4M389.9 154.3h1.4M390.6 154.4h1.4M391.2 154.5h1.4M391.9 153.7h1.4M392.5 153.7h1.4M393.2 153.5h1.4M393.8 153.3h1.4M394.5 153.6h1.4M395.1 154.4h1.4M395.8 154.0h1.4M396.4 152.6h1.4M397.1 152.9h1.4M397.7 153.2h1.4M398.4 152.4h1.4M399.0 153.0h1.4M399.7 153.4h1.4M400.3 152.8h1.4M401.0 153.7h1.4M401.6 153.2h1.4M402.3 151.5h1.4M402.9 153.8h1.4M403.6 151.5h1.4M404.2 153.4h1.4M404.8 152.4h1.4M405.5 152.6h1.4M406.1 152.2h1.4M406.8 151.8h1.4M407.4 151.1h1.4M408.1 151.3h1.4M408.7 152.0h1.4M409.4 150.8h1.4M410.0 151.7h1.4M410.7 151.6h1.4M411.3 150.3h1.4M412.0 152.4h1.4M412.6 151.3h1.4M413.3 150.9h1.4M413.9 150.9h1.4M414.6 150.4h1.4M415.2 149.8h1.4M415.9 150.4h1.4M416.5 150.2h1.4M417.2 150.8h1.4M417.8 150.8h1.4M418.5 150.8h1.4M419.1 149.5h1.4M419.8 150.3h1.4M420.4 149.8h1.4M421.1 149.3h1.4M421.7 149.7h1.4M422.3 149.5h1.4M423.0 148.6h1.4M423.6 149.1h1.4M424.3 149.5h1.4M424.9 149.4h1.4M425.6 149.1h1.4M426.2 149.6h1.4M426.9 149.2h1.4M427.5 149.7h1.4M428.2 148.7h1.4M428.8 148.4h1.4M429.5 148.5h1.4M430.1 147.3h1.4M430.8 147.7h1.4M431.4 147.7h1.4M432.1 147.6h1.4M432.7 146.9h1.4M433.4 146.9h1.4M434.0 146.5h1.4M434.7 147.1h1.4M435.3 146.3h1.4M436.0 146.4h1.4M436.6 146.7h1.4M437.3 145.9h1.4M437.9 146.6h1.4M438.6 146.4h1.4M439.2 146.0h1.4M439.9 145.6h1.4M440.5 145.3h1.4M441.1 145.4h1.4M441.8 145.9h1.4M442.4 145.2h1.4M443.1 145.6h1.4M443.7 145.6h1.4M444.4 144.7h1.4M445.0 143.5h1.4M445.7 144.7h1.4M446.3 145.8h1.4M447.0 143.9h1.4M447.6 144.4h1.4M448.3 145.3h1.4M448.9 144.2h1.4M449.6 143.5h1.4M450.2 144.2h1.4M450.9 144.0h1.4M451.5 142.9h1.4M452.2 144.0h1.4M452.8 142.8h1.4M453.5 143.7h1.4M454.1 142.9h1.4M454.8 142.6h1.4M455.4 144.0h1.4M456.1 142.1h1.4M456.7 142.6h1.4M457.4 141.4h1.4M458.0 142.6h1.4M458.7 142.0h1.4M459.3 141.7h1.4M459.9 141.1h1.4M460.6 141.9h1.4M461.2 141.8h1.4M461.9 141.2h1.4M462.5 141.4h1.4M463.2 142.0h1.4M463.8 141.0h1.4M464.5 140.9h1.4M465.1 141.0h1.4M465.8 139.9h1.4M466.4 141.0h1.4M467.1 140.9h1.4M467.7 140.1h1.4M468.4 140.9h1.4M469.0 140.6h1.4M469.7 139.7h1.4M470.3 139.6h1.4M471.0 139.7h1.4M471.6 139.7h1.4M472.3 139.6h1.4M472.9 140.2h1.4M473.6 140.0h1.4M474.2 139.2h1.4M474.9 140.0h1.4M475.5 138.8h1.4M476.2 139.9h1.4M476.8 139.1h1.4M477.4 139.8h1.4M478.1 138.2h1.4M478.7 137.8h1.4M479.4 139.1h1.4M480.0 137.6h1.4M480.7 137.5h1.4M481.3 137.9h1.4M482.0 138.8h1.4M482.6 137.3h1.4M483.3 137.3h1.4M483.9 137.6h1.4M484.6 137.7h1.4M485.2 137.2h1.4M485.9 137.6h1.4M486.5 136.4h1.4M487.2 136.4h1.4M487.8 136.3h1.4M488.5 137.1h1.4M489.1 136.7h1.4M489.8 137.3h1.4M490.4 136.5h1.4M491.1 137.7h1.4M491.7 137.3h1.4M492.4 136.6h1.4M493.0 136.1h1.4M493.7 135.2h1.4M494.3 136.2h1.4M495.0 135.3h1.4M495.6 135.1h1.4M496.2 135.2h1.4M496.9 135.4h1.4M497.5 135.6h1.4M498.2 135.5h1.4M498.8 135.7h1.4M499.5 134.7h1.4M500.1 135.0h1.4M500.8 134.1h1.4M501.4 135.0h1.4M502.1 134.3h1.4M502.7 134.0h1.4M503.4 134.4h1.4M504.0 133.8h1.4M504.7 134.3h1.4M505.3 133.1h1.4M506.0 134.2h1.4M506.6 134.0h1.4M507.3 134.2h1.4M507.9 133.4h1.4M508.6 133.8h1.4M509.2 132.4h1.4M509.9 133.9h1.4M510.5 133.0h1.4M511.2 132.7h1.4M511.8 133.5h1.4" stroke="#a5a5a5" stroke-width="0.8" stroke-opacity="0.6" fill="none"/>
<path d="M386.10 153.68 L386.90 153.65 L387.69 153.61 L388.49 153.56 L389.28 153.51 L390.08 153.45 L390.87 153.38 L391.67 153.30 L392.46 153.21 L393.25 153.12 L394.05 153.02 L394.85 152.92 L395.64 152.80 L396.44 152.69 L397.23 152.56 L398.03 152.43 L398.82 152.30 L399.62 152.15 L400.41 151.99 L401.21 151.82 L402.00 151.63 L402.80 151.44 L403.59 151.23 L404.38 151.00 L405.18 150.77 L405.98 150.53 L406.77 150.28 L407.56 150.01 L408.36 149.74 L409.16 149.45 L409.95 149.16 L410.75 148.85 L411.54 148.53 L412.34 148.19 L413.13 147.84 L413.93 147.48 L414.72 147.10 L415.52 146.70 L416.31 146.29 L417.11 145.86 L417.90 145.41 L418.70 144.94 L419.49 144.45 L420.29 143.95 L421.08 143.43 L421.88 142.90 L422.67 142.36 L423.47 141.81 L424.26 141.26 L425.06 140.71 L425.85 140.15 L426.65 139.59 L427.44 139.02 L428.24 138.45 L429.03 137.88 L429.83 137.29 L430.62 136.70 L431.42 136.10 L432.21 135.48 L433.00 134.85 L433.80 134.20 L434.60 133.54 L435.39 132.85 L436.19 132.14 L436.98 131.41 L437.78 130.66 L438.57 129.87 L439.37 129.06 L440.16 128.23 L440.96 127.37 L441.75 126.50 L442.55 125.61 L443.34 124.72 L444.13 123.83 L444.93 122.95 L445.73 122.08 L446.52 121.23 L447.31 120.41 L448.11 119.61 L448.91 118.83 L449.70 118.07 L450.50 117.33 L451.29 116.61 L452.09 115.90 L452.88 115.19 L453.68 114.48 L454.47 113.77 L455.26 113.05 L456.06 112.33 L456.86 111.60 L457.65 110.86 L458.44 110.13 L459.24 109.39 L460.04 108.67 L460.83 107.95 L461.62 107.25 L462.42 106.57 L463.22 105.90 L464.01 105.26 L464.81 104.63 L465.60 104.01 L466.40 103.41 L467.19 102.81 L467.99 102.23 L468.78 101.65 L469.58 101.07 L470.37 100.51 L471.17 99.95 L471.96 99.41 L472.75 98.88 L473.55 98.36 L474.35 97.86 L475.14 97.37 L475.94 96.89 L476.73 96.43 L477.52 95.98 L478.32 95.54 L479.12 95.10 L479.91 94.67 L480.71 94.25 L481.50 93.82 L482.30 93.40 L483.09 92.98 L483.88 92.56 L484.68 92.13 L485.48 91.70 L486.27 91.26 L487.06 90.82 L487.86 90.36 L488.66 89.90 L489.45 89.44 L490.25 88.97 L491.04 88.51 L491.84 88.05 L492.63 87.60 L493.43 87.16 L494.22 86.73 L495.01 86.31 L495.81 85.91 L496.61 85.52 L497.40 85.14 L498.20 84.77 L498.99 84.42 L499.79 84.07 L500.58 83.73 L501.38 83.40 L502.17 83.08 L502.97 82.77 L503.76 82.47 L504.56 82.17 L505.35 81.89 L506.15 81.62 L506.94 81.36 L507.74 81.10 L508.53 80.86 L509.33 80.62 L510.12 80.40 L510.92 80.18 L511.71 79.96 L512.50 79.76" stroke="#c9707c" stroke-width="5.63" stroke-opacity="0.22" fill="none" stroke-linecap="round"/>
<path d="M386.1 149.5V156.1M386.7 150.8V158.7M387.4 152.7V156.5M388.0 150.1V156.7M388.7 151.5V158.8M389.3 154.7V158.6M390.0 151.3V154.8M390.6 149.2V155.6M391.3 149.5V153.4M391.9 151.9V159.3M392.6 150.5V157.1M393.2 150.3V153.3M393.9 148.8V152.9M394.5 149.3V153.8M395.2 153.4V156.0M395.8 151.6V156.0M396.5 152.3V156.0M397.1 149.1V154.9M397.8 148.4V153.9M398.4 151.2V154.3M399.1 151.0V154.1M399.7 146.3V153.8M400.4 147.6V155.4M401.0 149.9V154.5M401.7 149.3V153.5M402.3 150.7V157.0M403.0 150.8V154.8M403.6 149.9V156.7M404.3 146.3V151.8M404.9 149.8V152.9M405.5 148.7V155.2M406.2 147.2V153.6M406.8 148.0V154.1M407.5 147.4V153.4M408.1 145.5V151.7M408.8 145.4V148.5M409.4 146.5V150.8M410.1 146.1V152.7M410.7 147.2V153.4M411.4 147.1V152.1M412.0 147.2V150.1M412.7 144.0V150.5M413.3 144.4V151.0M414.0 146.9V151.5M414.6 143.6V151.0M415.3 144.1V146.8M415.9 144.1V151.0M416.6 143.9V148.4M417.2 143.7V149.3M417.9 140.8V147.6M418.5 145.1V148.2M419.2 140.5V144.5M419.8 140.3V147.1M420.5 140.1V146.7M421.1 140.6V145.5M421.8 138.8V145.5M422.4 138.7V144.5M423.0 142.6V145.9M423.7 139.6V145.1M424.3 137.8V143.5M425.0 137.0V143.9M425.6 138.0V140.6M426.3 135.0V142.8M426.9 139.8V144.5M427.6 137.6V143.7M428.2 135.0V143.0M428.9 134.8V142.1M429.5 136.0V141.2M430.2 137.6V140.1M430.8 134.5V141.3M431.5 134.2V139.6M432.1 134.4V139.5M432.8 133.1V135.8M433.4 130.3V135.6M434.1 132.1V137.7M434.7 130.7V138.6M435.4 128.8V135.8M436.0 129.8V135.8M436.7 128.6V132.4M437.3 129.2V132.2M438.0 131.4V135.7M438.6 126.9V134.3M439.3 125.8V133.1M439.9 126.3V132.1M440.6 122.5V129.2M441.2 125.9V130.3M441.8 121.6V128.9M442.5 126.2V131.2M443.1 123.3V126.4M443.8 124.4V127.2M444.4 121.0V124.4M445.1 119.7V125.0M445.7 120.2V125.0M446.4 119.9V126.1M447.0 117.8V124.6M447.7 116.2V121.0M448.3 114.9V121.4M449.0 113.8V118.3M449.6 116.4V122.2M450.3 114.4V118.2M450.9 112.5V119.4M451.6 114.7V118.0M452.2 114.8V118.5M452.9 113.2V116.7M453.5 114.0V116.6M454.2 112.0V115.1M454.8 111.2V114.1M455.5 110.2V112.8M456.1 110.4V116.9M456.8 109.8V112.6M457.4 110.9V113.6M458.1 105.7V113.7M458.7 107.2V112.4M459.4 107.0V110.4M460.0 108.0V111.2M460.6 107.6V110.4M461.3 104.2V111.2M461.9 105.5V110.6M462.6 103.4V107.3M463.2 104.4V108.4M463.9 102.4V106.8M464.5 105.1V108.2M465.2 102.9V108.8M465.8 105.9V108.4M466.5 101.0V104.5M467.1 101.4V104.1M467.8 96.7V104.3M468.4 99.4V103.0M469.1 96.4V103.4M469.7 97.4V105.1M470.4 98.1V102.3M471.0 97.2V103.1M471.7 97.0V101.1M472.3 95.7V103.0M473.0 95.5V99.9M473.6 94.2V100.6M474.3 93.8V100.5M474.9 94.6V101.2M475.6 92.4V100.1M476.2 96.0V100.5M476.9 93.8V100.7M477.5 92.9V98.1M478.1 92.5V99.0M478.8 91.5V97.4M479.4 92.6V97.9M480.1 94.2V97.6M480.7 91.7V96.9M481.4 90.8V97.6M482.0 91.9V95.7M482.7 90.1V97.4M483.3 90.9V98.3M484.0 92.2V97.3M484.6 88.2V92.6M485.3 90.9V95.5M485.9 86.3V94.1M486.6 88.9V92.0M487.2 89.9V92.8M487.9 87.6V93.7M488.5 88.3V91.6M489.2 86.1V92.2M489.8 87.5V91.3M490.5 85.0V92.9M491.1 85.7V90.6M491.8 82.9V89.8M492.4 86.9V92.4M493.1 87.1V90.6M493.7 83.2V90.3M494.4 84.6V87.7M495.0 80.9V84.5M495.7 81.7V89.2M496.3 82.5V86.2M496.9 81.0V88.1M497.6 83.1V89.9M498.2 82.4V89.8M498.9 83.0V88.0M499.5 81.1V84.2M500.2 79.4V86.5M500.8 83.4V87.1M501.5 81.6V88.2M502.1 82.0V84.9M502.8 82.3V85.2M503.4 78.5V84.1M504.1 79.4V85.6M504.7 80.6V86.5M505.4 77.5V85.6M506.0 78.2V82.6M506.7 80.1V83.8M507.3 79.3V82.7M508.0 75.3V82.7M508.6 77.7V85.8M509.3 80.3V85.9M509.9 80.1V85.0M510.6 73.5V81.4M511.2 78.4V83.7M511.9 75.7V83.8M512.5 77.3V85.0" stroke="#c9707c" stroke-width="0.5" stroke-opacity="0.45" fill="none"/>
<path d="M385.4 152.8h1.4M386.0 154.8h1.4M386.7 154.6h1.4M387.3 153.4h1.4M388.0 155.1h1.4M388.6 156.6h1.4M389.3 153.1h1.4M389.9 152.4h1.4M390.6 151.5h1.4M391.2 155.6h1.4M391.9 153.8h1.4M392.5 151.8h1.4M393.2 150.8h1.4M393.8 151.5h1.4M394.5 154.7h1.4M395.1 153.8h1.4M395.8 154.2h1.4M396.4 152.0h1.4M397.1 151.1h1.4M397.7 152.8h1.4M398.4 152.6h1.4M399.0 150.1h1.4M399.7 151.5h1.4M400.3 152.2h1.4M401.0 151.4h1.4M401.6 153.9h1.4M402.3 152.8h1.4M402.9 153.3h1.4M403.6 149.0h1.4M404.2 151.4h1.4M404.8 152.0h1.4M405.5 150.4h1.4M406.1 151.1h1.4M406.8 150.4h1.4M407.4 148.6h1.4M408.1 147.0h1.4M408.7 148.7h1.4M409.4 149.4h1.4M410.0 150.3h1.4M410.7 149.6h1.4M411.3 148.7h1.4M412.0 147.2h1.4M412.6 147.7h1.4M413.3 149.2h1.4M413.9 147.3h1.4M414.6 145.5h1.4M415.2 147.5h1.4M415.9 146.2h1.4M416.5 146.5h1.4M417.2 144.2h1.4M417.8 146.7h1.4M418.5 142.5h1.4M419.1 143.7h1.4M419.8 143.4h1.4M420.4 143.1h1.4M421.1 142.2h1.4M421.7 141.6h1.4M422.3 144.2h1.4M423.0 142.4h1.4M423.6 140.7h1.4M424.3 140.4h1.4M424.9 139.3h1.4M425.6 138.9h1.4M426.2 142.1h1.4M426.9 140.7h1.4M427.5 139.0h1.4M428.2 138.4h1.4M428.8 138.6h1.4M429.5 138.8h1.4M430.1 137.9h1.4M430.8 136.9h1.4M431.4 136.9h1.4M432.1 134.4h1.4M432.7 132.9h1.4M433.4 134.9h1.4M434.0 134.6h1.4M434.7 132.3h1.4M435.3 132.8h1.4M436.0 130.5h1.4M436.6 130.7h1.4M437.3 133.6h1.4M437.9 130.6h1.4M438.6 129.4h1.4M439.2 129.2h1.4M439.9 125.8h1.4M440.5 128.1h1.4M441.1 125.3h1.4M441.8 128.7h1.4M442.4 124.9h1.4M443.1 125.8h1.4M443.7 122.7h1.4M444.4 122.3h1.4M445.0 122.6h1.4M445.7 123.0h1.4M446.3 121.2h1.4M447.0 118.6h1.4M447.6 118.1h1.4M448.3 116.1h1.4M448.9 119.3h1.4M449.6 116.3h1.4M450.2 116.0h1.4M450.9 116.3h1.4M451.5 116.7h1.4M452.2 115.0h1.4M452.8 115.3h1.4M453.5 113.6h1.4M454.1 112.7h1.4M454.8 111.5h1.4M455.4 113.6h1.4M456.1 111.2h1.4M456.7 112.2h1.4M457.4 109.7h1.4M458.0 109.8h1.4M458.7 108.7h1.4M459.3 109.6h1.4M459.9 109.0h1.4M460.6 107.7h1.4M461.2 108.1h1.4M461.9 105.4h1.4M462.5 106.4h1.4M463.2 104.6h1.4M463.8 106.6h1.4M464.5 105.8h1.4M465.1 107.2h1.4M465.8 102.7h1.4M466.4 102.7h1.4M467.1 100.5h1.4M467.7 101.2h1.4M468.4 99.9h1.4M469.0 101.2h1.4M469.7 100.2h1.4M470.3 100.2h1.4M471.0 99.0h1.4M471.6 99.4h1.4M472.3 97.7h1.4M472.9 97.4h1.4M473.6 97.1h1.4M474.2 97.9h1.4M474.9 96.2h1.4M475.5 98.3h1.4M476.2 97.2h1.4M476.8 95.5h1.4M477.4 95.7h1.4M478.1 94.4h1.4M478.7 95.3h1.4M479.4 95.9h1.4M480.0 94.3h1.4M480.7 94.2h1.4M481.3 93.8h1.4M482.0 93.8h1.4M482.6 94.6h1.4M483.3 94.7h1.4M483.9 90.4h1.4M484.6 93.2h1.4M485.2 90.2h1.4M485.9 90.5h1.4M486.5 91.3h1.4M487.2 90.6h1.4M487.8 90.0h1.4M488.5 89.2h1.4M489.1 89.4h1.4M489.8 88.9h1.4M490.4 88.1h1.4M491.1 86.3h1.4M491.7 89.7h1.4M492.4 88.9h1.4M493.0 86.8h1.4M493.7 86.1h1.4M494.3 82.7h1.4M495.0 85.4h1.4M495.6 84.3h1.4M496.2 84.6h1.4M496.9 86.5h1.4M497.5 86.1h1.4M498.2 85.5h1.4M498.8 82.6h1.4M499.5 82.9h1.4M500.1 85.2h1.4M500.8 84.9h1.4M501.4 83.5h1.4M502.1 83.7h1.4M502.7 81.3h1.4M503.4 82.5h1.4M504.0 83.6h1.4M504.7 81.6h1.4M505.3 80.4h1.4M506.0 82.0h1.4M506.6 81.0h1.4M507.3 79.0h1.4M507.9 81.8h1.4M508.6 83.1h1.4M509.2 82.5h1.4M509.9 77.4h1.4M510.5 81.1h1.4M511.2 79.7h1.4M511.8 81.2h1.4" stroke="#c9707c" stroke-width="0.8" stroke-opacity="0.6" fill="none"/>
<path d="M386.10 152.35 L386.90 152.32 L387.69 152.27 L388.49 152.22 L389.28 152.15 L390.08 152.08 L390.87 151.99 L391.67 151.89 L392.46 151.78 L393.25 151.65 L394.05 151.50 L394.85 151.33 L395.64 151.14 L396.44 150.91 L397.23 150.65 L398.03 150.34 L398.82 149.99 L399.62 149.57 L400.41 149.09 L401.21 148.55 L402.00 147.94 L402.80 147.27 L403.59 146.56 L404.38 145.79 L405.18 144.98 L405.98 144.14 L406.77 143.25 L407.56 142.31 L408.36 141.31 L409.16 140.23 L409.95 139.06 L410.75 137.78 L411.54 136.40 L412.34 134.92 L413.13 133.35 L413.93 131.71 L414.72 130.00 L415.52 128.25 L416.31 126.47 L417.11 124.69 L417.90 122.92 L418.70 121.17 L419.49 119.44 L420.29 117.75 L421.08 116.10 L421.88 114.47 L422.67 112.87 L423.47 111.28 L424.26 109.69 L425.06 108.09 L425.85 106.46 L426.65 104.78 L427.44 103.03 L428.24 101.19 L429.03 99.27 L429.83 97.27 L430.62 95.22 L431.42 93.16 L432.21 91.13 L433.00 89.16 L433.80 87.30 L434.60 85.55 L435.39 83.92 L436.19 82.41 L436.98 80.99 L437.78 79.67 L438.57 78.42 L439.37 77.24 L440.16 76.12 L440.96 75.05 L441.75 74.02 L442.55 73.04 L443.34 72.10 L444.13 71.18 L444.93 70.29 L445.73 69.41 L446.52 68.55 L447.31 67.69 L448.11 66.85 L448.91 66.01 L449.70 65.20 L450.50 64.40 L451.29 63.64 L452.09 62.90 L452.88 62.20 L453.68 61.54 L454.47 60.91 L455.26 60.31 L456.06 59.74 L456.86 59.20 L457.65 58.68 L458.44 58.18 L459.24 57.70 L460.04 57.24 L460.83 56.79 L461.62 56.37 L462.42 55.96 L463.22 55.58 L464.01 55.21 L464.81 54.86 L465.60 54.52 L466.40 54.21 L467.19 53.90 L467.99 53.61 L468.78 53.32 L469.58 53.05 L470.37 52.78 L471.17 52.53 L471.96 52.27 L472.75 52.03 L473.55 51.79 L474.35 51.56 L475.14 51.34 L475.94 51.12 L476.73 50.91 L477.52 50.71 L478.32 50.52 L479.12 50.33 L479.91 50.15 L480.71 49.98 L481.50 49.82 L482.30 49.66 L483.09 49.51 L483.88 49.37 L484.68 49.23 L485.48 49.10 L486.27 48.97 L487.06 48.85 L487.86 48.73 L488.66 48.61 L489.45 48.50 L490.25 48.38 L491.04 48.27 L491.84 48.16 L492.63 48.05 L493.43 47.94 L494.22 47.84 L495.01 47.74 L495.81 47.64 L496.61 47.54 L497.40 47.44 L498.20 47.35 L498.99 47.26 L499.79 47.17 L500.58 47.09 L501.38 47.01 L502.17 46.94 L502.97 46.87 L503.76 46.80 L504.56 46.74 L505.35 46.68 L506.15 46.63 L506.94 46.59 L507.74 46.54 L508.53 46.51 L509.33 46.48 L510.12 46.45 L510.92 46.43 L511.71 46.41 L512.50 46.39" stroke="#f6a87c" stroke-width="6.25" stroke-opacity="0.22" fill="none" stroke-linecap="round"/>
<path d="M386.1 151.2V155.2M386.7 147.5V150.9M387.4 149.5V155.5M388.0 150.0V156.8M388.7 147.7V152.2M389.3 148.8V154.3M390.0 149.6V157.1M390.6 147.8V152.4M391.3 148.3V153.7M391.9 149.5V152.8M392.6 146.8V154.0M393.2 145.3V154.2M393.9 146.2V151.3M394.5 149.9V153.7M395.2 148.8V154.9M395.8 146.6V152.7M396.5 150.4V154.9M397.1 145.8V151.4M397.8 146.2V150.9M398.4 149.7V154.0M399.1 148.0V151.6M399.7 146.7V152.8M400.4 148.4V151.5M401.0 146.8V150.9M401.7 143.6V152.5M402.3 145.4V153.1M403.0 144.8V148.7M403.6 145.2V148.0M404.3 145.5V148.6M404.9 141.7V147.9M405.5 141.4V145.8M406.2 139.3V147.1M406.8 142.6V145.6M407.5 139.1V144.6M408.1 138.8V147.3M408.8 138.3V146.2M409.4 136.1V143.6M410.1 134.2V142.0M410.7 137.3V143.5M411.4 134.6V139.1M412.0 132.0V138.8M412.7 129.8V138.2M413.3 128.2V135.1M414.0 128.2V136.8M414.6 126.8V132.2M415.3 127.5V133.5M415.9 123.4V130.5M416.6 120.6V129.6M417.2 123.3V128.3M417.9 120.6V126.2M418.5 116.7V125.5M419.2 119.7V123.5M419.8 116.8V122.1M420.5 111.8V119.9M421.1 111.2V117.8M421.8 116.1V119.0M422.4 112.1V117.9M423.0 110.6V115.2M423.7 109.9V113.3M424.3 109.0V116.0M425.0 105.2V113.6M425.6 101.3V110.1M426.3 101.8V110.4M426.9 102.9V106.8M427.6 102.3V107.0M428.2 97.2V101.7M428.9 94.1V98.8M429.5 96.4V101.7M430.2 94.3V98.7M430.8 89.5V98.4M431.5 90.1V94.1M432.1 89.2V92.5M432.8 88.0V96.0M433.4 85.2V91.9M434.1 84.4V88.9M434.7 81.0V89.8M435.4 80.1V85.9M436.0 80.0V84.5M436.7 79.8V84.1M437.3 76.2V84.9M438.0 75.6V79.5M438.6 71.5V80.5M439.3 76.5V80.1M439.9 76.7V79.8M440.6 73.6V77.5M441.2 71.6V79.6M441.8 69.2V78.0M442.5 70.4V76.5M443.1 70.2V75.4M443.8 66.6V75.6M444.4 69.1V72.8M445.1 67.6V71.2M445.7 69.6V72.9M446.4 64.2V68.2M447.0 59.2V68.1M447.7 66.9V71.2M448.3 65.8V71.6M449.0 59.6V66.8M449.6 62.9V67.9M450.3 60.6V68.1M450.9 60.8V66.5M451.6 62.1V68.2M452.2 60.4V68.4M452.9 59.6V63.6M453.5 60.3V68.4M454.2 61.0V64.9M454.8 56.1V60.0M455.5 58.6V63.0M456.1 55.1V64.0M456.8 56.2V61.5M457.4 56.9V59.8M458.1 54.8V63.0M458.7 53.3V60.4M459.4 58.7V64.8M460.0 54.1V60.3M460.6 54.7V60.3M461.3 53.0V57.8M461.9 51.7V57.7M462.6 54.2V59.2M463.2 51.4V58.0M463.9 47.9V56.1M464.5 51.4V59.4M465.2 53.3V57.8M465.8 48.9V52.5M466.5 54.0V58.9M467.1 50.5V57.3M467.8 51.6V57.2M468.4 47.0V52.8M469.1 51.5V60.5M469.7 50.5V56.6M470.4 53.0V56.2M471.0 49.2V54.6M471.7 49.4V52.6M472.3 50.1V58.2M473.0 52.4V57.4M473.6 47.1V51.2M474.3 51.6V57.1M474.9 48.2V56.4M475.6 49.2V53.9M476.2 49.4V55.3M476.9 48.5V55.4M477.5 45.8V54.0M478.1 49.2V53.3M478.8 48.2V53.4M479.4 49.2V52.5M480.1 48.2V53.0M480.7 47.0V53.1M481.4 45.2V53.8M482.0 47.9V55.9M482.7 46.1V54.1M483.3 44.7V51.7M484.0 48.4V51.9M484.6 45.4V51.1M485.3 45.9V54.2M485.9 45.3V53.2M486.6 44.8V51.3M487.2 46.1V51.0M487.9 47.1V50.0M488.5 45.9V50.4M489.2 46.7V51.9M489.8 46.6V53.3M490.5 45.0V51.9M491.1 44.4V53.3M491.8 44.4V51.5M492.4 43.0V50.5M493.1 42.7V51.7M493.7 44.8V50.6M494.4 45.0V50.5M495.0 43.3V48.1M495.7 46.6V52.0M496.3 48.1V52.1M496.9 46.3V51.5M497.6 44.3V47.2M498.2 42.0V50.6M498.9 47.4V50.7M499.5 45.4V49.6M500.2 46.7V52.9M500.8 44.3V48.8M501.5 41.9V48.0M502.1 45.1V49.2M502.8 46.0V49.6M503.4 40.9V47.0M504.1 43.9V51.5M504.7 43.4V51.9M505.4 43.2V47.3M506.0 46.8V50.0M506.7 45.7V49.7M507.3 42.0V50.2M508.0 41.7V50.3M508.6 42.2V45.7M509.3 43.2V47.3M509.9 45.2V49.2M510.6 42.3V47.4M511.2 42.0V50.1M511.9 43.5V48.8M512.5 44.2V49.4" stroke="#f6a87c" stroke-width="0.5" stroke-opacity="0.45" fill="none"/>
<path d="M385.4 153.2h1.4M386.0 149.2h1.4M386.7 152.5h1.4M387.3 153.4h1.4M388.0 150.0h1.4M388.6 151.6h1.4M389.3 153.4h1.4M389.9 150.1h1.4M390.6 151.0h1.4M391.2 151.1h1.4M391.9 150.4h1.4M392.5 149.7h1.4M393.2 148.7h1.4M393.8 151.8h1.4M394.5 151.8h1.4M395.1 149.7h1.4M395.8 152.6h1.4M396.4 148.6h1.4M397.1 148.5h1.4M397.7 151.8h1.4M398.4 149.8h1.4M399.0 149.7h1.4M399.7 149.9h1.4M400.3 148.9h1.4M401.0 148.0h1.4M401.6 149.2h1.4M402.3 146.8h1.4M402.9 146.6h1.4M403.6 147.1h1.4M404.2 144.8h1.4M404.8 143.6h1.4M405.5 143.2h1.4M406.1 144.1h1.4M406.8 141.9h1.4M407.4 143.0h1.4M408.1 142.2h1.4M408.7 139.8h1.4M409.4 138.1h1.4M410.0 140.4h1.4M410.7 136.8h1.4M411.3 135.4h1.4M412.0 134.0h1.4M412.6 131.7h1.4M413.3 132.5h1.4M413.9 129.5h1.4M414.6 130.5h1.4M415.2 126.9h1.4M415.9 125.1h1.4M416.5 125.8h1.4M417.2 123.4h1.4M417.8 121.1h1.4M418.5 121.6h1.4M419.1 119.4h1.4M419.8 115.8h1.4M420.4 114.5h1.4M421.1 117.6h1.4M421.7 115.0h1.4M422.3 112.9h1.4M423.0 111.6h1.4M423.6 112.5h1.4M424.3 109.4h1.4M424.9 105.7h1.4M425.6 106.1h1.4M426.2 104.9h1.4M426.9 104.6h1.4M427.5 99.4h1.4M428.2 96.5h1.4M428.8 99.0h1.4M429.5 96.5h1.4M430.1 94.0h1.4M430.8 92.1h1.4M431.4 90.9h1.4M432.1 92.0h1.4M432.7 88.6h1.4M433.4 86.6h1.4M434.0 85.4h1.4M434.7 83.0h1.4M435.3 82.3h1.4M436.0 82.0h1.4M436.6 80.6h1.4M437.3 77.5h1.4M437.9 76.0h1.4M438.6 78.3h1.4M439.2 78.3h1.4M439.9 75.5h1.4M440.5 75.6h1.4M441.1 73.6h1.4M441.8 73.4h1.4M442.4 72.8h1.4M443.1 71.1h1.4M443.7 71.0h1.4M444.4 69.4h1.4M445.0 71.2h1.4M445.7 66.2h1.4M446.3 63.6h1.4M447.0 69.1h1.4M447.6 68.7h1.4M448.3 63.2h1.4M448.9 65.4h1.4M449.6 64.4h1.4M450.2 63.6h1.4M450.9 65.1h1.4M451.5 64.4h1.4M452.2 61.6h1.4M452.8 64.3h1.4M453.5 63.0h1.4M454.1 58.1h1.4M454.8 60.8h1.4M455.4 59.6h1.4M456.1 58.8h1.4M456.7 58.4h1.4M457.4 58.9h1.4M458.0 56.8h1.4M458.7 61.8h1.4M459.3 57.2h1.4M459.9 57.5h1.4M460.6 55.4h1.4M461.2 54.7h1.4M461.9 56.7h1.4M462.5 54.7h1.4M463.2 52.0h1.4M463.8 55.4h1.4M464.5 55.6h1.4M465.1 50.7h1.4M465.8 56.4h1.4M466.4 53.9h1.4M467.1 54.4h1.4M467.7 49.9h1.4M468.4 56.0h1.4M469.0 53.6h1.4M469.7 54.6h1.4M470.3 51.9h1.4M471.0 51.0h1.4M471.6 54.1h1.4M472.3 54.9h1.4M472.9 49.2h1.4M473.6 54.3h1.4M474.2 52.3h1.4M474.9 51.5h1.4M475.5 52.3h1.4M476.2 52.0h1.4M476.8 49.9h1.4M477.4 51.2h1.4M478.1 50.8h1.4M478.7 50.8h1.4M479.4 50.6h1.4M480.0 50.0h1.4M480.7 49.5h1.4M481.3 51.9h1.4M482.0 50.1h1.4M482.6 48.2h1.4M483.3 50.1h1.4M483.9 48.2h1.4M484.6 50.1h1.4M485.2 49.2h1.4M485.9 48.0h1.4M486.5 48.5h1.4M487.2 48.6h1.4M487.8 48.2h1.4M488.5 49.3h1.4M489.1 49.9h1.4M489.8 48.5h1.4M490.4 48.8h1.4M491.1 47.9h1.4M491.7 46.8h1.4M492.4 47.2h1.4M493.0 47.7h1.4M493.7 47.7h1.4M494.3 45.7h1.4M495.0 49.3h1.4M495.6 50.1h1.4M496.2 48.9h1.4M496.9 45.7h1.4M497.5 46.3h1.4M498.2 49.1h1.4M498.8 47.5h1.4M499.5 49.8h1.4M500.1 46.5h1.4M500.8 45.0h1.4M501.4 47.2h1.4M502.1 47.8h1.4M502.7 44.0h1.4M503.4 47.7h1.4M504.0 47.6h1.4M504.7 45.3h1.4M505.3 48.4h1.4M506.0 47.7h1.4M506.6 46.1h1.4M507.3 46.0h1.4M507.9 44.0h1.4M508.6 45.3h1.4M509.2 47.2h1.4M509.9 44.8h1.4M510.5 46.0h1.4M511.2 46.2h1.4M511.8 46.8h1.4" stroke="#f6a87c" stroke-width="0.8" stroke-opacity="0.6" fill="none"/>
<path d="M386.10 149.72 L386.90 148.68 L387.69 147.64 L388.49 146.60 L389.28 145.55 L390.08 144.49 L390.87 143.44 L391.67 142.37 L392.46 141.31 L393.25 140.24 L394.05 139.15 L394.85 138.06 L395.64 136.93 L396.44 135.75 L397.23 134.51 L398.03 133.19 L398.82 131.77 L399.62 130.26 L400.41 128.64 L401.21 126.93 L402.00 125.14 L402.80 123.30 L403.59 121.42 L404.38 119.52 L405.18 117.62 L405.98 115.71 L406.77 113.82 L407.56 111.92 L408.36 110.05 L409.16 108.18 L409.95 106.33 L410.75 104.50 L411.54 102.69 L412.34 100.92 L413.13 99.17 L413.93 97.45 L414.72 95.78 L415.52 94.15 L416.31 92.56 L417.11 91.03 L417.90 89.55 L418.70 88.13 L419.49 86.76 L420.29 85.44 L421.08 84.17 L421.88 82.95 L422.67 81.77 L423.47 80.63 L424.26 79.52 L425.06 78.45 L425.85 77.41 L426.65 76.40 L427.44 75.42 L428.24 74.46 L429.03 73.53 L429.83 72.61 L430.62 71.71 L431.42 70.82 L432.21 69.95 L433.00 69.08 L433.80 68.22 L434.60 67.37 L435.39 66.53 L436.19 65.71 L436.98 64.91 L437.78 64.14 L438.57 63.40 L439.37 62.69 L440.16 62.01 L440.96 61.37 L441.75 60.76 L442.55 60.18 L443.34 59.62 L444.13 59.09 L444.93 58.57 L445.73 58.08 L446.52 57.60 L447.31 57.14 L448.11 56.70 L448.91 56.28 L449.70 55.88 L450.50 55.51 L451.29 55.15 L452.09 54.81 L452.88 54.49 L453.68 54.19 L454.47 53.91 L455.26 53.65 L456.06 53.40 L456.86 53.16 L457.65 52.93 L458.44 52.71 L459.24 52.51 L460.04 52.31 L460.83 52.12 L461.62 51.93 L462.42 51.75 L463.22 51.58 L464.01 51.41 L464.81 51.25 L465.60 51.09 L466.40 50.93 L467.19 50.78 L467.99 50.63 L468.78 50.48 L469.58 50.34 L470.37 50.19 L471.17 50.05 L471.96 49.91 L472.75 49.78 L473.55 49.64 L474.35 49.51 L475.14 49.38 L475.94 49.26 L476.73 49.14 L477.52 49.02 L478.32 48.90 L479.12 48.79 L479.91 48.68 L480.71 48.58 L481.50 48.48 L482.30 48.38 L483.09 48.29 L483.88 48.20 L484.68 48.11 L485.48 48.03 L486.27 47.95 L487.06 47.87 L487.86 47.79 L488.66 47.72 L489.45 47.64 L490.25 47.57 L491.04 47.50 L491.84 47.43 L492.63 47.36 L493.43 47.29 L494.22 47.22 L495.01 47.16 L495.81 47.09 L496.61 47.03 L497.40 46.96 L498.20 46.90 L498.99 46.85 L499.79 46.79 L500.58 46.73 L501.38 46.68 L502.17 46.63 L502.97 46.58 L503.76 46.53 L504.56 46.49 L505.35 46.45 L506.15 46.41 L506.94 46.37 L507.74 46.34 L508.53 46.31 L509.33 46.28 L510.12 46.25 L510.92 46.22 L511.71 46.20 L512.50 46.18" stroke="#e9e27a" stroke-width="6.88" stroke-opacity="0.22" fill="none" stroke-linecap="round"/>
<path d="M386.1 146.8V151.6M386.7 143.9V151.7M387.4 146.1V150.7M388.0 143.5V149.6M388.7 143.4V151.3M389.3 143.7V148.2M390.0 143.5V147.7M390.6 141.5V149.7M391.3 140.8V148.0M391.9 137.1V144.5M392.6 137.4V145.9M393.2 135.6V144.6M393.9 138.9V143.8M394.5 133.8V143.0M395.2 133.7V142.4M395.8 132.7V142.6M396.5 135.4V141.7M397.1 128.4V132.7M397.8 129.9V138.0M398.4 130.3V137.4M399.1 125.4V134.3M399.7 125.7V132.1M400.4 128.6V134.8M401.0 124.9V131.3M401.7 126.2V130.6M402.3 124.0V127.7M403.0 120.2V125.4M403.6 118.7V127.9M404.3 113.5V123.3M404.9 115.2V124.0M405.5 115.2V118.3M406.2 112.6V120.3M406.8 110.6V116.9M407.5 110.0V117.0M408.1 107.1V114.0M408.8 103.8V109.5M409.4 103.4V108.7M410.1 100.8V108.8M410.7 101.6V106.0M411.4 98.8V104.6M412.0 100.5V104.0M412.7 97.3V103.7M413.3 96.1V100.3M414.0 93.7V97.5M414.6 94.8V103.9M415.3 92.2V98.8M415.9 91.3V96.3M416.6 89.1V94.3M417.2 85.3V94.9M417.9 86.7V93.1M418.5 84.7V94.4M419.2 84.7V89.0M419.8 85.7V90.1M420.5 83.7V88.3M421.1 77.4V85.5M421.8 78.7V88.0M422.4 76.1V84.3M423.0 77.5V82.1M423.7 81.6V86.9M424.3 74.2V82.5M425.0 74.9V79.8M425.6 72.4V79.0M426.3 74.9V83.1M426.9 70.6V77.1M427.6 71.6V80.2M428.2 73.5V78.4M428.9 72.8V78.5M429.5 71.8V75.2M430.2 68.9V73.4M430.8 65.4V73.7M431.5 70.1V79.0M432.1 66.1V74.2M432.8 66.2V73.1M433.4 64.2V72.4M434.1 64.9V69.1M434.7 62.8V72.6M435.4 62.6V70.7M436.0 65.6V69.7M436.7 63.8V71.0M437.3 63.1V67.3M438.0 58.0V67.1M438.6 59.7V63.7M439.3 57.9V66.4M439.9 59.3V65.1M440.6 62.8V70.0M441.2 57.4V62.3M441.8 58.2V63.2M442.5 56.4V64.2M443.1 56.3V62.9M443.8 56.3V61.6M444.4 53.9V62.5M445.1 55.7V61.5M445.7 53.7V61.3M446.4 56.6V61.9M447.0 52.8V61.3M447.7 52.6V58.0M448.3 54.5V58.2M449.0 52.1V57.3M449.6 54.1V61.2M450.3 53.9V59.0M450.9 52.3V57.7M451.6 52.8V57.2M452.2 51.7V60.0M452.9 51.4V58.6M453.5 52.2V58.9M454.2 53.1V59.1M454.8 49.7V58.3M455.5 49.8V56.3M456.1 47.0V54.1M456.8 47.5V54.8M457.4 48.8V58.7M458.1 50.4V54.6M458.7 54.6V58.5M459.4 44.9V51.4M460.0 48.7V58.2M460.6 49.1V55.0M461.3 48.7V51.8M461.9 47.8V55.7M462.6 47.8V51.1M463.2 50.2V57.9M463.9 49.5V54.6M464.5 47.1V52.3M465.2 47.9V51.6M465.8 44.6V54.3M466.5 44.9V49.3M467.1 47.9V51.5M467.8 46.6V54.9M468.4 49.2V55.7M469.1 47.0V54.7M469.7 47.5V54.1M470.4 48.3V51.8M471.0 46.3V54.0M471.7 44.6V52.5M472.3 47.1V54.0M473.0 47.5V54.7M473.6 46.9V50.2M474.3 48.0V52.8M474.9 43.9V50.2M475.6 45.6V53.1M476.2 43.7V51.9M476.9 45.2V49.7M477.5 46.8V52.2M478.1 44.3V51.4M478.8 44.8V52.1M479.4 46.8V50.6M480.1 45.5V49.8M480.7 45.2V54.3M481.4 45.0V52.0M482.0 47.6V50.9M482.7 42.9V51.0M483.3 44.2V52.3M484.0 47.2V52.1M484.6 45.7V50.1M485.3 43.4V50.6M485.9 47.6V51.4M486.6 45.7V54.0M487.2 46.1V52.6M487.9 44.6V50.6M488.5 43.5V51.0M489.2 42.2V50.2M489.8 42.2V51.3M490.5 43.8V52.3M491.1 46.5V50.5M491.8 47.4V55.8M492.4 43.2V50.3M493.1 43.0V52.6M493.7 43.4V52.7M494.4 41.3V47.3M495.0 42.1V50.9M495.7 43.3V49.2M496.3 43.0V52.4M496.9 43.1V47.9M497.6 40.6V45.9M498.2 43.6V49.3M498.9 43.8V47.4M499.5 42.4V51.6M500.2 42.0V51.5M500.8 43.3V48.0M501.5 43.0V48.1M502.1 45.2V49.7M502.8 45.6V51.4M503.4 43.8V50.3M504.1 42.6V52.1M504.7 39.6V47.8M505.4 43.8V48.6M506.0 44.7V49.2M506.7 39.5V48.8M507.3 38.4V47.7M508.0 44.0V50.0M508.6 44.9V48.3M509.3 42.8V47.8M509.9 42.2V51.7M510.6 42.6V47.8M511.2 39.1V46.7M511.9 40.7V46.5M512.5 41.4V46.9" stroke="#e9e27a" stroke-width="0.5" stroke-opacity="0.45" fill="none"/>
<path d="M385.4 149.2h1.4M386.0 147.8h1.4M386.7 148.4h1.4M387.3 146.6h1.4M388.0 147.4h1.4M388.6 145.9h1.4M389.3 145.6h1.4M389.9 145.6h1.4M390.6 144.4h1.4M391.2 140.8h1.4M391.9 141.6h1.4M392.5 140.1h1.4M393.2 141.4h1.4M393.8 138.4h1.4M394.5 138.0h1.4M395.1 137.7h1.4M395.8 138.5h1.4M396.4 130.5h1.4M397.1 133.9h1.4M397.7 133.9h1.4M398.4 129.9h1.4M399.0 128.9h1.4M399.7 131.7h1.4M400.3 128.1h1.4M401.0 128.4h1.4M401.6 125.9h1.4M402.3 122.8h1.4M402.9 123.3h1.4M403.6 118.4h1.4M404.2 119.6h1.4M404.8 116.8h1.4M405.5 116.5h1.4M406.1 113.8h1.4M406.8 113.5h1.4M407.4 110.6h1.4M408.1 106.7h1.4M408.7 106.0h1.4M409.4 104.8h1.4M410.0 103.8h1.4M410.7 101.7h1.4M411.3 102.2h1.4M412.0 100.5h1.4M412.6 98.2h1.4M413.3 95.6h1.4M413.9 99.4h1.4M414.6 95.5h1.4M415.2 93.8h1.4M415.9 91.7h1.4M416.5 90.1h1.4M417.2 89.9h1.4M417.8 89.5h1.4M418.5 86.8h1.4M419.1 87.9h1.4M419.8 86.0h1.4M420.4 81.4h1.4M421.1 83.4h1.4M421.7 80.2h1.4M422.3 79.8h1.4M423.0 84.3h1.4M423.6 78.3h1.4M424.3 77.4h1.4M424.9 75.7h1.4M425.6 79.0h1.4M426.2 73.8h1.4M426.9 75.9h1.4M427.5 76.0h1.4M428.2 75.6h1.4M428.8 73.5h1.4M429.5 71.2h1.4M430.1 69.6h1.4M430.8 74.5h1.4M431.4 70.2h1.4M432.1 69.6h1.4M432.7 68.3h1.4M433.4 67.0h1.4M434.0 67.7h1.4M434.7 66.7h1.4M435.3 67.6h1.4M436.0 67.4h1.4M436.6 65.2h1.4M437.3 62.6h1.4M437.9 61.7h1.4M438.6 62.1h1.4M439.2 62.2h1.4M439.9 66.4h1.4M440.5 59.8h1.4M441.1 60.7h1.4M441.8 60.3h1.4M442.4 59.6h1.4M443.1 59.0h1.4M443.7 58.2h1.4M444.4 58.6h1.4M445.0 57.5h1.4M445.7 59.2h1.4M446.3 57.0h1.4M447.0 55.3h1.4M447.6 56.4h1.4M448.3 54.7h1.4M448.9 57.6h1.4M449.6 56.5h1.4M450.2 55.0h1.4M450.9 55.0h1.4M451.5 55.8h1.4M452.2 55.0h1.4M452.8 55.6h1.4M453.5 56.1h1.4M454.1 54.0h1.4M454.8 53.1h1.4M455.4 50.5h1.4M456.1 51.1h1.4M456.7 53.7h1.4M457.4 52.5h1.4M458.0 56.5h1.4M458.7 48.1h1.4M459.3 53.5h1.4M459.9 52.0h1.4M460.6 50.3h1.4M461.2 51.7h1.4M461.9 49.5h1.4M462.5 54.0h1.4M463.2 52.0h1.4M463.8 49.7h1.4M464.5 49.7h1.4M465.1 49.5h1.4M465.8 47.1h1.4M466.4 49.7h1.4M467.1 50.7h1.4M467.7 52.4h1.4M468.4 50.9h1.4M469.0 50.8h1.4M469.7 50.0h1.4M470.3 50.1h1.4M471.0 48.5h1.4M471.6 50.6h1.4M472.3 51.1h1.4M472.9 48.5h1.4M473.6 50.4h1.4M474.2 47.1h1.4M474.9 49.4h1.4M475.5 47.8h1.4M476.2 47.4h1.4M476.8 49.5h1.4M477.4 47.9h1.4M478.1 48.4h1.4M478.7 48.7h1.4M479.4 47.7h1.4M480.0 49.7h1.4M480.7 48.5h1.4M481.3 49.3h1.4M482.0 47.0h1.4M482.6 48.2h1.4M483.3 49.6h1.4M483.9 47.9h1.4M484.6 47.0h1.4M485.2 49.5h1.4M485.9 49.8h1.4M486.5 49.3h1.4M487.2 47.6h1.4M487.8 47.3h1.4M488.5 46.2h1.4M489.1 46.7h1.4M489.8 48.1h1.4M490.4 48.5h1.4M491.1 51.6h1.4M491.7 46.7h1.4M492.4 47.8h1.4M493.0 48.1h1.4M493.7 44.3h1.4M494.3 46.5h1.4M495.0 46.3h1.4M495.6 47.7h1.4M496.2 45.5h1.4M496.9 43.2h1.4M497.5 46.5h1.4M498.2 45.6h1.4M498.8 47.0h1.4M499.5 46.7h1.4M500.1 45.6h1.4M500.8 45.6h1.4M501.4 47.4h1.4M502.1 48.5h1.4M502.7 47.1h1.4M503.4 47.4h1.4M504.0 43.7h1.4M504.7 46.2h1.4M505.3 46.9h1.4M506.0 44.1h1.4M506.6 43.0h1.4M507.3 47.0h1.4M507.9 46.6h1.4M508.6 45.3h1.4M509.2 46.9h1.4M509.9 45.2h1.4M510.5 42.9h1.4M511.2 43.6h1.4M511.8 44.1h1.4" stroke="#e9e27a" stroke-width="0.8" stroke-opacity="0.6" fill="none"/>
<path d="M386.10 154.01 L386.74 153.98 L387.37 153.94 L388.01 153.90 L388.64 153.86 L389.28 153.82 L389.91 153.77 L390.55 153.73 L391.18 153.68 L391.82 153.63 L392.45 153.58 L393.09 153.53 L393.72 153.48 L394.36 153.43 L394.99 153.37 L395.63 153.31 L396.26 153.26 L396.90 153.20 L397.53 153.13 L398.17 153.07 L398.80 153.01 L399.44 152.94 L400.07 152.88 L400.71 152.81 L401.34 152.74 L401.98 152.67 L402.62 152.60 L403.25 152.53 L403.89 152.46 L404.52 152.39 L405.16 152.31 L405.79 152.24 L406.43 152.16 L407.06 152.08 L407.70 152.00 L408.33 151.92 L408.97 151.84 L409.60 151.76 L410.24 151.68 L410.87 151.59 L411.51 151.51 L412.14 151.42 L412.78 151.33 L413.41 151.23 L414.05 151.14 L414.68 151.04 L415.32 150.93 L415.95 150.83 L416.59 150.72 L417.22 150.61 L417.86 150.50 L418.50 150.38 L419.13 150.26 L419.77 150.14 L420.40 150.02 L421.04 149.90 L421.67 149.77 L422.31 149.64 L422.94 149.51 L423.58 149.38 L424.21 149.25 L424.85 149.12 L425.48 148.99 L426.12 148.85 L426.75 148.72 L427.39 148.58 L428.02 148.44 L428.66 148.31 L429.29 148.17 L429.93 148.03 L430.56 147.89 L431.20 147.76 L431.83 147.62 L432.47 147.48 L433.10 147.35 L433.74 147.21 L434.38 147.08 L435.01 146.94 L435.65 146.81 L436.28 146.68 L436.92 146.55 L437.55 146.42 L438.19 146.29 L438.82 146.17 L439.46 146.04 L440.09 145.92 L440.73 145.79 L441.36 145.67 L442.00 145.55 L442.63 145.42 L443.27 145.30 L443.90 145.18 L444.54 145.06 L445.17 144.94 L445.81 144.82 L446.44 144.69 L447.08 144.57 L447.71 144.45 L448.35 144.33 L448.98 144.21 L449.62 144.09 L450.26 143.97 L450.89 143.85 L451.53 143.73 L452.16 143.61 L452.80 143.49 L453.43 143.37 L454.07 143.25 L454.70 143.13 L455.34 143.01 L455.97 142.89 L456.61 142.77 L457.24 142.65 L457.88 142.53 L458.51 142.41 L459.15 142.29 L459.78 142.17 L460.42 142.05 L461.05 141.93 L461.69 141.82 L462.32 141.70 L462.96 141.58 L463.59 141.46 L464.23 141.34 L464.86 141.23 L465.50 141.11 L466.14 140.99 L466.77 140.88 L467.41 140.76 L468.04 140.64 L468.68 140.53 L469.31 140.41 L469.95 140.30 L470.58 140.18 L471.22 140.07 L471.85 139.95 L472.49 139.84 L473.12 139.72 L473.76 139.61 L474.39 139.49 L475.03 139.38 L475.66 139.26 L476.30 139.15 L476.93 139.03 L477.57 138.92 L478.20 138.81 L478.84 138.69 L479.47 138.58 L480.11 138.47 L480.74 138.35 L481.38 138.24 L482.02 138.13 L482.65 138.01 L483.29 137.90 L483.92 137.79 L484.56 137.68 L485.19 137.56 L485.83 137.45 L486.46 137.34 L487.10 137.23 L487.73 137.11 L488.37 137.00 L489.00 136.89 L489.64 136.78 L490.27 136.67 L490.91 136.56 L491.54 136.45 L492.18 136.34 L492.81 136.22 L493.45 136.11 L494.08 136.00 L494.72 135.89 L495.35 135.78 L495.99 135.67 L496.62 135.56 L497.26 135.45 L497.90 135.34 L498.53 135.23 L499.17 135.12 L499.80 135.02 L500.44 134.91 L501.07 134.80 L501.71 134.69 L502.34 134.58 L502.98 134.47 L503.61 134.36 L504.25 134.25 L504.88 134.15 L505.52 134.04 L506.15 133.93 L506.79 133.82 L507.42 133.72 L508.06 133.61 L508.69 133.50 L509.33 133.40 L509.96 133.29 L510.60 133.18 L511.23 133.08 L511.87 132.97 L512.50 132.86" stroke="#4d4d4d" stroke-width="1.5" fill="none"/>
<path d="M386.10 153.68 L386.74 153.65 L387.37 153.62 L388.01 153.59 L388.64 153.55 L389.28 153.51 L389.91 153.46 L390.55 153.40 L391.18 153.35 L391.82 153.28 L392.45 153.21 L393.09 153.14 L393.72 153.06 L394.36 152.98 L394.99 152.90 L395.63 152.81 L396.26 152.71 L396.90 152.62 L397.53 152.52 L398.17 152.41 L398.80 152.30 L399.44 152.18 L400.07 152.06 L400.71 151.93 L401.34 151.79 L401.98 151.64 L402.62 151.48 L403.25 151.32 L403.89 151.15 L404.52 150.97 L405.16 150.78 L405.79 150.59 L406.43 150.39 L407.06 150.18 L407.70 149.97 L408.33 149.75 L408.97 149.52 L409.60 149.29 L410.24 149.05 L410.87 148.80 L411.51 148.54 L412.14 148.27 L412.78 148.00 L413.41 147.71 L414.05 147.42 L414.68 147.11 L415.32 146.80 L415.95 146.48 L416.59 146.14 L417.22 145.79 L417.86 145.43 L418.50 145.06 L419.13 144.68 L419.77 144.28 L420.40 143.88 L421.04 143.46 L421.67 143.04 L422.31 142.61 L422.94 142.18 L423.58 141.74 L424.21 141.30 L424.85 140.85 L425.48 140.41 L426.12 139.96 L426.75 139.51 L427.39 139.06 L428.02 138.60 L428.66 138.15 L429.29 137.68 L429.93 137.22 L430.56 136.74 L431.20 136.26 L431.83 135.77 L432.47 135.28 L433.10 134.77 L433.74 134.25 L434.38 133.72 L435.01 133.18 L435.65 132.63 L436.28 132.06 L436.92 131.47 L437.55 130.87 L438.19 130.25 L438.82 129.62 L439.46 128.97 L440.09 128.30 L440.73 127.62 L441.36 126.93 L442.00 126.22 L442.63 125.52 L443.27 124.80 L443.90 124.09 L444.54 123.38 L445.17 122.68 L445.81 121.99 L446.44 121.31 L447.08 120.65 L447.71 120.00 L448.35 119.37 L448.98 118.75 L449.62 118.15 L450.26 117.55 L450.89 116.97 L451.53 116.40 L452.16 115.83 L452.80 115.26 L453.43 114.70 L454.07 114.13 L454.70 113.56 L455.34 112.99 L455.97 112.41 L456.61 111.83 L457.24 111.24 L457.88 110.65 L458.51 110.06 L459.15 109.48 L459.78 108.89 L460.42 108.32 L461.05 107.75 L461.69 107.19 L462.32 106.65 L462.96 106.12 L463.59 105.59 L464.23 105.08 L464.86 104.58 L465.50 104.09 L466.14 103.60 L466.77 103.13 L467.41 102.65 L468.04 102.18 L468.68 101.72 L469.31 101.26 L469.95 100.81 L470.58 100.36 L471.22 99.92 L471.85 99.48 L472.49 99.06 L473.12 98.64 L473.76 98.23 L474.39 97.83 L475.03 97.44 L475.66 97.05 L476.30 96.68 L476.93 96.31 L477.57 95.96 L478.20 95.60 L478.84 95.25 L479.47 94.91 L480.11 94.56 L480.74 94.23 L481.38 93.89 L482.02 93.55 L482.65 93.22 L483.29 92.88 L483.92 92.54 L484.56 92.20 L485.19 91.86 L485.83 91.51 L486.46 91.16 L487.10 90.80 L487.73 90.43 L488.37 90.07 L489.00 89.70 L489.64 89.33 L490.27 88.95 L490.91 88.58 L491.54 88.21 L492.18 87.85 L492.81 87.49 L493.45 87.14 L494.08 86.80 L494.72 86.46 L495.35 86.14 L495.99 85.82 L496.62 85.51 L497.26 85.21 L497.90 84.91 L498.53 84.62 L499.17 84.34 L499.80 84.06 L500.44 83.79 L501.07 83.53 L501.71 83.27 L502.34 83.01 L502.98 82.76 L503.61 82.52 L504.25 82.29 L504.88 82.06 L505.52 81.83 L506.15 81.62 L506.79 81.40 L507.42 81.20 L508.06 81.00 L508.69 80.81 L509.33 80.62 L509.96 80.44 L510.60 80.26 L511.23 80.09 L511.87 79.92 L512.50 79.76" stroke="#a3192e" stroke-width="1.05" fill="none"/>
<path d="M386.10 152.35 L386.74 152.32 L387.37 152.29 L388.01 152.25 L388.64 152.21 L389.28 152.15 L389.91 152.09 L390.55 152.03 L391.18 151.95 L391.82 151.87 L392.45 151.78 L393.09 151.68 L393.72 151.56 L394.36 151.44 L394.99 151.30 L395.63 151.14 L396.26 150.97 L396.90 150.77 L397.53 150.54 L398.17 150.28 L398.80 149.99 L399.44 149.67 L400.07 149.30 L400.71 148.89 L401.34 148.45 L401.98 147.96 L402.62 147.43 L403.25 146.87 L403.89 146.28 L404.52 145.66 L405.16 145.01 L405.79 144.34 L406.43 143.64 L407.06 142.91 L407.70 142.15 L408.33 141.35 L408.97 140.49 L409.60 139.58 L410.24 138.61 L410.87 137.57 L411.51 136.46 L412.14 135.29 L412.78 134.06 L413.41 132.77 L414.05 131.44 L414.68 130.08 L415.32 128.68 L415.95 127.27 L416.59 125.85 L417.22 124.42 L417.86 123.01 L418.50 121.60 L419.13 120.22 L419.77 118.85 L420.40 117.51 L421.04 116.19 L421.67 114.89 L422.31 113.60 L422.94 112.33 L423.58 111.06 L424.21 109.79 L424.85 108.51 L425.48 107.22 L426.12 105.90 L426.75 104.54 L427.39 103.14 L428.02 101.69 L428.66 100.18 L429.29 98.61 L429.93 97.01 L430.56 95.37 L431.20 93.72 L431.83 92.08 L432.47 90.48 L433.10 88.92 L433.74 87.44 L434.38 86.02 L435.01 84.69 L435.65 83.42 L436.28 82.23 L436.92 81.10 L437.55 80.03 L438.19 79.01 L438.82 78.04 L439.46 77.11 L440.09 76.21 L440.73 75.35 L441.36 74.52 L442.00 73.71 L442.63 72.94 L443.27 72.18 L443.90 71.44 L444.54 70.72 L445.17 70.02 L445.81 69.32 L446.44 68.63 L447.08 67.94 L447.71 67.27 L448.35 66.59 L448.98 65.93 L449.62 65.28 L450.26 64.64 L450.89 64.02 L451.53 63.42 L452.16 62.83 L452.80 62.27 L453.43 61.74 L454.07 61.22 L454.70 60.73 L455.34 60.26 L455.97 59.80 L456.61 59.37 L457.24 58.94 L457.88 58.53 L458.51 58.14 L459.15 57.75 L459.78 57.38 L460.42 57.02 L461.05 56.67 L461.69 56.34 L462.32 56.01 L462.96 55.70 L463.59 55.40 L464.23 55.11 L464.86 54.83 L465.50 54.57 L466.14 54.31 L466.77 54.06 L467.41 53.82 L468.04 53.59 L468.68 53.36 L469.31 53.14 L469.95 52.92 L470.58 52.71 L471.22 52.51 L471.85 52.31 L472.49 52.11 L473.12 51.92 L473.76 51.73 L474.39 51.55 L475.03 51.37 L475.66 51.20 L476.30 51.03 L476.93 50.86 L477.57 50.70 L478.20 50.55 L478.84 50.39 L479.47 50.25 L480.11 50.11 L480.74 49.97 L481.38 49.84 L482.02 49.71 L482.65 49.59 L483.29 49.47 L483.92 49.36 L484.56 49.25 L485.19 49.14 L485.83 49.04 L486.46 48.94 L487.10 48.84 L487.73 48.75 L488.37 48.65 L489.00 48.56 L489.64 48.47 L490.27 48.38 L490.91 48.29 L491.54 48.20 L492.18 48.11 L492.81 48.03 L493.45 47.94 L494.08 47.86 L494.72 47.77 L495.35 47.69 L495.99 47.61 L496.62 47.53 L497.26 47.46 L497.90 47.38 L498.53 47.31 L499.17 47.24 L499.80 47.17 L500.44 47.11 L501.07 47.04 L501.71 46.98 L502.34 46.92 L502.98 46.87 L503.61 46.81 L504.25 46.76 L504.88 46.72 L505.52 46.67 L506.15 46.63 L506.79 46.59 L507.42 46.56 L508.06 46.53 L508.69 46.50 L509.33 46.48 L509.96 46.45 L510.60 46.43 L511.23 46.42 L511.87 46.40 L512.50 46.39" stroke="#f07a2c" stroke-width="1.05" fill="none"/>
<path d="M386.10 149.72 L386.74 148.89 L387.37 148.06 L388.01 147.23 L388.64 146.39 L389.28 145.55 L389.91 144.71 L390.55 143.87 L391.18 143.02 L391.82 142.17 L392.45 141.32 L393.09 140.46 L393.72 139.60 L394.36 138.73 L394.99 137.85 L395.63 136.94 L396.26 136.01 L396.90 135.04 L397.53 134.02 L398.17 132.94 L398.80 131.80 L399.44 130.60 L400.07 129.33 L400.71 128.00 L401.34 126.62 L401.98 125.19 L402.62 123.72 L403.25 122.23 L403.89 120.72 L404.52 119.20 L405.16 117.68 L405.79 116.15 L406.43 114.63 L407.06 113.12 L407.70 111.61 L408.33 110.11 L408.97 108.62 L409.60 107.14 L410.24 105.67 L410.87 104.21 L411.51 102.77 L412.14 101.34 L412.78 99.94 L413.41 98.55 L414.05 97.19 L414.68 95.85 L415.32 94.55 L415.95 93.27 L416.59 92.02 L417.22 90.80 L417.86 89.63 L418.50 88.48 L419.13 87.37 L419.77 86.30 L420.40 85.25 L421.04 84.24 L421.67 83.26 L422.31 82.31 L422.94 81.38 L423.58 80.47 L424.21 79.59 L424.85 78.73 L425.48 77.89 L426.12 77.07 L426.75 76.27 L427.39 75.48 L428.02 74.71 L428.66 73.96 L429.29 73.22 L429.93 72.49 L430.56 71.77 L431.20 71.06 L431.83 70.36 L432.47 69.66 L433.10 68.97 L433.74 68.28 L434.38 67.60 L435.01 66.93 L435.65 66.26 L436.28 65.61 L436.92 64.97 L437.55 64.35 L438.19 63.75 L438.82 63.17 L439.46 62.61 L440.09 62.07 L440.73 61.55 L441.36 61.06 L442.00 60.58 L442.63 60.12 L443.27 59.67 L443.90 59.24 L444.54 58.82 L445.17 58.42 L445.81 58.03 L446.44 57.64 L447.08 57.27 L447.71 56.92 L448.35 56.57 L448.98 56.24 L449.62 55.92 L450.26 55.62 L450.89 55.32 L451.53 55.05 L452.16 54.78 L452.80 54.53 L453.43 54.28 L454.07 54.05 L454.70 53.83 L455.34 53.62 L455.97 53.42 L456.61 53.23 L457.24 53.04 L457.88 52.87 L458.51 52.69 L459.15 52.53 L459.78 52.37 L460.42 52.21 L461.05 52.06 L461.69 51.92 L462.32 51.77 L462.96 51.64 L463.59 51.50 L464.23 51.37 L464.86 51.24 L465.50 51.11 L466.14 50.98 L466.77 50.86 L467.41 50.74 L468.04 50.62 L468.68 50.50 L469.31 50.38 L469.95 50.27 L470.58 50.16 L471.22 50.04 L471.85 49.93 L472.49 49.82 L473.12 49.71 L473.76 49.61 L474.39 49.50 L475.03 49.40 L475.66 49.30 L476.30 49.20 L476.93 49.11 L477.57 49.01 L478.20 48.92 L478.84 48.83 L479.47 48.74 L480.11 48.66 L480.74 48.57 L481.38 48.49 L482.02 48.41 L482.65 48.34 L483.29 48.27 L483.92 48.19 L484.56 48.12 L485.19 48.06 L485.83 47.99 L486.46 47.93 L487.10 47.87 L487.73 47.80 L488.37 47.74 L489.00 47.69 L489.64 47.63 L490.27 47.57 L490.91 47.51 L491.54 47.45 L492.18 47.40 L492.81 47.34 L493.45 47.29 L494.08 47.23 L494.72 47.18 L495.35 47.13 L495.99 47.08 L496.62 47.03 L497.26 46.98 L497.90 46.93 L498.53 46.88 L499.17 46.83 L499.80 46.79 L500.44 46.74 L501.07 46.70 L501.71 46.66 L502.34 46.62 L502.98 46.58 L503.61 46.54 L504.25 46.51 L504.88 46.47 L505.52 46.44 L506.15 46.41 L506.79 46.38 L507.42 46.35 L508.06 46.32 L508.69 46.30 L509.33 46.28 L509.96 46.25 L510.60 46.23 L511.23 46.22 L511.87 46.20 L512.50 46.18" stroke="#e2dc2a" stroke-width="1.05" fill="none"/>
<line x1="386.10" y1="155.50" x2="386.10" y2="16.50" stroke="#5a5a5a" stroke-width="0.85"/>
<line x1="386.10" y1="155.50" x2="512.50" y2="155.50" stroke="#5a5a5a" stroke-width="0.85"/>
<line x1="382.90" y1="155.50" x2="386.10" y2="155.50" stroke="#5a5a5a" stroke-width="0.85"/>
<text x="378.90000000000003" y="158.2" font-size="7.6" fill="#444" text-anchor="end">0</text>
<line x1="382.90" y1="120.75" x2="386.10" y2="120.75" stroke="#5a5a5a" stroke-width="0.85"/>
<text x="378.90000000000003" y="123.45" font-size="7.6" fill="#444" text-anchor="end">0.5</text>
<line x1="382.90" y1="86.00" x2="386.10" y2="86.00" stroke="#5a5a5a" stroke-width="0.85"/>
<text x="378.90000000000003" y="88.7" font-size="7.6" fill="#444" text-anchor="end">1.0</text>
<line x1="382.90" y1="51.25" x2="386.10" y2="51.25" stroke="#5a5a5a" stroke-width="0.85"/>
<text x="378.90000000000003" y="53.95" font-size="7.6" fill="#444" text-anchor="end">1.5</text>
<line x1="382.90" y1="16.50" x2="386.10" y2="16.50" stroke="#5a5a5a" stroke-width="0.85"/>
<text x="378.90000000000003" y="19.2" font-size="7.6" fill="#444" text-anchor="end">2.0</text>
<line x1="386.10" y1="155.50" x2="386.10" y2="158.50" stroke="#5a5a5a" stroke-width="0.85"/>
<text x="386.1" y="168.3" font-size="7.9" fill="#444" text-anchor="middle">0</text>
<line x1="407.17" y1="155.50" x2="407.17" y2="157.10" stroke="#5a5a5a" stroke-width="0.85"/>
<line x1="428.24" y1="155.50" x2="428.24" y2="158.50" stroke="#5a5a5a" stroke-width="0.85"/>
<text x="428.235" y="168.3" font-size="7.9" fill="#444" text-anchor="middle">0.5</text>
<line x1="449.30" y1="155.50" x2="449.30" y2="157.10" stroke="#5a5a5a" stroke-width="0.85"/>
<line x1="470.37" y1="155.50" x2="470.37" y2="158.50" stroke="#5a5a5a" stroke-width="0.85"/>
<text x="470.37" y="168.3" font-size="7.9" fill="#444" text-anchor="middle">1.0</text>
<line x1="491.44" y1="155.50" x2="491.44" y2="157.10" stroke="#5a5a5a" stroke-width="0.85"/>
<line x1="512.50" y1="155.50" x2="512.50" y2="158.50" stroke="#5a5a5a" stroke-width="0.85"/>
<text x="512.505" y="168.3" font-size="7.9" fill="#444" text-anchor="middle">1.5</text>
<line x1="390.20" y1="19.70" x2="399.80" y2="19.70" stroke="#d26474" stroke-width="1.3"/>
<circle cx="395.0" cy="19.7" r="0.7" fill="#a3192e"/>
<text x="404.0" y="22.3" font-size="7.1" fill="#3a3a3a">SNAP-tag2 (TF)</text>
<line x1="390.20" y1="28.40" x2="399.80" y2="28.40" stroke="#e6e22e" stroke-width="1.7"/>
<circle cx="395.0" cy="28.4" r="0.7" fill="#e2dc2a"/>
<text x="404.0" y="31.0" font-size="7.1" fill="#3a3a3a">SNAP-tag2 (CF)</text>
<line x1="390.20" y1="36.50" x2="399.80" y2="36.50" stroke="#f39455" stroke-width="1.5"/>
<circle cx="395.0" cy="36.5" r="0.7" fill="#f07a2c"/>
<text x="404.0" y="39.1" font-size="7.1" fill="#3a3a3a">SNAP-tag2 (CP)</text>
<line x1="390.20" y1="45.40" x2="399.80" y2="45.40" stroke="#5e5e5e" stroke-width="0.9"/>
<circle cx="395.0" cy="45.4" r="0.7" fill="#4d4d4d"/>
<text x="404.0" y="48.0" font-size="7.1" fill="#3a3a3a">SNAP<tspan font-size="5" dy="1.8">f</tspan><tspan dy="-1.8">-tag (CP)</tspan></text>
<text x="93.5" y="9.9" font-size="8.2" fill="#3a3a3a" text-anchor="middle" textLength="17.1" lengthAdjust="spacingAndGlyphs">TMR</text>
<text x="278.9" y="9.9" font-size="8.2" fill="#3a3a3a" text-anchor="middle" textLength="16.1" lengthAdjust="spacingAndGlyphs">CPY</text>
<text x="456.4" y="9.9" font-size="8.2" fill="#3a3a3a" text-anchor="middle" textLength="12.0" lengthAdjust="spacingAndGlyphs">SiR</text>
<text x="97.1" y="182.5" font-size="8.6" fill="#3a3a3a" text-anchor="middle" textLength="31.9" lengthAdjust="spacingAndGlyphs">Time (h)</text>
<text x="270.6" y="182.5" font-size="8.6" fill="#3a3a3a" text-anchor="middle" textLength="31.9" lengthAdjust="spacingAndGlyphs">Time (h)</text>
<text x="449.5" y="182.5" font-size="8.6" fill="#3a3a3a" text-anchor="middle" textLength="31.9" lengthAdjust="spacingAndGlyphs">Time (h)</text>
<text x="7.3" y="85.4" font-size="9" fill="#3a3a3a" text-anchor="middle" textLength="137.2" lengthAdjust="spacingAndGlyphs" transform="rotate(-90 7.3 85.4)">Normalized fluorescence intensity</text>
<text x="183.6" y="86.5" font-size="9" fill="#3a3a3a" text-anchor="middle" textLength="137.2" lengthAdjust="spacingAndGlyphs" transform="rotate(-90 183.6 86.5)">Normalized fluorescence intensity</text>
<text x="358.5" y="86.2" font-size="9" fill="#3a3a3a" text-anchor="middle" textLength="137.2" lengthAdjust="spacingAndGlyphs" transform="rotate(-90 358.5 86.2)">Normalized fluorescence intensity</text>
<text x="-0.3" y="8.7" font-size="12.2" fill="#000" font-weight="bold" stroke="#000" stroke-width="0.3">a</text>
<text x="176.0" y="8.7" font-size="12.2" fill="#000" font-weight="bold" stroke="#000" stroke-width="0.3">b</text>
<text x="351.7" y="8.9" font-size="12.2" fill="#000" font-weight="bold" stroke="#000" stroke-width="0.3">c</text>
<text x="528.3" y="8.7" font-size="12.2" fill="#000" font-weight="bold" stroke="#000" stroke-width="0.3">d</text>
<text x="-0.5" y="208.6" font-size="12.2" fill="#000" font-weight="bold" stroke="#000" stroke-width="0.3">e</text>
<text x="389.4" y="208.7" font-size="12.2" fill="#000" font-weight="bold" stroke="#000" stroke-width="0.3">f</text>
<text x="543.8" y="208.3" font-size="12.2" fill="#000" font-weight="bold" stroke="#000" stroke-width="0.3">g</text>
<rect x="529.2" y="58.36" width="155.79999999999995" height="14.86" fill="#d6d6d6"/>
<rect x="529.2" y="88.08" width="155.79999999999995" height="14.86" fill="#d6d6d6"/>
<rect x="529.2" y="117.80" width="155.79999999999995" height="14.86" fill="#d6d6d6"/>
<rect x="529.2" y="147.52" width="155.79999999999995" height="14.86" fill="#d6d6d6"/>
<line x1="529.20" y1="17.30" x2="685.00" y2="17.30" stroke="#444" stroke-width="0.9"/>
<line x1="529.20" y1="43.50" x2="685.00" y2="43.50" stroke="#444" stroke-width="0.9"/>
<line x1="529.20" y1="88.08" x2="685.00" y2="88.08" stroke="#222" stroke-width="1.0"/>
<line x1="529.20" y1="132.66" x2="685.00" y2="132.66" stroke="#222" stroke-width="1.0"/>
<line x1="529.20" y1="177.24" x2="685.00" y2="177.24" stroke="#444" stroke-width="0.9"/>
<line x1="564.20" y1="43.50" x2="564.20" y2="177.24" stroke="#777" stroke-width="0.9"/>
<line x1="626.60" y1="43.50" x2="626.60" y2="177.24" stroke="#3a3a3a" stroke-width="0.9"/>
<text x="531.8" y="54.3" font-size="7.0" fill="#3a3a3a" textLength="25.7" lengthAdjust="spacingAndGlyphs">TF–TMR</text>
<text x="568.9" y="54.3" font-size="7.1" fill="#3a3a3a" textLength="50.1" lengthAdjust="spacingAndGlyphs">20.7 (20.1–21.3)</text>
<text x="531.8" y="69.16" font-size="7.0" fill="#3a3a3a" textLength="26.4" lengthAdjust="spacingAndGlyphs">CF–TMR</text>
<text x="568.9" y="69.16" font-size="7.1" fill="#3a3a3a" textLength="52.2" lengthAdjust="spacingAndGlyphs">29.4 (28.6–30.1)</text>
<text x="531.8" y="84.02" font-size="7.0" fill="#3a3a3a" textLength="26.8" lengthAdjust="spacingAndGlyphs">CP–TMR</text>
<text x="568.9" y="84.02" font-size="7.1" fill="#3a3a3a" textLength="53.0" lengthAdjust="spacingAndGlyphs">20.9 (20.4–21.3)</text>
<text x="629.8" y="84.02" font-size="7.1" fill="#3a3a3a" textLength="51.7" lengthAdjust="spacingAndGlyphs">46.1 (41.3–50.8)</text>
<text x="531.8" y="98.88" font-size="7.0" fill="#3a3a3a" textLength="25.0" lengthAdjust="spacingAndGlyphs">TF–CPY</text>
<text x="568.9" y="98.88" font-size="7.1" fill="#3a3a3a" textLength="43.8" lengthAdjust="spacingAndGlyphs">11.3 (11.1–11.4)</text>
<text x="531.8" y="113.74" font-size="7.0" fill="#3a3a3a" textLength="25.7" lengthAdjust="spacingAndGlyphs">CF–CPY</text>
<text x="568.9" y="113.74" font-size="7.1" fill="#3a3a3a" textLength="49.0" lengthAdjust="spacingAndGlyphs">12.3 (12.2–12.4)</text>
<text x="531.8" y="128.6" font-size="7.0" fill="#3a3a3a" textLength="26.0" lengthAdjust="spacingAndGlyphs">CP–CPY</text>
<text x="568.9" y="128.6" font-size="7.1" fill="#3a3a3a" textLength="48.7" lengthAdjust="spacingAndGlyphs">10.2 (10.1–10.2)</text>
<text x="629.8" y="128.6" font-size="7.1" fill="#3a3a3a" textLength="54.0" lengthAdjust="spacingAndGlyphs">43.7 (40.8–46.5)</text>
<text x="531.8" y="143.46" font-size="7.0" fill="#3a3a3a" textLength="22.1" lengthAdjust="spacingAndGlyphs">TF–SiR</text>
<text x="568.9" y="143.46" font-size="7.1" fill="#3a3a3a" textLength="53.9" lengthAdjust="spacingAndGlyphs">50.0 (49.3–50.7)</text>
<text x="531.8" y="158.32" font-size="7.0" fill="#3a3a3a" textLength="22.8" lengthAdjust="spacingAndGlyphs">CF–SiR</text>
<text x="568.9" y="158.32" font-size="7.1" fill="#3a3a3a" textLength="54.3" lengthAdjust="spacingAndGlyphs">20.6 (20.3–20.8)</text>
<text x="531.8" y="173.18" font-size="7.0" fill="#3a3a3a" textLength="23.2" lengthAdjust="spacingAndGlyphs">CP–SiR</text>
<text x="568.9" y="173.18" font-size="7.1" fill="#3a3a3a" textLength="52.5" lengthAdjust="spacingAndGlyphs">33.3 (33.1–33.5)</text>
<text x="644.7" y="173.18" font-size="7.1" fill="#3a3a3a" textLength="18.1" lengthAdjust="spacingAndGlyphs">&gt;&gt; 90</text>
<text x="530.5" y="32.8" font-size="7.0" fill="#3a3a3a">Substrate</text>
<text x="628" y="26.8" font-size="7" fill="#3a3a3a" text-anchor="middle">t<tspan font-size="4.6" dy="1.6">1/2</tspan><tspan dy="-1.6"> (95% CI) (min)</tspan></text>
<text x="594" y="40" font-size="7.0" fill="#3a3a3a" text-anchor="middle">SNAP-tag2</text>
<text x="655.2" y="40" font-size="7" fill="#3a3a3a" text-anchor="middle">SNAP<tspan font-size="4.6" dy="1.6">f</tspan><tspan dy="-1.6">-tag</tspan></text>
<rect x="27" y="212" width="326" height="217" fill="#fff"/>
<defs><filter id="soft" x="-5%" y="-5%" width="110%" height="110%"><feTurbulence type="fractalNoise" baseFrequency="0.75" numOctaves="2" seed="7" result="noise"/><feColorMatrix in="noise" type="luminanceToAlpha" result="na"/><feComponentTransfer in="na" result="nb"><feFuncA type="linear" slope="2.0" intercept="0.12"/></feComponentTransfer><feComposite in="SourceGraphic" in2="nb" operator="in" result="tex"/><feGaussianBlur in="tex" stdDeviation="0.35"/></filter></defs>
<rect x="28.0" y="213.0" width="106.5" height="106.6" fill="#020101"/>
<g clip-path="url(#clip00)"><g filter="url(#soft)"><ellipse cx="84.9" cy="218.0" rx="4.2" ry="5.2" fill="#4a3216" transform="rotate(0 84.9 218.0)"/><ellipse cx="127.8" cy="216.7" rx="4.5" ry="3.5" fill="#20150a" transform="rotate(0 127.8 216.7)"/><ellipse cx="111.6" cy="231.7" rx="4.5" ry="3.7" fill="#20150a" transform="rotate(0 111.6 231.7)"/><ellipse cx="65.4" cy="237.9" rx="4.0" ry="3.7" fill="#eeb040" transform="rotate(-20 65.4 237.9)"/><ellipse cx="63.7" cy="246.2" rx="4.7" ry="3.5" fill="#eeb040" transform="rotate(0 63.7 246.2)"/><ellipse cx="75.4" cy="246.7" rx="3.7" ry="4.2" fill="#eeb040" transform="rotate(20 75.4 246.7)"/><ellipse cx="54.2" cy="252.4" rx="3.5" ry="4.5" fill="#eeb040" transform="rotate(0 54.2 252.4)"/><ellipse cx="99.1" cy="251.7" rx="4.2" ry="4.7" fill="#c08a34" transform="rotate(-15 99.1 251.7)"/><ellipse cx="110.3" cy="248.2" rx="4.2" ry="4.0" fill="#c08a34" transform="rotate(0 110.3 248.2)"/><ellipse cx="107.8" cy="257.4" rx="5.0" ry="3.7" fill="#946426" transform="rotate(-15 107.8 257.4)"/><ellipse cx="100.3" cy="265.4" rx="5.0" ry="3.7" fill="#946426" transform="rotate(10 100.3 265.4)"/><ellipse cx="43.7" cy="273.1" rx="4.5" ry="3.7" fill="#946426" transform="rotate(0 43.7 273.1)"/><ellipse cx="59.9" cy="272.4" rx="4.7" ry="3.5" fill="#946426" transform="rotate(0 59.9 272.4)"/><ellipse cx="85.9" cy="272.9" rx="3.7" ry="5.0" fill="#c08a34" transform="rotate(10 85.9 272.9)"/><ellipse cx="38.2" cy="284.1" rx="3.7" ry="4.0" fill="#eeb040" transform="rotate(-20 38.2 284.1)"/><ellipse cx="74.6" cy="285.8" rx="3.5" ry="5.0" fill="#eeb040" transform="rotate(-15 74.6 285.8)"/><ellipse cx="81.9" cy="283.1" rx="4.0" ry="4.2" fill="#c08a34" transform="rotate(0 81.9 283.1)"/><ellipse cx="67.2" cy="289.1" rx="4.5" ry="3.7" fill="#946426" transform="rotate(0 67.2 289.1)"/><ellipse cx="110.1" cy="287.8" rx="5.2" ry="4.7" fill="#eeb040" transform="rotate(0 110.1 287.8)"/><ellipse cx="113.6" cy="298.8" rx="5.0" ry="4.0" fill="#eeb040" transform="rotate(-15 113.6 298.8)"/><ellipse cx="51.4" cy="293.3" rx="4.2" ry="3.7" fill="#20150a" transform="rotate(0 51.4 293.3)"/><ellipse cx="70.2" cy="304.3" rx="5.2" ry="3.5" fill="#946426" transform="rotate(15 70.2 304.3)"/><ellipse cx="99.1" cy="312.0" rx="4.0" ry="4.7" fill="#eeb040" transform="rotate(0 99.1 312.0)"/><ellipse cx="95.8" cy="292.6" rx="3.5" ry="3.5" fill="#20150a" transform="rotate(0 95.8 292.6)"/><ellipse cx="34.2" cy="275.4" rx="3.0" ry="3.0" fill="#20150a" transform="rotate(0 34.2 275.4)"/><ellipse cx="87.4" cy="255.9" rx="3.2" ry="3.0" fill="#20150a" transform="rotate(0 87.4 255.9)"/><ellipse cx="59.9" cy="279.3" rx="3.2" ry="2.5" fill="#20150a" transform="rotate(0 59.9 279.3)"/><ellipse cx="115.5" cy="316.0" rx="3.5" ry="3.0" fill="#20150a" transform="rotate(0 115.5 316.0)"/></g></g>
<clipPath id="clip00"><rect x="28.0" y="213.0" width="106.5" height="106.6"/></clipPath>
<rect x="122.9" y="312.6" width="9.4" height="2.6" fill="#fff"/>
<rect x="136.4" y="213.0" width="106.4" height="106.6" fill="#020101"/>
<g clip-path="url(#clip10)"><g filter="url(#soft)"><ellipse cx="140.6" cy="219.5" rx="3.7" ry="3.0" fill="#eeb040" transform="rotate(-20 140.6 219.5)"/><ellipse cx="147.4" cy="229.5" rx="4.0" ry="3.0" fill="#eeb040" transform="rotate(-10 147.4 229.5)"/><ellipse cx="143.4" cy="236.4" rx="4.0" ry="4.0" fill="#4a3216" transform="rotate(0 143.4 236.4)"/><ellipse cx="154.9" cy="236.4" rx="3.2" ry="4.5" fill="#4a3216" transform="rotate(0 154.9 236.4)"/><ellipse cx="171.1" cy="237.9" rx="3.7" ry="3.7" fill="#4a3216" transform="rotate(0 171.1 237.9)"/><ellipse cx="191.8" cy="219.2" rx="4.5" ry="4.0" fill="#4a3216" transform="rotate(0 191.8 219.2)"/><ellipse cx="192.5" cy="241.9" rx="4.5" ry="5.0" fill="#eeb040" transform="rotate(15 192.5 241.9)"/><ellipse cx="159.8" cy="249.2" rx="3.2" ry="3.2" fill="#946426" transform="rotate(0 159.8 249.2)"/><ellipse cx="157.1" cy="256.6" rx="5.2" ry="4.2" fill="#c08a34" transform="rotate(0 157.1 256.6)"/><ellipse cx="175.6" cy="255.9" rx="2.7" ry="4.2" fill="#eeb040" transform="rotate(0 175.6 255.9)"/><ellipse cx="213.7" cy="253.9" rx="4.2" ry="5.0" fill="#eeb040" transform="rotate(10 213.7 253.9)"/><ellipse cx="195.5" cy="255.4" rx="3.7" ry="3.7" fill="#20150a" transform="rotate(0 195.5 255.4)"/><ellipse cx="225.4" cy="256.6" rx="3.5" ry="3.7" fill="#20150a" transform="rotate(0 225.4 256.6)"/><ellipse cx="235.2" cy="258.4" rx="3.7" ry="3.7" fill="#20150a" transform="rotate(0 235.2 258.4)"/><ellipse cx="219.2" cy="270.6" rx="4.0" ry="4.2" fill="#eeb040" transform="rotate(0 219.2 270.6)"/><ellipse cx="204.7" cy="275.6" rx="4.7" ry="4.0" fill="#946426" transform="rotate(15 204.7 275.6)"/><ellipse cx="225.4" cy="277.6" rx="3.5" ry="4.5" fill="#4a3216" transform="rotate(20 225.4 277.6)"/><ellipse cx="240.4" cy="267.4" rx="3.0" ry="3.2" fill="#946426" transform="rotate(0 240.4 267.4)"/><ellipse cx="235.7" cy="286.6" rx="4.5" ry="5.5" fill="#c08a34" transform="rotate(30 235.7 286.6)"/><ellipse cx="137.6" cy="298.8" rx="1.7" ry="2.5" fill="#c08a34" transform="rotate(0 137.6 298.8)"/><ellipse cx="137.1" cy="288.6" rx="1.2" ry="2.0" fill="#eeb040" transform="rotate(0 137.1 288.6)"/><ellipse cx="190.3" cy="304.8" rx="5.0" ry="3.7" fill="#4a3216" transform="rotate(15 190.3 304.8)"/><ellipse cx="211.0" cy="311.3" rx="4.2" ry="5.2" fill="#eeb040" transform="rotate(0 211.0 311.3)"/><ellipse cx="231.9" cy="309.8" rx="3.7" ry="3.5" fill="#c08a34" transform="rotate(0 231.9 309.8)"/><ellipse cx="237.2" cy="301.5" rx="2.7" ry="4.0" fill="#eeb040" transform="rotate(15 237.2 301.5)"/><ellipse cx="233.2" cy="224.7" rx="3.5" ry="3.5" fill="#20150a" transform="rotate(0 233.2 224.7)"/><ellipse cx="229.4" cy="235.7" rx="3.0" ry="3.5" fill="#20150a" transform="rotate(0 229.4 235.7)"/><ellipse cx="169.3" cy="286.1" rx="3.5" ry="3.0" fill="#20150a" transform="rotate(0 169.3 286.1)"/><ellipse cx="165.3" cy="305.0" rx="3.5" ry="3.5" fill="#20150a" transform="rotate(0 165.3 305.0)"/><ellipse cx="200.3" cy="311.3" rx="3.5" ry="3.0" fill="#4a3216" transform="rotate(0 200.3 311.3)"/><ellipse cx="218.5" cy="298.8" rx="3.5" ry="3.0" fill="#20150a" transform="rotate(0 218.5 298.8)"/><ellipse cx="198.0" cy="285.6" rx="3.5" ry="3.0" fill="#20150a" transform="rotate(0 198.0 285.6)"/><ellipse cx="184.8" cy="274.6" rx="3.2" ry="3.0" fill="#20150a" transform="rotate(0 184.8 274.6)"/></g></g>
<clipPath id="clip10"><rect x="136.4" y="213.0" width="106.4" height="106.6"/></clipPath>
<rect x="231.2" y="312.6" width="9.4" height="2.6" fill="#fff"/>
<rect x="244.9" y="213.0" width="106.8" height="106.6" fill="#020101"/>
<g clip-path="url(#clip20)"><g filter="url(#soft)"><ellipse cx="268.1" cy="219.0" rx="5.0" ry="4.5" fill="#4a3216" transform="rotate(0 268.1 219.0)"/><ellipse cx="289.5" cy="216.5" rx="2.5" ry="2.5" fill="#20150a" transform="rotate(0 289.5 216.5)"/><ellipse cx="296.5" cy="216.2" rx="3.0" ry="2.5" fill="#20150a" transform="rotate(0 296.5 216.2)"/><ellipse cx="267.6" cy="233.2" rx="3.2" ry="3.0" fill="#946426" transform="rotate(0 267.6 233.2)"/><ellipse cx="271.8" cy="234.9" rx="3.0" ry="3.2" fill="#946426" transform="rotate(0 271.8 234.9)"/><ellipse cx="281.6" cy="233.0" rx="4.7" ry="3.0" fill="#946426" transform="rotate(0 281.6 233.0)"/><ellipse cx="280.8" cy="242.7" rx="5.5" ry="7.0" fill="#eeb040" transform="rotate(20 280.8 242.7)"/><ellipse cx="306.5" cy="228.7" rx="4.0" ry="4.7" fill="#c08a34" transform="rotate(-30 306.5 228.7)"/><ellipse cx="299.3" cy="239.2" rx="4.7" ry="3.5" fill="#c08a34" transform="rotate(0 299.3 239.2)"/><ellipse cx="315.0" cy="240.4" rx="4.2" ry="5.2" fill="#c08a34" transform="rotate(-15 315.0 240.4)"/><ellipse cx="335.2" cy="238.2" rx="5.2" ry="4.2" fill="#c08a34" transform="rotate(20 335.2 238.2)"/><ellipse cx="247.6" cy="246.2" rx="3.5" ry="3.5" fill="#4a3216" transform="rotate(0 247.6 246.2)"/><ellipse cx="347.2" cy="246.7" rx="3.0" ry="3.5" fill="#20150a" transform="rotate(0 347.2 246.7)"/><ellipse cx="316.0" cy="261.6" rx="4.7" ry="4.2" fill="#4a3216" transform="rotate(0 316.0 261.6)"/><ellipse cx="269.8" cy="249.7" rx="3.5" ry="3.5" fill="#20150a" transform="rotate(0 269.8 249.7)"/><ellipse cx="256.6" cy="236.4" rx="3.2" ry="3.2" fill="#20150a" transform="rotate(0 256.6 236.4)"/><ellipse cx="280.8" cy="256.6" rx="3.2" ry="3.2" fill="#20150a" transform="rotate(0 280.8 256.6)"/><ellipse cx="250.9" cy="275.4" rx="4.5" ry="4.0" fill="#4a3216" transform="rotate(0 250.9 275.4)"/><ellipse cx="251.9" cy="284.1" rx="3.5" ry="3.0" fill="#20150a" transform="rotate(0 251.9 284.1)"/><ellipse cx="271.1" cy="290.6" rx="4.7" ry="4.0" fill="#c08a34" transform="rotate(15 271.1 290.6)"/><ellipse cx="259.9" cy="296.6" rx="4.5" ry="4.0" fill="#946426" transform="rotate(0 259.9 296.6)"/><ellipse cx="267.1" cy="304.3" rx="4.2" ry="4.5" fill="#eeb040" transform="rotate(0 267.1 304.3)"/><ellipse cx="263.6" cy="314.5" rx="4.0" ry="4.7" fill="#c08a34" transform="rotate(0 263.6 314.5)"/><ellipse cx="279.3" cy="302.3" rx="2.2" ry="2.2" fill="#eeb040" transform="rotate(0 279.3 302.3)"/><ellipse cx="284.1" cy="305.8" rx="3.5" ry="3.5" fill="#4a3216" transform="rotate(0 284.1 305.8)"/><ellipse cx="303.5" cy="278.1" rx="3.5" ry="4.5" fill="#eeb040" transform="rotate(15 303.5 278.1)"/><ellipse cx="308.8" cy="273.1" rx="4.5" ry="3.2" fill="#946426" transform="rotate(20 308.8 273.1)"/><ellipse cx="309.0" cy="284.1" rx="4.2" ry="4.5" fill="#4a3216" transform="rotate(0 309.0 284.1)"/><ellipse cx="298.8" cy="289.3" rx="5.5" ry="4.0" fill="#20150a" transform="rotate(-20 298.8 289.3)"/><ellipse cx="285.6" cy="314.5" rx="3.5" ry="3.0" fill="#20150a" transform="rotate(0 285.6 314.5)"/><ellipse cx="304.3" cy="315.3" rx="3.5" ry="3.0" fill="#20150a" transform="rotate(0 304.3 315.3)"/><ellipse cx="330.0" cy="313.8" rx="3.5" ry="3.0" fill="#20150a" transform="rotate(0 330.0 313.8)"/><ellipse cx="320.0" cy="316.0" rx="3.2" ry="2.7" fill="#20150a" transform="rotate(0 320.0 316.0)"/></g></g>
<clipPath id="clip20"><rect x="244.9" y="213.0" width="106.8" height="106.6"/></clipPath>
<rect x="340.1" y="312.6" width="9.4" height="2.6" fill="#fff"/>
<rect x="28.0" y="321.0" width="106.5" height="106.3" fill="#020101"/>
<g clip-path="url(#clip01)"><g filter="url(#soft)"><ellipse cx="32.2" cy="327.5" rx="3.7" ry="3.0" fill="#ac4a94" transform="rotate(-20 32.2 327.5)"/><ellipse cx="39.0" cy="337.5" rx="4.0" ry="3.0" fill="#ac4a94" transform="rotate(-10 39.0 337.5)"/><ellipse cx="35.0" cy="344.4" rx="4.0" ry="4.0" fill="#3c1c3c" transform="rotate(0 35.0 344.4)"/><ellipse cx="46.5" cy="344.4" rx="3.2" ry="4.5" fill="#3c1c3c" transform="rotate(0 46.5 344.4)"/><ellipse cx="62.7" cy="345.9" rx="3.7" ry="3.7" fill="#3c1c3c" transform="rotate(0 62.7 345.9)"/><ellipse cx="83.4" cy="327.2" rx="4.5" ry="4.0" fill="#3c1c3c" transform="rotate(0 83.4 327.2)"/><ellipse cx="84.1" cy="349.9" rx="4.5" ry="5.0" fill="#ac4a94" transform="rotate(15 84.1 349.9)"/><ellipse cx="51.4" cy="357.2" rx="3.2" ry="3.2" fill="#6a2c64" transform="rotate(0 51.4 357.2)"/><ellipse cx="48.7" cy="364.6" rx="5.2" ry="4.2" fill="#8c3a80" transform="rotate(0 48.7 364.6)"/><ellipse cx="67.2" cy="363.9" rx="2.7" ry="4.2" fill="#ac4a94" transform="rotate(0 67.2 363.9)"/><ellipse cx="105.3" cy="361.9" rx="4.2" ry="5.0" fill="#ac4a94" transform="rotate(10 105.3 361.9)"/><ellipse cx="87.1" cy="363.4" rx="3.7" ry="3.7" fill="#1c0e1c" transform="rotate(0 87.1 363.4)"/><ellipse cx="117.0" cy="364.6" rx="3.5" ry="3.7" fill="#1c0e1c" transform="rotate(0 117.0 364.6)"/><ellipse cx="126.8" cy="366.4" rx="3.7" ry="3.7" fill="#1c0e1c" transform="rotate(0 126.8 366.4)"/><ellipse cx="110.8" cy="378.6" rx="4.0" ry="4.2" fill="#ac4a94" transform="rotate(0 110.8 378.6)"/><ellipse cx="96.3" cy="383.6" rx="4.7" ry="4.0" fill="#6a2c64" transform="rotate(15 96.3 383.6)"/><ellipse cx="117.0" cy="385.6" rx="3.5" ry="4.5" fill="#3c1c3c" transform="rotate(20 117.0 385.6)"/><ellipse cx="132.0" cy="375.4" rx="3.0" ry="3.2" fill="#6a2c64" transform="rotate(0 132.0 375.4)"/><ellipse cx="127.3" cy="394.6" rx="4.5" ry="5.5" fill="#8c3a80" transform="rotate(30 127.3 394.6)"/><ellipse cx="29.2" cy="406.8" rx="1.7" ry="2.5" fill="#8c3a80" transform="rotate(0 29.2 406.8)"/><ellipse cx="28.7" cy="396.6" rx="1.2" ry="2.0" fill="#ac4a94" transform="rotate(0 28.7 396.6)"/><ellipse cx="81.9" cy="412.8" rx="5.0" ry="3.7" fill="#3c1c3c" transform="rotate(15 81.9 412.8)"/><ellipse cx="102.6" cy="419.3" rx="4.2" ry="5.2" fill="#ac4a94" transform="rotate(0 102.6 419.3)"/><ellipse cx="123.5" cy="417.8" rx="3.7" ry="3.5" fill="#8c3a80" transform="rotate(0 123.5 417.8)"/><ellipse cx="128.8" cy="409.5" rx="2.7" ry="4.0" fill="#ac4a94" transform="rotate(15 128.8 409.5)"/><ellipse cx="124.8" cy="332.7" rx="3.5" ry="3.5" fill="#1c0e1c" transform="rotate(0 124.8 332.7)"/><ellipse cx="121.0" cy="343.7" rx="3.0" ry="3.5" fill="#1c0e1c" transform="rotate(0 121.0 343.7)"/><ellipse cx="60.9" cy="394.1" rx="3.5" ry="3.0" fill="#1c0e1c" transform="rotate(0 60.9 394.1)"/><ellipse cx="56.9" cy="413.0" rx="3.5" ry="3.5" fill="#1c0e1c" transform="rotate(0 56.9 413.0)"/><ellipse cx="91.9" cy="419.3" rx="3.5" ry="3.0" fill="#3c1c3c" transform="rotate(0 91.9 419.3)"/><ellipse cx="110.1" cy="406.8" rx="3.5" ry="3.0" fill="#1c0e1c" transform="rotate(0 110.1 406.8)"/><ellipse cx="89.6" cy="393.6" rx="3.5" ry="3.0" fill="#1c0e1c" transform="rotate(0 89.6 393.6)"/><ellipse cx="76.4" cy="382.6" rx="3.2" ry="3.0" fill="#1c0e1c" transform="rotate(0 76.4 382.6)"/></g></g>
<clipPath id="clip01"><rect x="28.0" y="321.0" width="106.5" height="106.3"/></clipPath>
<rect x="122.9" y="420.3" width="9.4" height="2.6" fill="#fff"/>
<rect x="136.4" y="321.0" width="106.4" height="106.3" fill="#020101"/>
<g clip-path="url(#clip11)"><g filter="url(#soft)"><ellipse cx="193.3" cy="326.0" rx="4.2" ry="5.2" fill="#20143a" transform="rotate(0 193.3 326.0)"/><ellipse cx="236.2" cy="324.7" rx="4.5" ry="3.5" fill="#120a1e" transform="rotate(0 236.2 324.7)"/><ellipse cx="220.0" cy="339.7" rx="4.5" ry="3.7" fill="#120a1e" transform="rotate(0 220.0 339.7)"/><ellipse cx="173.8" cy="345.9" rx="4.0" ry="3.7" fill="#402472" transform="rotate(-20 173.8 345.9)"/><ellipse cx="172.1" cy="354.2" rx="4.7" ry="3.5" fill="#402472" transform="rotate(0 172.1 354.2)"/><ellipse cx="183.8" cy="354.7" rx="3.7" ry="4.2" fill="#402472" transform="rotate(20 183.8 354.7)"/><ellipse cx="162.6" cy="360.4" rx="3.5" ry="4.5" fill="#402472" transform="rotate(0 162.6 360.4)"/><ellipse cx="207.5" cy="359.7" rx="4.2" ry="4.7" fill="#382064" transform="rotate(-15 207.5 359.7)"/><ellipse cx="218.7" cy="356.2" rx="4.2" ry="4.0" fill="#382064" transform="rotate(0 218.7 356.2)"/><ellipse cx="216.2" cy="365.4" rx="5.0" ry="3.7" fill="#2e1a54" transform="rotate(-15 216.2 365.4)"/><ellipse cx="208.7" cy="373.4" rx="5.0" ry="3.7" fill="#2e1a54" transform="rotate(10 208.7 373.4)"/><ellipse cx="152.1" cy="381.1" rx="4.5" ry="3.7" fill="#2e1a54" transform="rotate(0 152.1 381.1)"/><ellipse cx="168.3" cy="380.4" rx="4.7" ry="3.5" fill="#2e1a54" transform="rotate(0 168.3 380.4)"/><ellipse cx="194.3" cy="380.9" rx="3.7" ry="5.0" fill="#382064" transform="rotate(10 194.3 380.9)"/><ellipse cx="146.6" cy="392.1" rx="3.7" ry="4.0" fill="#402472" transform="rotate(-20 146.6 392.1)"/><ellipse cx="183.0" cy="393.8" rx="3.5" ry="5.0" fill="#402472" transform="rotate(-15 183.0 393.8)"/><ellipse cx="190.3" cy="391.1" rx="4.0" ry="4.2" fill="#382064" transform="rotate(0 190.3 391.1)"/><ellipse cx="175.6" cy="397.1" rx="4.5" ry="3.7" fill="#2e1a54" transform="rotate(0 175.6 397.1)"/><ellipse cx="218.5" cy="395.8" rx="5.2" ry="4.7" fill="#402472" transform="rotate(0 218.5 395.8)"/><ellipse cx="222.0" cy="406.8" rx="5.0" ry="4.0" fill="#402472" transform="rotate(-15 222.0 406.8)"/><ellipse cx="159.8" cy="401.3" rx="4.2" ry="3.7" fill="#120a1e" transform="rotate(0 159.8 401.3)"/><ellipse cx="178.6" cy="412.3" rx="5.2" ry="3.5" fill="#2e1a54" transform="rotate(15 178.6 412.3)"/><ellipse cx="207.5" cy="420.0" rx="4.0" ry="4.7" fill="#402472" transform="rotate(0 207.5 420.0)"/><ellipse cx="204.2" cy="400.6" rx="3.5" ry="3.5" fill="#120a1e" transform="rotate(0 204.2 400.6)"/><ellipse cx="142.6" cy="383.4" rx="3.0" ry="3.0" fill="#120a1e" transform="rotate(0 142.6 383.4)"/><ellipse cx="195.8" cy="363.9" rx="3.2" ry="3.0" fill="#120a1e" transform="rotate(0 195.8 363.9)"/><ellipse cx="168.3" cy="387.3" rx="3.2" ry="2.5" fill="#120a1e" transform="rotate(0 168.3 387.3)"/><ellipse cx="223.9" cy="424.0" rx="3.5" ry="3.0" fill="#120a1e" transform="rotate(0 223.9 424.0)"/></g></g>
<clipPath id="clip11"><rect x="136.4" y="321.0" width="106.4" height="106.3"/></clipPath>
<rect x="231.2" y="420.3" width="9.4" height="2.6" fill="#fff"/>
<rect x="244.9" y="321.0" width="106.8" height="106.3" fill="#020101"/>
<g clip-path="url(#clip21)"><g filter="url(#soft)"><ellipse cx="293.5" cy="327.2" rx="3.5" ry="3.0" fill="#0a0a16" transform="rotate(0 293.5 327.2)"/><ellipse cx="319.2" cy="335.5" rx="3.7" ry="3.5" fill="#101026" transform="rotate(0 319.2 335.5)"/><ellipse cx="258.6" cy="339.0" rx="3.7" ry="3.5" fill="#101026" transform="rotate(0 258.6 339.0)"/><ellipse cx="249.9" cy="339.7" rx="3.0" ry="3.0" fill="#0a0a16" transform="rotate(0 249.9 339.7)"/><ellipse cx="304.8" cy="347.9" rx="4.5" ry="3.5" fill="#101026" transform="rotate(0 304.8 347.9)"/><ellipse cx="322.7" cy="348.4" rx="4.5" ry="3.7" fill="#101026" transform="rotate(0 322.7 348.4)"/><ellipse cx="296.0" cy="357.2" rx="5.0" ry="3.7" fill="#101026" transform="rotate(0 296.0 357.2)"/><ellipse cx="332.2" cy="374.6" rx="3.5" ry="3.5" fill="#101026" transform="rotate(0 332.2 374.6)"/><ellipse cx="319.7" cy="378.4" rx="3.5" ry="3.7" fill="#101026" transform="rotate(0 319.7 378.4)"/><ellipse cx="290.5" cy="387.8" rx="4.0" ry="5.5" fill="#1a1a3a" transform="rotate(0 290.5 387.8)"/><ellipse cx="291.0" cy="413.3" rx="3.0" ry="4.5" fill="#141430" transform="rotate(0 291.0 413.3)"/><ellipse cx="301.0" cy="420.3" rx="4.0" ry="3.7" fill="#101026" transform="rotate(0 301.0 420.3)"/><ellipse cx="338.4" cy="323.5" rx="3.0" ry="2.5" fill="#0a0a16" transform="rotate(0 338.4 323.5)"/></g></g>
<clipPath id="clip21"><rect x="244.9" y="321.0" width="106.8" height="106.3"/></clipPath>
<rect x="340.1" y="420.3" width="9.4" height="2.6" fill="#fff"/>
<defs><linearGradient id="cb1" x1="0" y1="0" x2="0" y2="1">
<stop offset="0" stop-color="#faf8e8"/><stop offset="0.1" stop-color="#f2ee9a"/><stop offset="0.25" stop-color="#e8e242"/>
<stop offset="0.4" stop-color="#f0cc2c"/><stop offset="0.5" stop-color="#f6aa22"/><stop offset="0.6" stop-color="#ee8c30"/>
<stop offset="0.7" stop-color="#c06a30"/><stop offset="0.82" stop-color="#7c4020"/><stop offset="0.92" stop-color="#3c1e0c"/><stop offset="1" stop-color="#0c0602"/></linearGradient>
<linearGradient id="cb2" x1="0" y1="0" x2="0" y2="1">
<stop offset="0" stop-color="#fcfdbf"/><stop offset="0.12" stop-color="#fec98d"/><stop offset="0.25" stop-color="#fd9567"/>
<stop offset="0.37" stop-color="#f1605d"/><stop offset="0.5" stop-color="#cd4071"/><stop offset="0.62" stop-color="#9e2f7f"/>
<stop offset="0.75" stop-color="#721f81"/><stop offset="0.87" stop-color="#440f76"/><stop offset="0.95" stop-color="#180f3d"/><stop offset="1" stop-color="#000004"/></linearGradient></defs>
<rect x="353.1" y="214" width="4.7" height="106" fill="url(#cb1)"/>
<rect x="353.1" y="321" width="4.7" height="106.5" fill="url(#cb2)"/>
<text x="361.9" y="219.8" font-size="7.6" fill="#444">2</text>
<text x="361.9" y="319.6" font-size="7.6" fill="#444">0</text>
<text x="361.9" y="327.3" font-size="7.6" fill="#444">2</text>
<text x="361.9" y="427.4" font-size="7.6" fill="#444">0</text>
<text x="80.3" y="209.8" font-size="8.6" fill="#3a3a3a" text-anchor="middle" textLength="37" lengthAdjust="spacingAndGlyphs">HaloTag7</text>
<text x="189.6" y="209.8" font-size="8.6" fill="#3a3a3a" text-anchor="middle">SNAP-tag2</text>
<text x="298.3" y="209.8" font-size="8.6" fill="#3a3a3a" text-anchor="middle">SNAP<tspan font-size="5.6" dy="2">f</tspan><tspan dy="-2">-tag</tspan></text>
<text x="10.0" y="266.0" font-size="9.0" fill="#3a3a3a" text-anchor="middle" textLength="85.0" lengthAdjust="spacingAndGlyphs" transform="rotate(-90 10.0 266.0)">Fluoresence intensity</text>
<text x="20.3" y="266.35" font-size="9.0" fill="#3a3a3a" text-anchor="middle" textLength="92.7" lengthAdjust="spacingAndGlyphs" transform="rotate(-90 20.3 266.35)">ratio TMR/mTurquoise2</text>
<text x="10.0" y="373.8" font-size="9.0" fill="#3a3a3a" text-anchor="middle" textLength="84.6" lengthAdjust="spacingAndGlyphs" transform="rotate(-90 10.0 373.8)">Fluoresence intensity</text>
<text x="20.3" y="373.8" font-size="9.0" fill="#3a3a3a" text-anchor="middle" textLength="105.6" lengthAdjust="spacingAndGlyphs" transform="rotate(-90 20.3 373.8)">ratio MaP618/mTurquoise2</text>
<line x1="416.50" y1="378.20" x2="523.60" y2="378.20" stroke="#d2d2d2" stroke-width="1.1"/>
<line x1="416.50" y1="378.20" x2="416.50" y2="220.30" stroke="#7a7a7a" stroke-width="0.85"/>
<line x1="411.30" y1="299.20" x2="416.50" y2="299.20" stroke="#5a5a5a" stroke-width="0.85"/>
<line x1="414.10" y1="367.70" x2="416.50" y2="367.70" stroke="#5a5a5a" stroke-width="0.85"/>
<line x1="414.10" y1="351.33" x2="416.50" y2="351.33" stroke="#5a5a5a" stroke-width="0.85"/>
<line x1="414.10" y1="338.63" x2="416.50" y2="338.63" stroke="#5a5a5a" stroke-width="0.85"/>
<line x1="414.10" y1="328.26" x2="416.50" y2="328.26" stroke="#5a5a5a" stroke-width="0.85"/>
<line x1="414.10" y1="319.49" x2="416.50" y2="319.49" stroke="#5a5a5a" stroke-width="0.85"/>
<line x1="414.10" y1="311.90" x2="416.50" y2="311.90" stroke="#5a5a5a" stroke-width="0.85"/>
<line x1="414.10" y1="305.19" x2="416.50" y2="305.19" stroke="#5a5a5a" stroke-width="0.85"/>
<line x1="414.10" y1="259.77" x2="416.50" y2="259.77" stroke="#5a5a5a" stroke-width="0.85"/>
<line x1="414.10" y1="236.70" x2="416.50" y2="236.70" stroke="#5a5a5a" stroke-width="0.85"/>
<text x="407.3" y="301.8" font-size="7.4" fill="#444" text-anchor="end">1</text>
<line x1="437.50" y1="378.20" x2="437.50" y2="382.70" stroke="#5a5a5a" stroke-width="0.85"/>
<line x1="469.90" y1="378.20" x2="469.90" y2="382.70" stroke="#5a5a5a" stroke-width="0.85"/>
<line x1="502.00" y1="378.20" x2="502.00" y2="382.70" stroke="#5a5a5a" stroke-width="0.85"/>
<text x="442.7" y="390.0" font-size="8.8" fill="#3a3a3a" text-anchor="end" transform="rotate(-45 442.7 390.0)">HaloTag7</text>
<text x="475.1" y="390.0" font-size="8.8" fill="#3a3a3a" text-anchor="end" transform="rotate(-45 475.1 390.0)">SNAP-tag2</text>
<text x="507.2" y="390.0" font-size="8.8" fill="#3a3a3a" text-anchor="end" transform="rotate(-45 507.2 390.0)">SNAP<tspan font-size="5.4" dy="1.8">f</tspan><tspan dy="-1.8">-tag</tspan></text>
<text x="474.4" y="219.0" font-size="8.2" fill="#3a3a3a" text-anchor="middle" textLength="16.6" lengthAdjust="spacingAndGlyphs">TMR</text>
<text x="397.2" y="298.7" font-size="9" fill="#3a3a3a" text-anchor="middle" textLength="136.6" lengthAdjust="spacingAndGlyphs" transform="rotate(-90 397.2 298.7)">Normalized fluorescence intensity</text>
<path d="M437.5 275 V246.6 H502 V260.7 M469.8 246.6 V254" stroke="#777" stroke-width="0.7" fill="none"/>
<text x="454.0" y="244.6" font-size="6.6" fill="#3a3a3a" text-anchor="middle">1.4 ×</text>
<text x="486.8" y="244.4" font-size="6.6" fill="#3a3a3a" text-anchor="middle">1.2 ×</text>
<polygon points="447.06,249.60 447.59,250.87 448.96,250.98 447.92,251.88 448.24,253.22 447.06,252.50 445.89,253.22 446.21,251.88 445.16,250.98 446.53,250.87" fill="#3a3a3a"/>
<polygon points="451.59,249.60 452.12,250.87 453.49,250.98 452.44,251.88 452.76,253.22 451.59,252.50 450.41,253.22 450.73,251.88 449.69,250.98 451.06,250.87" fill="#3a3a3a"/>
<polygon points="456.11,249.60 456.64,250.87 458.01,250.98 456.97,251.88 457.29,253.22 456.11,252.50 454.94,253.22 455.26,251.88 454.21,250.98 455.58,250.87" fill="#3a3a3a"/>
<polygon points="460.64,249.60 461.17,250.87 462.54,250.98 461.49,251.88 461.81,253.22 460.64,252.50 459.46,253.22 459.78,251.88 458.74,250.98 460.11,250.87" fill="#3a3a3a"/>
<polygon points="482.42,249.90 482.95,251.17 484.32,251.28 483.27,252.18 483.59,253.52 482.42,252.80 481.24,253.52 481.56,252.18 480.51,251.28 481.89,251.17" fill="#3a3a3a"/>
<polygon points="486.65,249.90 487.18,251.17 488.55,251.28 487.51,252.18 487.83,253.52 486.65,252.80 485.47,253.52 485.79,252.18 484.75,251.28 486.12,251.17" fill="#3a3a3a"/>
<polygon points="490.88,249.90 491.41,251.17 492.79,251.28 491.74,252.18 492.06,253.52 490.88,252.80 489.71,253.52 490.03,252.18 488.98,251.28 490.35,251.17" fill="#3a3a3a"/>
<line x1="437.50" y1="341.50" x2="437.50" y2="345.60" stroke="#2a1a1a" stroke-width="0.7"/>
<path d="M437.50 277.50 L437.60 278.22 L437.73 278.94 L437.88 279.66 L438.07 280.38 L438.28 281.10 L438.51 281.81 L438.79 282.53 L438.92 283.25 L438.98 283.97 L439.00 284.69 L438.93 285.41 L438.72 286.13 L438.48 286.85 L438.15 287.57 L437.87 288.29 L437.85 289.01 L437.85 289.72 L437.85 290.44 L437.85 291.16 L437.85 291.88 L437.85 292.60 L437.85 293.32 L437.85 294.04 L437.85 294.76 L437.85 295.48 L437.89 296.20 L438.53 296.92 L439.49 297.63 L440.86 298.35 L442.53 299.07 L444.18 299.79 L445.95 300.51 L447.07 301.23 L447.76 301.95 L448.02 302.67 L448.08 303.39 L448.10 304.11 L447.94 304.83 L447.69 305.54 L447.41 306.26 L447.09 306.98 L446.79 307.70 L446.49 308.42 L446.18 309.14 L445.86 309.86 L445.52 310.58 L445.15 311.30 L444.79 312.02 L444.46 312.74 L444.14 313.46 L443.83 314.17 L443.54 314.89 L443.27 315.61 L443.02 316.33 L442.78 317.05 L442.56 317.77 L442.37 318.49 L442.19 319.21 L442.02 319.93 L441.87 320.65 L441.73 321.37 L441.59 322.08 L441.46 322.80 L441.35 323.52 L441.28 324.24 L441.22 324.96 L441.18 325.68 L441.14 326.40 L441.09 327.12 L441.05 327.84 L441.00 328.56 L440.95 329.28 L440.90 329.99 L440.84 330.71 L440.79 331.43 L440.72 332.15 L440.65 332.87 L440.56 333.59 L440.45 334.31 L440.29 335.03 L440.08 335.75 L439.83 336.47 L439.49 337.19 L439.14 337.90 L438.82 338.62 L438.50 339.34 L438.17 340.06 L437.84 340.78 L437.50 341.50 L437.50 341.50 L437.16 340.78 L436.83 340.06 L436.50 339.34 L436.18 338.62 L435.86 337.90 L435.51 337.19 L435.17 336.47 L434.92 335.75 L434.71 335.03 L434.55 334.31 L434.44 333.59 L434.35 332.87 L434.28 332.15 L434.21 331.43 L434.16 330.71 L434.10 329.99 L434.05 329.28 L434.00 328.56 L433.95 327.84 L433.91 327.12 L433.86 326.40 L433.82 325.68 L433.78 324.96 L433.72 324.24 L433.65 323.52 L433.54 322.80 L433.41 322.08 L433.27 321.37 L433.13 320.65 L432.98 319.93 L432.81 319.21 L432.63 318.49 L432.44 317.77 L432.22 317.05 L431.98 316.33 L431.73 315.61 L431.46 314.89 L431.17 314.17 L430.86 313.46 L430.54 312.74 L430.21 312.02 L429.85 311.30 L429.48 310.58 L429.14 309.86 L428.82 309.14 L428.51 308.42 L428.21 307.70 L427.91 306.98 L427.59 306.26 L427.31 305.54 L427.06 304.83 L426.90 304.11 L426.92 303.39 L426.98 302.67 L427.24 301.95 L427.93 301.23 L429.05 300.51 L430.82 299.79 L432.47 299.07 L434.14 298.35 L435.51 297.63 L436.47 296.92 L437.11 296.20 L437.15 295.48 L437.15 294.76 L437.15 294.04 L437.15 293.32 L437.15 292.60 L437.15 291.88 L437.15 291.16 L437.15 290.44 L437.15 289.72 L437.15 289.01 L437.13 288.29 L436.85 287.57 L436.52 286.85 L436.28 286.13 L436.07 285.41 L436.00 284.69 L436.02 283.97 L436.08 283.25 L436.21 282.53 L436.49 281.81 L436.72 281.10 L436.93 280.38 L437.12 279.66 L437.27 278.94 L437.40 278.22 L437.50 277.50Z" fill="#e46a72" stroke="#2a1a1a" stroke-width="0.7" stroke-linejoin="round"/>
<path d="M436.6 326.3h0.8M438.9 310.9h0.8M438.6 322.4h0.8M438.3 323.4h0.8M436.6 331.0h0.8M438.1 332.2h0.8M439.2 302.7h0.8M437.2 321.5h0.8M438.2 322.4h0.8M437.6 328.6h0.8M439.1 323.7h0.8M435.3 309.1h0.8M438.3 318.5h0.8M435.8 329.0h0.8M437.4 324.0h0.8M438.2 305.2h0.8M440.0 302.9h0.8M437.3 310.6h0.8M440.0 332.8h0.8M437.6 312.6h0.8M437.8 332.1h0.8M436.3 322.8h0.8" stroke="#2a1010" stroke-width="0.6" stroke-opacity="0.85"/>
<line x1="427.7" y1="304.4" x2="447.3" y2="304.4" stroke="#2a1010" stroke-width="0.7" stroke-dasharray="0.7 1.6"/>
<line x1="430.5" y1="312.6" x2="444.5" y2="312.6" stroke="#2a1010" stroke-width="0.8" stroke-dasharray="1.5 0.9"/>
<line x1="432.9" y1="319.5" x2="442.1" y2="319.5" stroke="#2a1010" stroke-width="0.7" stroke-dasharray="0.7 1.6"/>
<line x1="469.60" y1="288.60" x2="469.60" y2="290.30" stroke="#1a0808" stroke-width="0.7"/>
<path d="M469.60 255.80 L469.74 256.17 L469.87 256.54 L470.00 256.91 L470.13 257.27 L470.25 257.64 L470.36 258.01 L470.47 258.38 L470.58 258.75 L470.69 259.12 L470.81 259.49 L470.95 259.85 L471.09 260.22 L471.23 260.59 L471.38 260.96 L471.53 261.33 L471.67 261.70 L471.82 262.07 L471.95 262.43 L472.07 262.80 L472.18 263.17 L472.27 263.54 L472.35 263.91 L472.42 264.28 L472.49 264.64 L472.57 265.01 L472.66 265.38 L472.76 265.75 L472.89 266.12 L473.04 266.49 L473.28 266.86 L473.61 267.22 L474.00 267.59 L474.43 267.96 L474.88 268.33 L475.32 268.70 L475.82 269.07 L476.39 269.44 L476.97 269.80 L477.53 270.17 L478.02 270.54 L478.41 270.91 L478.78 271.28 L479.14 271.65 L479.46 272.02 L479.71 272.38 L479.87 272.75 L479.89 273.12 L479.72 273.49 L479.41 273.86 L479.07 274.23 L478.64 274.60 L478.11 274.96 L477.79 275.33 L477.65 275.70 L477.53 276.07 L477.45 276.44 L477.41 276.81 L477.43 277.18 L477.69 277.54 L478.11 277.91 L478.58 278.28 L479.00 278.65 L479.26 279.02 L479.29 279.39 L479.25 279.76 L479.18 280.12 L479.07 280.49 L478.95 280.86 L478.81 281.23 L478.66 281.60 L478.44 281.97 L478.14 282.33 L477.78 282.70 L477.37 283.07 L476.93 283.44 L476.47 283.81 L476.00 284.18 L475.46 284.55 L474.85 284.91 L474.20 285.28 L473.55 285.65 L472.93 286.02 L472.37 286.39 L471.87 286.76 L471.40 287.13 L470.94 287.49 L470.49 287.86 L470.04 288.23 L469.60 288.60 L469.60 288.60 L469.16 288.23 L468.71 287.86 L468.26 287.49 L467.80 287.13 L467.33 286.76 L466.83 286.39 L466.27 286.02 L465.65 285.65 L465.00 285.28 L464.35 284.91 L463.74 284.55 L463.20 284.18 L462.73 283.81 L462.27 283.44 L461.83 283.07 L461.42 282.70 L461.06 282.33 L460.76 281.97 L460.54 281.60 L460.39 281.23 L460.25 280.86 L460.13 280.49 L460.02 280.12 L459.95 279.76 L459.91 279.39 L459.94 279.02 L460.20 278.65 L460.62 278.28 L461.09 277.91 L461.51 277.54 L461.77 277.18 L461.79 276.81 L461.75 276.44 L461.67 276.07 L461.55 275.70 L461.41 275.33 L461.09 274.96 L460.56 274.60 L460.13 274.23 L459.79 273.86 L459.48 273.49 L459.31 273.12 L459.33 272.75 L459.49 272.38 L459.74 272.02 L460.06 271.65 L460.42 271.28 L460.79 270.91 L461.18 270.54 L461.67 270.17 L462.23 269.80 L462.81 269.44 L463.38 269.07 L463.88 268.70 L464.32 268.33 L464.77 267.96 L465.20 267.59 L465.59 267.22 L465.92 266.86 L466.16 266.49 L466.31 266.12 L466.44 265.75 L466.54 265.38 L466.63 265.01 L466.71 264.64 L466.78 264.28 L466.85 263.91 L466.93 263.54 L467.02 263.17 L467.13 262.80 L467.25 262.43 L467.38 262.07 L467.53 261.70 L467.67 261.33 L467.82 260.96 L467.97 260.59 L468.11 260.22 L468.25 259.85 L468.39 259.49 L468.51 259.12 L468.62 258.75 L468.73 258.38 L468.84 258.01 L468.95 257.64 L469.07 257.27 L469.20 256.91 L469.33 256.54 L469.46 256.17 L469.60 255.80Z" fill="#b01828" stroke="#1a0808" stroke-width="0.7" stroke-linejoin="round"/>
<path d="M469.6 271.9h0.8M469.1 276.8h0.8M471.0 277.2h0.8M470.8 268.1h0.8M467.1 269.9h0.8M468.7 271.1h0.8M469.2 284.1h0.8M469.9 271.6h0.8M470.3 267.2h0.8M469.3 279.9h0.8M470.5 273.0h0.8M469.1 281.3h0.8M469.9 282.1h0.8M471.0 272.5h0.8M470.6 283.6h0.8M470.6 269.3h0.8M470.9 267.1h0.8M469.7 276.1h0.8M468.4 272.3h0.8M469.1 269.8h0.8M468.7 273.2h0.8M470.7 266.9h0.8M471.3 271.3h0.8M469.7 267.1h0.8M470.3 283.3h0.8M469.2 275.3h0.8" stroke="#2a0505" stroke-width="0.6" stroke-opacity="0.85"/>
<line x1="460.8" y1="271.7" x2="478.4" y2="271.7" stroke="#1a0505" stroke-width="0.7" stroke-dasharray="0.7 1.6"/>
<line x1="461.6" y1="275.3" x2="477.6" y2="275.3" stroke="#1a0505" stroke-width="0.8" stroke-dasharray="1.5 0.9"/>
<line x1="460.4" y1="280.6" x2="478.8" y2="280.6" stroke="#1a0505" stroke-width="0.7" stroke-dasharray="0.7 1.6"/>
<line x1="502.00" y1="322.00" x2="502.00" y2="326.00" stroke="#2a1408" stroke-width="0.7"/>
<path d="M502.00 262.90 L502.10 263.56 L502.30 264.23 L502.62 264.89 L503.16 265.56 L503.47 266.22 L503.64 266.88 L503.76 267.55 L503.80 268.21 L503.71 268.88 L503.52 269.54 L503.30 270.20 L502.86 270.87 L502.50 271.53 L502.76 272.20 L503.24 272.86 L503.48 273.52 L503.68 274.19 L503.79 274.85 L503.77 275.52 L503.63 276.18 L503.42 276.84 L503.14 277.51 L502.65 278.17 L502.54 278.84 L502.90 279.50 L503.29 280.17 L503.50 280.83 L503.69 281.49 L503.79 282.16 L503.77 282.82 L503.63 283.49 L503.42 284.15 L503.12 284.81 L502.60 285.48 L502.51 286.14 L502.55 286.81 L502.70 287.47 L503.24 288.13 L503.93 288.80 L504.80 289.46 L505.79 290.13 L506.96 290.79 L508.30 291.45 L509.40 292.12 L510.13 292.78 L510.76 293.45 L511.30 294.11 L511.73 294.77 L512.06 295.44 L512.36 296.10 L512.62 296.77 L512.77 297.43 L512.76 298.09 L512.41 298.76 L511.85 299.42 L511.25 300.09 L510.73 300.75 L510.20 301.41 L509.64 302.08 L509.09 302.74 L508.57 303.41 L508.06 304.07 L507.55 304.73 L507.06 305.40 L506.65 306.06 L506.35 306.73 L506.13 307.39 L505.94 308.06 L505.78 308.72 L505.64 309.38 L505.51 310.05 L505.40 310.71 L505.30 311.38 L505.23 312.04 L505.16 312.70 L505.09 313.37 L505.01 314.03 L504.92 314.70 L504.79 315.36 L504.63 316.02 L504.45 316.69 L504.25 317.35 L504.03 318.02 L503.78 318.68 L503.50 319.34 L503.20 320.01 L502.85 320.67 L502.45 321.34 L502.00 322.00 L502.00 322.00 L501.55 321.34 L501.15 320.67 L500.80 320.01 L500.50 319.34 L500.22 318.68 L499.97 318.02 L499.75 317.35 L499.55 316.69 L499.37 316.02 L499.21 315.36 L499.08 314.70 L498.99 314.03 L498.91 313.37 L498.84 312.70 L498.77 312.04 L498.70 311.38 L498.60 310.71 L498.49 310.05 L498.36 309.38 L498.22 308.72 L498.06 308.06 L497.87 307.39 L497.65 306.73 L497.35 306.06 L496.94 305.40 L496.45 304.73 L495.94 304.07 L495.43 303.41 L494.91 302.74 L494.36 302.08 L493.80 301.41 L493.27 300.75 L492.75 300.09 L492.15 299.42 L491.59 298.76 L491.24 298.09 L491.23 297.43 L491.38 296.77 L491.64 296.10 L491.94 295.44 L492.27 294.77 L492.70 294.11 L493.24 293.45 L493.87 292.78 L494.60 292.12 L495.70 291.45 L497.04 290.79 L498.21 290.13 L499.20 289.46 L500.07 288.80 L500.76 288.13 L501.30 287.47 L501.45 286.81 L501.49 286.14 L501.40 285.48 L500.88 284.81 L500.58 284.15 L500.37 283.49 L500.23 282.82 L500.21 282.16 L500.31 281.49 L500.50 280.83 L500.71 280.17 L501.10 279.50 L501.46 278.84 L501.35 278.17 L500.86 277.51 L500.58 276.84 L500.37 276.18 L500.23 275.52 L500.21 274.85 L500.32 274.19 L500.52 273.52 L500.76 272.86 L501.24 272.20 L501.50 271.53 L501.14 270.87 L500.70 270.20 L500.48 269.54 L500.29 268.88 L500.20 268.21 L500.24 267.55 L500.36 266.88 L500.53 266.22 L500.84 265.56 L501.38 264.89 L501.70 264.23 L501.90 263.56 L502.00 262.90Z" fill="#f06c28" stroke="#2a1408" stroke-width="0.7" stroke-linejoin="round"/>
<path d="M500.6 315.9h0.8M501.1 310.6h0.8M502.2 317.9h0.8M501.6 313.7h0.8M501.9 316.6h0.8M501.1 306.4h0.8M501.4 297.2h0.8M502.6 319.2h0.8M500.1 306.0h0.8M502.9 303.2h0.8M502.6 318.3h0.8M501.8 311.0h0.8M503.8 311.7h0.8M502.8 315.1h0.8M501.2 318.4h0.8M501.7 300.2h0.8M499.7 298.8h0.8M501.6 303.4h0.8M501.1 307.2h0.8M500.1 291.3h0.8M503.7 298.4h0.8M500.5 315.7h0.8M501.9 301.0h0.8M502.5 311.7h0.8" stroke="#2a1005" stroke-width="0.6" stroke-opacity="0.85"/>
<line x1="493.4" y1="293.7" x2="510.6" y2="293.7" stroke="#2a1005" stroke-width="0.7" stroke-dasharray="0.7 1.6"/>
<line x1="492.2" y1="298.9" x2="511.8" y2="298.9" stroke="#2a1005" stroke-width="0.9" stroke-dasharray="1.5 0.9"/>
<line x1="496.0" y1="304.0" x2="508.0" y2="304.0" stroke="#2a1005" stroke-width="0.7" stroke-dasharray="0.7 1.6"/>
<line x1="575.20" y1="377.30" x2="682.30" y2="377.30" stroke="#8a8a8a" stroke-width="1.1"/>
<line x1="575.20" y1="377.30" x2="575.20" y2="220.70" stroke="#8a8a8a" stroke-width="0.85"/>
<line x1="570.00" y1="251.00" x2="575.20" y2="251.00" stroke="#5a5a5a" stroke-width="0.85"/>
<line x1="570.00" y1="314.15" x2="575.20" y2="314.15" stroke="#5a5a5a" stroke-width="0.85"/>
<line x1="570.00" y1="377.30" x2="575.20" y2="377.30" stroke="#5a5a5a" stroke-width="0.85"/>
<line x1="572.80" y1="231.99" x2="575.20" y2="231.99" stroke="#5a5a5a" stroke-width="0.85"/>
<line x1="572.80" y1="220.87" x2="575.20" y2="220.87" stroke="#5a5a5a" stroke-width="0.85"/>
<line x1="572.80" y1="295.14" x2="575.20" y2="295.14" stroke="#5a5a5a" stroke-width="0.85"/>
<line x1="572.80" y1="284.02" x2="575.20" y2="284.02" stroke="#5a5a5a" stroke-width="0.85"/>
<line x1="572.80" y1="276.13" x2="575.20" y2="276.13" stroke="#5a5a5a" stroke-width="0.85"/>
<line x1="572.80" y1="270.01" x2="575.20" y2="270.01" stroke="#5a5a5a" stroke-width="0.85"/>
<line x1="572.80" y1="265.01" x2="575.20" y2="265.01" stroke="#5a5a5a" stroke-width="0.85"/>
<line x1="572.80" y1="260.78" x2="575.20" y2="260.78" stroke="#5a5a5a" stroke-width="0.85"/>
<line x1="572.80" y1="257.12" x2="575.20" y2="257.12" stroke="#5a5a5a" stroke-width="0.85"/>
<line x1="572.80" y1="253.89" x2="575.20" y2="253.89" stroke="#5a5a5a" stroke-width="0.85"/>
<line x1="572.80" y1="358.29" x2="575.20" y2="358.29" stroke="#5a5a5a" stroke-width="0.85"/>
<line x1="572.80" y1="347.17" x2="575.20" y2="347.17" stroke="#5a5a5a" stroke-width="0.85"/>
<line x1="572.80" y1="339.28" x2="575.20" y2="339.28" stroke="#5a5a5a" stroke-width="0.85"/>
<line x1="572.80" y1="333.16" x2="575.20" y2="333.16" stroke="#5a5a5a" stroke-width="0.85"/>
<line x1="572.80" y1="328.16" x2="575.20" y2="328.16" stroke="#5a5a5a" stroke-width="0.85"/>
<line x1="572.80" y1="323.93" x2="575.20" y2="323.93" stroke="#5a5a5a" stroke-width="0.85"/>
<line x1="572.80" y1="320.27" x2="575.20" y2="320.27" stroke="#5a5a5a" stroke-width="0.85"/>
<line x1="572.80" y1="317.04" x2="575.20" y2="317.04" stroke="#5a5a5a" stroke-width="0.85"/>
<text x="567.6" y="253.6" font-size="7.4" fill="#444" text-anchor="end">1</text>
<text x="567.6" y="316.75" font-size="7.4" fill="#444" text-anchor="end">0.1</text>
<text x="567.6" y="379.90000000000003" font-size="7.4" fill="#444" text-anchor="end">0.01</text>
<line x1="596.40" y1="377.30" x2="596.40" y2="381.80" stroke="#5a5a5a" stroke-width="0.85"/>
<line x1="629.20" y1="377.30" x2="629.20" y2="381.80" stroke="#5a5a5a" stroke-width="0.85"/>
<line x1="661.60" y1="377.30" x2="661.60" y2="381.80" stroke="#5a5a5a" stroke-width="0.85"/>
<text x="600.2" y="390.4" font-size="8.8" fill="#3a3a3a" text-anchor="end" transform="rotate(-45 600.2 390.4)">HaloTag7</text>
<text x="633.0" y="390.4" font-size="8.8" fill="#3a3a3a" text-anchor="end" transform="rotate(-45 633.0 390.4)">SNAP-tag2</text>
<text x="665.4" y="390.4" font-size="8.8" fill="#3a3a3a" text-anchor="end" transform="rotate(-45 665.4 390.4)">SNAP<tspan font-size="5.4" dy="1.8">f</tspan><tspan dy="-1.8">-tag</tspan></text>
<text x="628.1" y="218.9" font-size="8.2" fill="#3a3a3a" text-anchor="middle" textLength="30" lengthAdjust="spacingAndGlyphs">MaP618</text>
<text x="551.6" y="299.2" font-size="9" fill="#3a3a3a" text-anchor="middle" textLength="136.6" lengthAdjust="spacingAndGlyphs" transform="rotate(-90 551.6 299.2)">Normalized fluorescence intensity</text>
<path d="M596.4 246.5 V235.1 H629.3 V273.8 M629.3 269.3 H661.6 V309.8" stroke="#777" stroke-width="0.7" fill="none"/>
<text x="612.3" y="233.6" font-size="6.6" fill="#3a3a3a" text-anchor="middle">2.7 ×</text>
<polygon points="604.74,238.70 605.27,239.97 606.64,240.08 605.59,240.98 605.91,242.32 604.74,241.60 603.56,242.32 603.88,240.98 602.84,240.08 604.21,239.97" fill="#3a3a3a"/>
<polygon points="609.21,238.70 609.74,239.97 611.11,240.08 610.07,240.98 610.39,242.32 609.21,241.60 608.04,242.32 608.36,240.98 607.31,240.08 608.68,239.97" fill="#3a3a3a"/>
<polygon points="613.69,238.70 614.22,239.97 615.59,240.08 614.54,240.98 614.86,242.32 613.69,241.60 612.51,242.32 612.83,240.98 611.79,240.08 613.16,239.97" fill="#3a3a3a"/>
<polygon points="618.16,238.70 618.69,239.97 620.06,240.08 619.02,240.98 619.34,242.32 618.16,241.60 616.99,242.32 617.31,240.98 616.26,240.08 617.63,239.97" fill="#3a3a3a"/>
<text x="645.0" y="267.2" font-size="6.6" fill="#3a3a3a" text-anchor="middle">5.2 ×</text>
<polygon points="639.26,271.80 639.79,273.07 641.16,273.18 640.12,274.08 640.44,275.42 639.26,274.70 638.09,275.42 638.41,274.08 637.36,273.18 638.73,273.07" fill="#3a3a3a"/>
<polygon points="643.59,271.80 644.12,273.07 645.49,273.18 644.44,274.08 644.76,275.42 643.59,274.70 642.41,275.42 642.73,274.08 641.69,273.18 643.06,273.07" fill="#3a3a3a"/>
<polygon points="647.91,271.80 648.44,273.07 649.81,273.18 648.77,274.08 649.09,275.42 647.91,274.70 646.74,275.42 647.06,274.08 646.01,273.18 647.38,273.07" fill="#3a3a3a"/>
<polygon points="652.24,271.80 652.77,273.07 654.14,273.18 653.09,274.08 653.41,275.42 652.24,274.70 651.06,275.42 651.38,274.08 650.34,273.18 651.71,273.07" fill="#3a3a3a"/>
<path d="M596.40 246.70 L596.74 246.84 L597.07 246.98 L597.35 247.12 L597.56 247.27 L597.71 247.41 L597.83 247.55 L597.93 247.69 L598.02 247.83 L598.11 247.97 L598.18 248.12 L598.26 248.26 L598.34 248.40 L598.43 248.54 L598.51 248.68 L598.60 248.82 L598.68 248.97 L598.76 249.11 L598.84 249.25 L598.93 249.39 L599.02 249.53 L599.11 249.67 L599.20 249.81 L599.29 249.96 L599.39 250.10 L599.49 250.24 L599.60 250.38 L599.72 250.52 L599.85 250.66 L600.00 250.81 L600.15 250.95 L600.32 251.09 L600.50 251.23 L600.70 251.37 L600.92 251.51 L601.17 251.66 L601.45 251.80 L601.76 251.94 L602.11 252.08 L602.48 252.22 L602.89 252.36 L603.38 252.50 L603.92 252.65 L604.48 252.79 L605.01 252.93 L605.57 253.07 L606.12 253.21 L606.58 253.35 L606.93 253.50 L607.24 253.64 L607.40 253.78 L607.35 253.92 L607.20 254.06 L606.99 254.20 L606.77 254.34 L606.59 254.49 L606.39 254.63 L606.19 254.77 L605.99 254.91 L605.77 255.05 L605.56 255.19 L605.35 255.34 L605.13 255.48 L604.92 255.62 L604.70 255.76 L604.48 255.90 L604.25 256.04 L604.01 256.19 L603.75 256.33 L603.47 256.47 L603.18 256.61 L602.86 256.75 L602.54 256.89 L602.22 257.03 L601.89 257.18 L601.56 257.32 L601.23 257.46 L600.90 257.60 L600.56 257.74 L600.22 257.88 L599.88 258.03 L599.53 258.17 L599.18 258.31 L598.83 258.45 L598.48 258.59 L598.13 258.73 L597.75 258.88 L597.35 259.02 L596.89 259.16 L596.40 259.30 L596.40 259.30 L595.91 259.16 L595.45 259.02 L595.05 258.88 L594.67 258.73 L594.32 258.59 L593.97 258.45 L593.62 258.31 L593.27 258.17 L592.92 258.03 L592.58 257.88 L592.24 257.74 L591.90 257.60 L591.57 257.46 L591.24 257.32 L590.91 257.18 L590.58 257.03 L590.26 256.89 L589.94 256.75 L589.62 256.61 L589.33 256.47 L589.05 256.33 L588.79 256.19 L588.55 256.04 L588.32 255.90 L588.10 255.76 L587.88 255.62 L587.67 255.48 L587.45 255.34 L587.24 255.19 L587.03 255.05 L586.81 254.91 L586.61 254.77 L586.41 254.63 L586.21 254.49 L586.03 254.34 L585.81 254.20 L585.60 254.06 L585.45 253.92 L585.40 253.78 L585.56 253.64 L585.87 253.50 L586.22 253.35 L586.68 253.21 L587.23 253.07 L587.79 252.93 L588.32 252.79 L588.88 252.65 L589.42 252.50 L589.91 252.36 L590.32 252.22 L590.69 252.08 L591.04 251.94 L591.35 251.80 L591.63 251.66 L591.88 251.51 L592.10 251.37 L592.30 251.23 L592.48 251.09 L592.65 250.95 L592.80 250.81 L592.95 250.66 L593.08 250.52 L593.20 250.38 L593.31 250.24 L593.41 250.10 L593.51 249.96 L593.60 249.81 L593.69 249.67 L593.78 249.53 L593.87 249.39 L593.96 249.25 L594.04 249.11 L594.12 248.97 L594.20 248.82 L594.29 248.68 L594.37 248.54 L594.46 248.40 L594.54 248.26 L594.62 248.12 L594.69 247.97 L594.78 247.83 L594.87 247.69 L594.97 247.55 L595.09 247.41 L595.24 247.27 L595.45 247.12 L595.73 246.98 L596.06 246.84 L596.40 246.70Z" fill="#1e9ad8" stroke="#0a1420" stroke-width="0.9" stroke-linejoin="round"/>
<path d="M600.9 255.1h0.9M601.6 252.6h0.9M592.9 255.5h0.9M595.0 248.4h0.9M596.1 251.1h0.9M598.5 257.7h0.9M602.0 256.6h0.9M599.5 256.3h0.9M594.5 250.9h0.9M590.8 253.4h0.9M596.4 258.1h0.9M588.0 253.8h0.9M596.2 258.1h0.9M591.0 252.8h0.9M597.4 247.8h0.9M598.5 251.4h0.9M597.2 252.3h0.9M594.6 251.0h0.9M595.1 248.2h0.9M589.0 254.1h0.9M593.0 257.7h0.9M594.8 253.2h0.9M591.9 253.2h0.9M597.1 257.9h0.9M597.6 248.9h0.9M595.2 249.5h0.9M590.5 254.3h0.9M602.9 252.8h0.9M593.6 253.5h0.9M595.8 256.4h0.9M596.8 257.1h0.9M594.6 251.6h0.9M598.7 254.0h0.9M594.7 249.9h0.9M596.5 250.2h0.9M588.6 253.9h0.9M596.5 250.0h0.9M601.4 256.5h0.9M598.5 253.6h0.9M598.0 250.4h0.9M601.3 253.7h0.9M598.1 249.5h0.9M594.2 250.0h0.9M596.1 257.5h0.9M592.5 254.4h0.9M595.6 255.9h0.9M596.6 251.6h0.9M596.5 253.1h0.9M597.3 247.9h0.9M596.0 247.9h0.9M592.5 256.1h0.9M595.1 256.0h0.9M597.6 256.0h0.9M598.5 258.0h0.9M594.9 250.7h0.9" stroke="#0a1828" stroke-width="0.9" stroke-opacity="0.8"/>
<path d="M629.00 274.00 L629.36 274.14 L629.69 274.29 L629.97 274.43 L630.17 274.58 L630.31 274.72 L630.44 274.86 L630.55 275.01 L630.64 275.15 L630.69 275.29 L630.70 275.44 L630.61 275.58 L630.45 275.73 L630.26 275.87 L630.10 276.01 L630.01 276.16 L630.03 276.30 L630.14 276.44 L630.31 276.59 L630.51 276.73 L630.72 276.88 L631.02 277.02 L631.39 277.16 L631.78 277.31 L632.16 277.45 L632.49 277.60 L632.78 277.74 L633.07 277.88 L633.36 278.03 L633.63 278.17 L633.89 278.31 L634.13 278.46 L634.35 278.60 L634.54 278.75 L634.70 278.89 L634.84 279.03 L634.97 279.18 L635.10 279.32 L635.21 279.47 L635.32 279.61 L635.42 279.75 L635.52 279.90 L635.63 280.04 L635.72 280.18 L635.80 280.33 L635.88 280.47 L635.97 280.62 L636.07 280.76 L636.20 280.90 L636.39 281.05 L636.65 281.19 L636.95 281.33 L637.28 281.48 L637.62 281.62 L637.93 281.77 L638.25 281.91 L638.62 282.05 L638.99 282.20 L639.32 282.34 L639.54 282.49 L639.59 282.63 L639.22 282.77 L638.50 282.92 L637.68 283.06 L636.98 283.20 L636.42 283.35 L635.88 283.49 L635.36 283.64 L634.88 283.78 L634.43 283.92 L634.01 284.07 L633.62 284.21 L633.25 284.36 L632.90 284.50 L632.56 284.64 L632.23 284.79 L631.91 284.93 L631.60 285.07 L631.30 285.22 L631.02 285.36 L630.76 285.51 L630.52 285.65 L630.29 285.79 L630.07 285.94 L629.86 286.08 L629.66 286.22 L629.48 286.37 L629.30 286.51 L629.14 286.66 L629.00 286.80 L629.00 286.80 L628.86 286.66 L628.70 286.51 L628.52 286.37 L628.34 286.22 L628.14 286.08 L627.93 285.94 L627.71 285.79 L627.48 285.65 L627.24 285.51 L626.98 285.36 L626.70 285.22 L626.40 285.07 L626.09 284.93 L625.77 284.79 L625.44 284.64 L625.10 284.50 L624.75 284.36 L624.38 284.21 L623.99 284.07 L623.57 283.92 L623.12 283.78 L622.64 283.64 L622.12 283.49 L621.58 283.35 L621.02 283.20 L620.32 283.06 L619.50 282.92 L618.78 282.77 L618.41 282.63 L618.46 282.49 L618.68 282.34 L619.01 282.20 L619.38 282.05 L619.75 281.91 L620.07 281.77 L620.38 281.62 L620.72 281.48 L621.05 281.33 L621.35 281.19 L621.61 281.05 L621.80 280.90 L621.93 280.76 L622.03 280.62 L622.12 280.47 L622.20 280.33 L622.28 280.18 L622.37 280.04 L622.48 279.90 L622.58 279.75 L622.68 279.61 L622.79 279.47 L622.90 279.32 L623.03 279.18 L623.16 279.03 L623.30 278.89 L623.46 278.75 L623.65 278.60 L623.87 278.46 L624.11 278.31 L624.37 278.17 L624.64 278.03 L624.93 277.88 L625.22 277.74 L625.51 277.60 L625.84 277.45 L626.22 277.31 L626.61 277.16 L626.98 277.02 L627.28 276.88 L627.49 276.73 L627.69 276.59 L627.86 276.44 L627.97 276.30 L627.99 276.16 L627.90 276.01 L627.74 275.87 L627.55 275.73 L627.39 275.58 L627.30 275.44 L627.31 275.29 L627.36 275.15 L627.45 275.01 L627.56 274.86 L627.69 274.72 L627.83 274.58 L628.03 274.43 L628.31 274.29 L628.64 274.14 L629.00 274.00Z" fill="#44549e" stroke="#0a0a1c" stroke-width="0.9" stroke-linejoin="round"/>
<path d="M627.3 277.6h0.9M627.0 284.6h0.9M629.9 275.4h0.9M631.8 284.4h0.9M630.2 285.4h0.9M629.1 275.9h0.9M635.8 281.4h0.9M623.3 282.4h0.9M624.1 279.8h0.9M627.9 275.7h0.9M630.1 275.8h0.9M628.8 277.2h0.9M623.9 281.3h0.9M628.5 278.1h0.9M628.2 278.4h0.9M629.1 284.8h0.9M629.9 275.9h0.9M628.0 283.8h0.9M629.0 275.9h0.9M631.6 284.4h0.9M633.0 283.9h0.9M627.6 280.2h0.9M624.0 279.7h0.9M629.5 276.0h0.9M623.6 282.2h0.9M625.3 280.8h0.9M628.3 276.4h0.9M624.5 282.8h0.9M630.2 280.9h0.9M629.5 275.6h0.9M632.0 278.4h0.9M628.1 282.1h0.9M620.4 282.7h0.9M629.5 284.7h0.9M629.7 278.9h0.9M630.4 283.5h0.9M633.8 280.8h0.9M625.7 283.4h0.9M630.3 285.2h0.9M631.6 278.2h0.9M628.8 281.1h0.9M629.8 279.5h0.9M626.5 279.2h0.9M634.4 283.5h0.9M626.5 279.6h0.9M626.4 278.8h0.9M628.6 281.1h0.9M629.3 277.2h0.9M630.9 279.8h0.9M629.1 276.1h0.9" stroke="#0a0c24" stroke-width="0.9" stroke-opacity="0.8"/>
<line x1="661.50" y1="344.80" x2="661.50" y2="352.50" stroke="#1a1a2a" stroke-width="0.7"/>
<path d="M661.50 309.80 L661.73 310.19 L661.99 310.59 L662.28 310.98 L662.63 311.37 L663.02 311.77 L663.40 312.16 L663.74 312.55 L664.08 312.95 L664.42 313.34 L664.65 313.73 L664.69 314.13 L664.51 314.52 L664.20 314.91 L663.85 315.31 L663.55 315.70 L663.20 316.09 L662.86 316.49 L662.57 316.88 L662.35 317.27 L662.17 317.67 L662.10 318.06 L662.30 318.45 L662.70 318.84 L663.19 319.24 L663.65 319.63 L664.15 320.02 L664.69 320.42 L665.24 320.81 L665.77 321.20 L666.29 321.60 L666.81 321.99 L667.34 322.38 L667.89 322.78 L668.47 323.17 L669.05 323.56 L669.64 323.96 L670.25 324.35 L670.89 324.74 L671.43 325.14 L671.87 325.53 L672.10 325.92 L671.76 326.32 L671.13 326.71 L670.51 327.10 L669.78 327.50 L669.14 327.89 L668.67 328.28 L668.22 328.68 L667.90 329.07 L667.80 329.46 L667.80 329.86 L667.80 330.25 L667.80 330.64 L667.80 331.04 L667.86 331.43 L668.00 331.82 L668.16 332.22 L668.31 332.61 L668.40 333.00 L668.44 333.40 L668.47 333.79 L668.49 334.18 L668.50 334.58 L668.44 334.97 L668.33 335.36 L668.19 335.76 L668.04 336.15 L667.87 336.54 L667.67 336.93 L667.43 337.33 L667.18 337.72 L666.92 338.11 L666.62 338.51 L666.28 338.90 L665.92 339.29 L665.57 339.69 L665.23 340.08 L664.91 340.47 L664.60 340.87 L664.29 341.26 L663.98 341.65 L663.66 342.05 L663.35 342.44 L663.03 342.83 L662.72 343.23 L662.41 343.62 L662.10 344.01 L661.80 344.41 L661.50 344.80 L661.50 344.80 L661.20 344.41 L660.90 344.01 L660.59 343.62 L660.28 343.23 L659.97 342.83 L659.65 342.44 L659.34 342.05 L659.02 341.65 L658.71 341.26 L658.40 340.87 L658.09 340.47 L657.77 340.08 L657.43 339.69 L657.08 339.29 L656.72 338.90 L656.38 338.51 L656.08 338.11 L655.82 337.72 L655.57 337.33 L655.33 336.93 L655.13 336.54 L654.96 336.15 L654.81 335.76 L654.67 335.36 L654.56 334.97 L654.50 334.58 L654.51 334.18 L654.53 333.79 L654.56 333.40 L654.60 333.00 L654.69 332.61 L654.84 332.22 L655.00 331.82 L655.14 331.43 L655.20 331.04 L655.20 330.64 L655.20 330.25 L655.20 329.86 L655.20 329.46 L655.10 329.07 L654.78 328.68 L654.33 328.28 L653.86 327.89 L653.22 327.50 L652.49 327.10 L651.87 326.71 L651.24 326.32 L650.90 325.92 L651.13 325.53 L651.57 325.14 L652.11 324.74 L652.75 324.35 L653.36 323.96 L653.95 323.56 L654.53 323.17 L655.11 322.78 L655.66 322.38 L656.19 321.99 L656.71 321.60 L657.23 321.20 L657.76 320.81 L658.31 320.42 L658.85 320.02 L659.35 319.63 L659.81 319.24 L660.30 318.84 L660.70 318.45 L660.90 318.06 L660.83 317.67 L660.65 317.27 L660.43 316.88 L660.14 316.49 L659.80 316.09 L659.45 315.70 L659.15 315.31 L658.80 314.91 L658.49 314.52 L658.31 314.13 L658.35 313.73 L658.58 313.34 L658.92 312.95 L659.26 312.55 L659.60 312.16 L659.98 311.77 L660.37 311.37 L660.72 310.98 L661.01 310.59 L661.27 310.19 L661.50 309.80Z" fill="#a9c9ec" stroke="#1a1a2a" stroke-width="0.7" stroke-linejoin="round"/>
<path d="M663.0 326.5h0.8M659.3 329.8h0.8M662.8 324.3h0.8M661.1 338.3h0.8M663.8 339.1h0.8M663.0 339.3h0.8M661.1 338.9h0.8M660.9 325.2h0.8M663.0 323.5h0.8M662.1 337.9h0.8M660.1 324.0h0.8M661.2 323.4h0.8M661.3 335.9h0.8M663.6 323.2h0.8M662.1 334.7h0.8M662.6 328.3h0.8M661.4 327.4h0.8M659.3 327.8h0.8" stroke="#1a1a2a" stroke-width="0.6" stroke-opacity="0.85"/>
<line x1="651.5" y1="325.9" x2="671.5" y2="325.9" stroke="#1a1a2a" stroke-width="0.8" stroke-dasharray="1.5 0.9"/>
<line x1="655.3" y1="333.5" x2="667.7" y2="333.5" stroke="#1a1a2a" stroke-width="0.7" stroke-dasharray="0.7 1.6"/>
</svg></body></html>
